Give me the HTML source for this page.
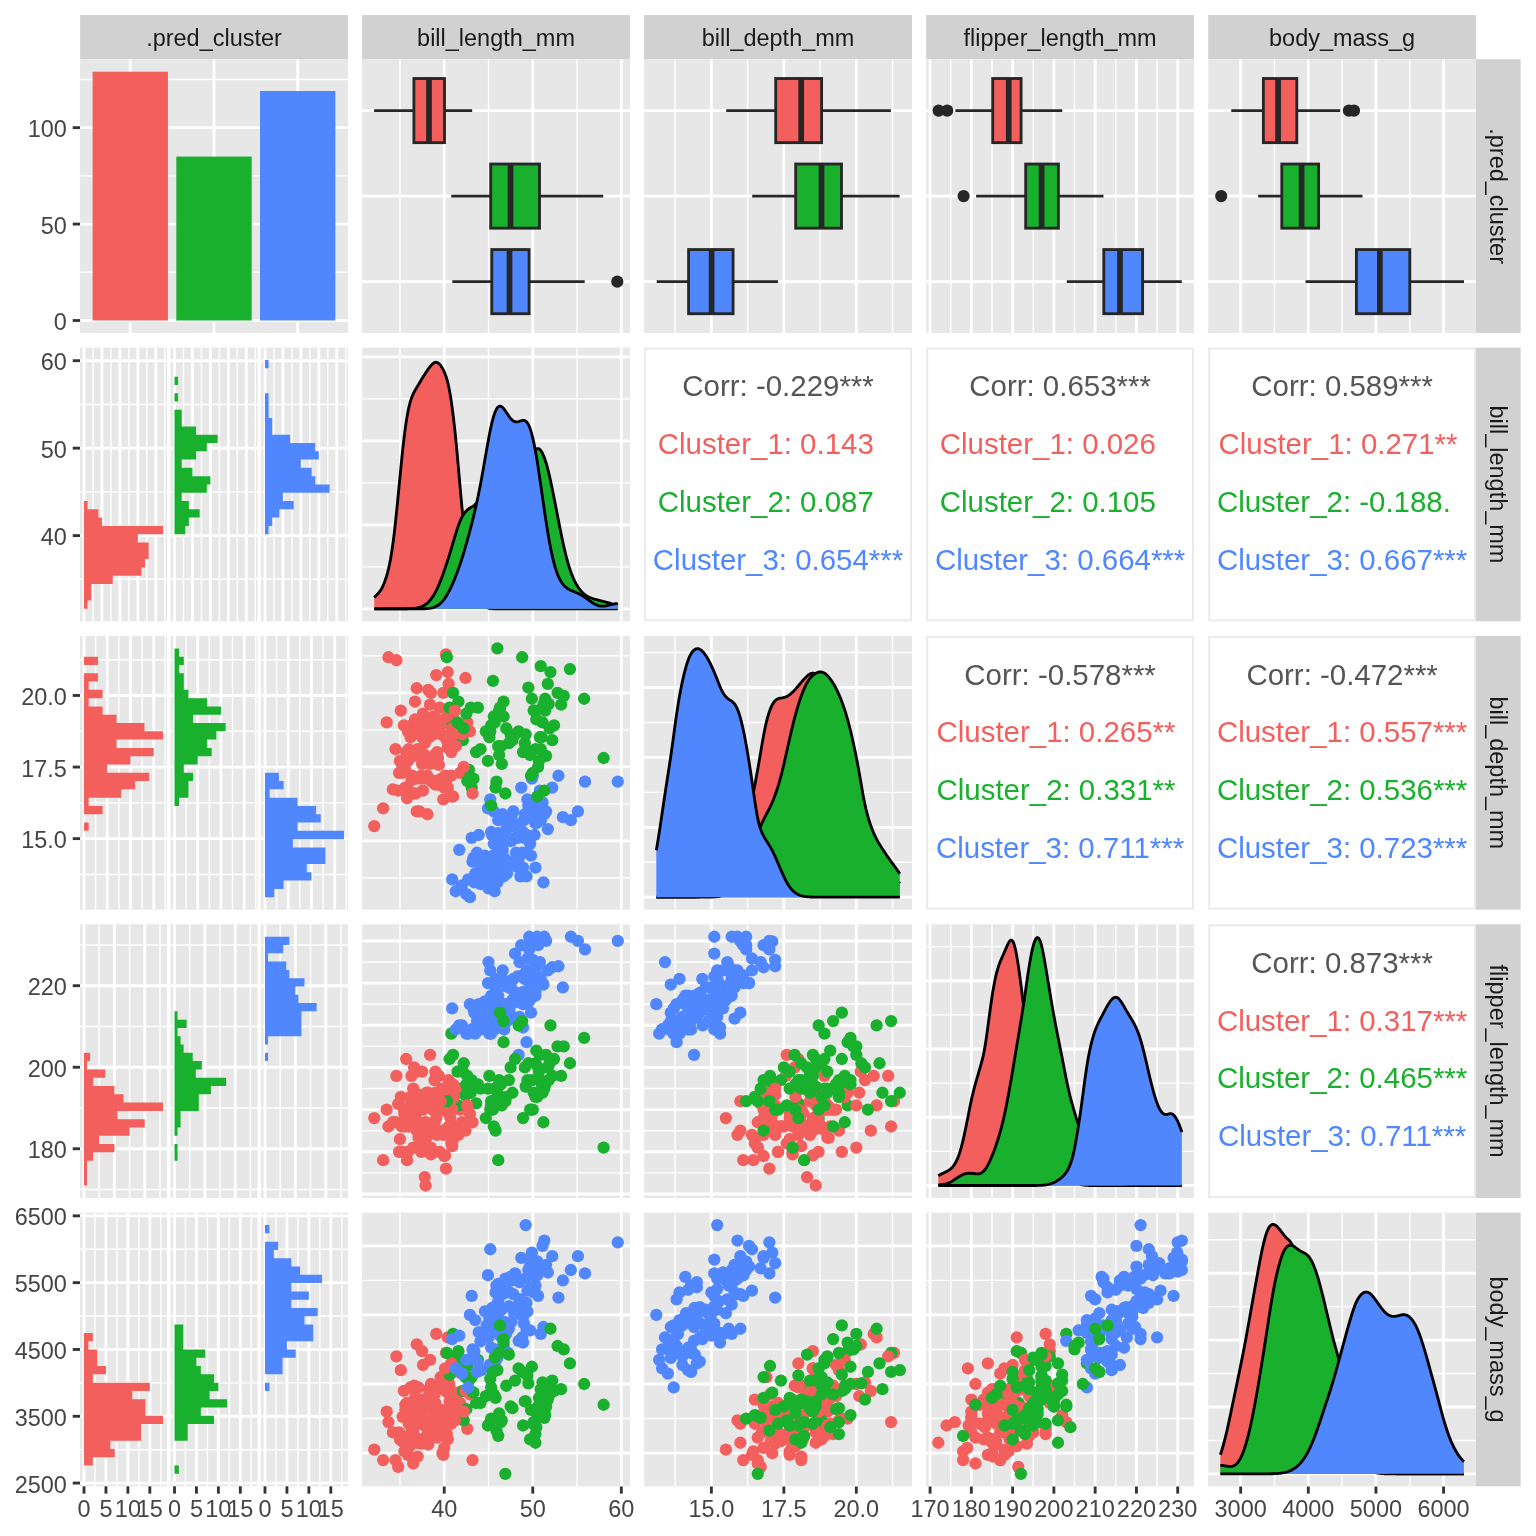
<!DOCTYPE html>
<html><head><meta charset="utf-8"><title>ggpairs clusters</title>
<style>html,body{margin:0;padding:0;background:#fff}svg{display:block;will-change:transform;font-family:"Liberation Sans",Arial,Helvetica,sans-serif}</style>
</head><body>
<svg width="1536" height="1536" viewBox="0 0 1536 1536">
<defs><clipPath id="c00"><rect x="80.07" y="59.27" width="267.85" height="273.67"/></clipPath><clipPath id="c01"><rect x="362.1" y="59.27" width="267.85" height="273.67"/></clipPath><clipPath id="c02"><rect x="644.13" y="59.27" width="267.85" height="273.67"/></clipPath><clipPath id="c03"><rect x="926.16" y="59.27" width="267.85" height="273.67"/></clipPath><clipPath id="c04"><rect x="1208.19" y="59.27" width="267.85" height="273.67"/></clipPath><clipPath id="c10"><rect x="80.07" y="347.61" width="267.85" height="273.67"/></clipPath><clipPath id="c11"><rect x="362.1" y="347.61" width="267.85" height="273.67"/></clipPath><clipPath id="c12"><rect x="644.13" y="347.61" width="267.85" height="273.67"/></clipPath><clipPath id="c13"><rect x="926.16" y="347.61" width="267.85" height="273.67"/></clipPath><clipPath id="c14"><rect x="1208.19" y="347.61" width="267.85" height="273.67"/></clipPath><clipPath id="c20"><rect x="80.07" y="635.95" width="267.85" height="273.67"/></clipPath><clipPath id="c21"><rect x="362.1" y="635.95" width="267.85" height="273.67"/></clipPath><clipPath id="c22"><rect x="644.13" y="635.95" width="267.85" height="273.67"/></clipPath><clipPath id="c23"><rect x="926.16" y="635.95" width="267.85" height="273.67"/></clipPath><clipPath id="c24"><rect x="1208.19" y="635.95" width="267.85" height="273.67"/></clipPath><clipPath id="c30"><rect x="80.07" y="924.29" width="267.85" height="273.67"/></clipPath><clipPath id="c31"><rect x="362.1" y="924.29" width="267.85" height="273.67"/></clipPath><clipPath id="c32"><rect x="644.13" y="924.29" width="267.85" height="273.67"/></clipPath><clipPath id="c33"><rect x="926.16" y="924.29" width="267.85" height="273.67"/></clipPath><clipPath id="c34"><rect x="1208.19" y="924.29" width="267.85" height="273.67"/></clipPath><clipPath id="c40"><rect x="80.07" y="1212.63" width="267.85" height="273.67"/></clipPath><clipPath id="c41"><rect x="362.1" y="1212.63" width="267.85" height="273.67"/></clipPath><clipPath id="c42"><rect x="644.13" y="1212.63" width="267.85" height="273.67"/></clipPath><clipPath id="c43"><rect x="926.16" y="1212.63" width="267.85" height="273.67"/></clipPath><clipPath id="c44"><rect x="1208.19" y="1212.63" width="267.85" height="273.67"/></clipPath></defs><rect x="0" y="0" width="1536" height="1536" fill="#FFFFFF"/>
<rect x="80.07" y="15.02" width="267.85" height="44.25" fill="#D1D1D1"/>
<text x="214" y="45.5" text-anchor="middle" font-size="23.47" fill="#1A1A1A">.pred_cluster</text>
<rect x="362.1" y="15.02" width="267.85" height="44.25" fill="#D1D1D1"/>
<text x="496.02" y="45.5" text-anchor="middle" font-size="23.47" fill="#1A1A1A">bill_length_mm</text>
<rect x="644.13" y="15.02" width="267.85" height="44.25" fill="#D1D1D1"/>
<text x="778.05" y="45.5" text-anchor="middle" font-size="23.47" fill="#1A1A1A">bill_depth_mm</text>
<rect x="926.16" y="15.02" width="267.85" height="44.25" fill="#D1D1D1"/>
<text x="1060.08" y="45.5" text-anchor="middle" font-size="23.47" fill="#1A1A1A">flipper_length_mm</text>
<rect x="1208.19" y="15.02" width="267.85" height="44.25" fill="#D1D1D1"/>
<text x="1342.11" y="45.5" text-anchor="middle" font-size="23.47" fill="#1A1A1A">body_mass_g</text>
<rect x="1476.04" y="59.27" width="44.6" height="273.67" fill="#D1D1D1"/>
<text transform="translate(1489.74,196.11) rotate(90)" text-anchor="middle" font-size="23.47" fill="#1A1A1A">.pred_cluster</text>
<rect x="1476.04" y="347.61" width="44.6" height="273.67" fill="#D1D1D1"/>
<text transform="translate(1489.74,484.45) rotate(90)" text-anchor="middle" font-size="23.47" fill="#1A1A1A">bill_length_mm</text>
<rect x="1476.04" y="635.95" width="44.6" height="273.67" fill="#D1D1D1"/>
<text transform="translate(1489.74,772.79) rotate(90)" text-anchor="middle" font-size="23.47" fill="#1A1A1A">bill_depth_mm</text>
<rect x="1476.04" y="924.29" width="44.6" height="273.67" fill="#D1D1D1"/>
<text transform="translate(1489.74,1061.12) rotate(90)" text-anchor="middle" font-size="23.47" fill="#1A1A1A">flipper_length_mm</text>
<rect x="1476.04" y="1212.63" width="44.6" height="273.67" fill="#D1D1D1"/>
<text transform="translate(1489.74,1349.47) rotate(90)" text-anchor="middle" font-size="23.47" fill="#1A1A1A">body_mass_g</text>
<rect x="80.07" y="59.27" width="267.85" height="273.67" fill="#E7E7E7"/>
<g clip-path="url(#c00)">
<line x1="80.07" y1="272.29" x2="347.92" y2="272.29" stroke="#FFFFFF" stroke-width="1.42"/>
<line x1="80.07" y1="175.85" x2="347.92" y2="175.85" stroke="#FFFFFF" stroke-width="1.42"/>
<line x1="80.07" y1="79.42" x2="347.92" y2="79.42" stroke="#FFFFFF" stroke-width="1.42"/>
<line x1="80.07" y1="320.5" x2="347.92" y2="320.5" stroke="#FFFFFF" stroke-width="2.85"/>
<line x1="80.07" y1="224.07" x2="347.92" y2="224.07" stroke="#FFFFFF" stroke-width="2.85"/>
<line x1="80.07" y1="127.64" x2="347.92" y2="127.64" stroke="#FFFFFF" stroke-width="2.85"/>
<line x1="130.29" y1="59.27" x2="130.29" y2="332.94" stroke="#FFFFFF" stroke-width="2.85"/>
<line x1="214" y1="59.27" x2="214" y2="332.94" stroke="#FFFFFF" stroke-width="2.85"/>
<line x1="297.7" y1="59.27" x2="297.7" y2="332.94" stroke="#FFFFFF" stroke-width="2.85"/>
<rect x="92.63" y="71.71" width="75.33" height="248.79" fill="#F25F5C"/>
<rect x="176.33" y="156.57" width="75.33" height="163.93" fill="#19B02D"/>
<rect x="260.03" y="91" width="75.33" height="229.5" fill="#5087FF"/>
</g>
<line x1="72.74" y1="320.5" x2="80.07" y2="320.5" stroke="#333333" stroke-width="2.85"/>
<text x="66.87" y="330.1" text-anchor="end" font-size="23.47" fill="#454545">0</text>
<line x1="72.74" y1="224.07" x2="80.07" y2="224.07" stroke="#333333" stroke-width="2.85"/>
<text x="66.87" y="233.67" text-anchor="end" font-size="23.47" fill="#454545">50</text>
<line x1="72.74" y1="127.64" x2="80.07" y2="127.64" stroke="#333333" stroke-width="2.85"/>
<text x="66.87" y="137.24" text-anchor="end" font-size="23.47" fill="#454545">100</text>
<rect x="362.1" y="59.27" width="267.85" height="273.67" fill="#E7E7E7"/>
<g clip-path="url(#c01)">
<line x1="399.95" y1="59.27" x2="399.95" y2="332.94" stroke="#FFFFFF" stroke-width="1.42"/>
<line x1="488.5" y1="59.27" x2="488.5" y2="332.94" stroke="#FFFFFF" stroke-width="1.42"/>
<line x1="577.04" y1="59.27" x2="577.04" y2="332.94" stroke="#FFFFFF" stroke-width="1.42"/>
<line x1="444.23" y1="59.27" x2="444.23" y2="332.94" stroke="#FFFFFF" stroke-width="2.85"/>
<line x1="532.77" y1="59.27" x2="532.77" y2="332.94" stroke="#FFFFFF" stroke-width="2.85"/>
<line x1="621.32" y1="59.27" x2="621.32" y2="332.94" stroke="#FFFFFF" stroke-width="2.85"/>
<line x1="362.1" y1="110.58" x2="629.95" y2="110.58" stroke="#FFFFFF" stroke-width="2.85"/>
<line x1="362.1" y1="196.11" x2="629.95" y2="196.11" stroke="#FFFFFF" stroke-width="2.85"/>
<line x1="362.1" y1="281.63" x2="629.95" y2="281.63" stroke="#FFFFFF" stroke-width="2.85"/>
<line x1="374.1" y1="110.58" x2="413.9" y2="110.58" stroke="#262626" stroke-width="2.85"/>
<line x1="444.5" y1="110.58" x2="472.2" y2="110.58" stroke="#262626" stroke-width="2.85"/>
<rect x="413.9" y="78.51" width="30.6" height="64.14" fill="#F25F5C" stroke="#262626" stroke-width="2.85"/>
<line x1="429" y1="78.51" x2="429" y2="142.65" stroke="#262626" stroke-width="5.7"/>
<line x1="451.3" y1="196.11" x2="490.7" y2="196.11" stroke="#262626" stroke-width="2.85"/>
<line x1="539.5" y1="196.11" x2="603.2" y2="196.11" stroke="#262626" stroke-width="2.85"/>
<rect x="490.7" y="164.03" width="48.8" height="64.14" fill="#19B02D" stroke="#262626" stroke-width="2.85"/>
<line x1="510.5" y1="164.03" x2="510.5" y2="228.18" stroke="#262626" stroke-width="5.7"/>
<circle cx="617.3" cy="281.63" r="6.1" fill="#262626"/>
<line x1="452.3" y1="281.63" x2="491.8" y2="281.63" stroke="#262626" stroke-width="2.85"/>
<line x1="529.1" y1="281.63" x2="584.7" y2="281.63" stroke="#262626" stroke-width="2.85"/>
<rect x="491.8" y="249.56" width="37.3" height="64.14" fill="#5087FF" stroke="#262626" stroke-width="2.85"/>
<line x1="509.5" y1="249.56" x2="509.5" y2="313.7" stroke="#262626" stroke-width="5.7"/>
</g>
<rect x="644.13" y="59.27" width="267.85" height="273.67" fill="#E7E7E7"/>
<g clip-path="url(#c02)">
<line x1="675.15" y1="59.27" x2="675.15" y2="332.94" stroke="#FFFFFF" stroke-width="1.42"/>
<line x1="747.62" y1="59.27" x2="747.62" y2="332.94" stroke="#FFFFFF" stroke-width="1.42"/>
<line x1="820.09" y1="59.27" x2="820.09" y2="332.94" stroke="#FFFFFF" stroke-width="1.42"/>
<line x1="892.56" y1="59.27" x2="892.56" y2="332.94" stroke="#FFFFFF" stroke-width="1.42"/>
<line x1="711.38" y1="59.27" x2="711.38" y2="332.94" stroke="#FFFFFF" stroke-width="2.85"/>
<line x1="783.85" y1="59.27" x2="783.85" y2="332.94" stroke="#FFFFFF" stroke-width="2.85"/>
<line x1="856.32" y1="59.27" x2="856.32" y2="332.94" stroke="#FFFFFF" stroke-width="2.85"/>
<line x1="644.13" y1="110.58" x2="911.98" y2="110.58" stroke="#FFFFFF" stroke-width="2.85"/>
<line x1="644.13" y1="196.11" x2="911.98" y2="196.11" stroke="#FFFFFF" stroke-width="2.85"/>
<line x1="644.13" y1="281.63" x2="911.98" y2="281.63" stroke="#FFFFFF" stroke-width="2.85"/>
<line x1="726.2" y1="110.58" x2="775.7" y2="110.58" stroke="#262626" stroke-width="2.85"/>
<line x1="821.6" y1="110.58" x2="890.9" y2="110.58" stroke="#262626" stroke-width="2.85"/>
<rect x="775.7" y="78.51" width="45.9" height="64.14" fill="#F25F5C" stroke="#262626" stroke-width="2.85"/>
<line x1="801.2" y1="78.51" x2="801.2" y2="142.65" stroke="#262626" stroke-width="5.7"/>
<line x1="752.2" y1="196.11" x2="795.7" y2="196.11" stroke="#262626" stroke-width="2.85"/>
<line x1="841.5" y1="196.11" x2="899.6" y2="196.11" stroke="#262626" stroke-width="2.85"/>
<rect x="795.7" y="164.03" width="45.8" height="64.14" fill="#19B02D" stroke="#262626" stroke-width="2.85"/>
<line x1="821.5" y1="164.03" x2="821.5" y2="228.18" stroke="#262626" stroke-width="5.7"/>
<line x1="656.7" y1="281.63" x2="688.6" y2="281.63" stroke="#262626" stroke-width="2.85"/>
<line x1="733.1" y1="281.63" x2="778" y2="281.63" stroke="#262626" stroke-width="2.85"/>
<rect x="688.6" y="249.56" width="44.5" height="64.14" fill="#5087FF" stroke="#262626" stroke-width="2.85"/>
<line x1="711.6" y1="249.56" x2="711.6" y2="313.7" stroke="#262626" stroke-width="5.7"/>
</g>
<rect x="926.16" y="59.27" width="267.85" height="273.67" fill="#E7E7E7"/>
<g clip-path="url(#c03)">
<line x1="950.72" y1="59.27" x2="950.72" y2="332.94" stroke="#FFFFFF" stroke-width="1.42"/>
<line x1="991.99" y1="59.27" x2="991.99" y2="332.94" stroke="#FFFFFF" stroke-width="1.42"/>
<line x1="1033.26" y1="59.27" x2="1033.26" y2="332.94" stroke="#FFFFFF" stroke-width="1.42"/>
<line x1="1074.53" y1="59.27" x2="1074.53" y2="332.94" stroke="#FFFFFF" stroke-width="1.42"/>
<line x1="1115.8" y1="59.27" x2="1115.8" y2="332.94" stroke="#FFFFFF" stroke-width="1.42"/>
<line x1="1157.07" y1="59.27" x2="1157.07" y2="332.94" stroke="#FFFFFF" stroke-width="1.42"/>
<line x1="930.08" y1="59.27" x2="930.08" y2="332.94" stroke="#FFFFFF" stroke-width="2.85"/>
<line x1="971.35" y1="59.27" x2="971.35" y2="332.94" stroke="#FFFFFF" stroke-width="2.85"/>
<line x1="1012.62" y1="59.27" x2="1012.62" y2="332.94" stroke="#FFFFFF" stroke-width="2.85"/>
<line x1="1053.89" y1="59.27" x2="1053.89" y2="332.94" stroke="#FFFFFF" stroke-width="2.85"/>
<line x1="1095.17" y1="59.27" x2="1095.17" y2="332.94" stroke="#FFFFFF" stroke-width="2.85"/>
<line x1="1136.44" y1="59.27" x2="1136.44" y2="332.94" stroke="#FFFFFF" stroke-width="2.85"/>
<line x1="1177.71" y1="59.27" x2="1177.71" y2="332.94" stroke="#FFFFFF" stroke-width="2.85"/>
<line x1="926.16" y1="110.58" x2="1194.01" y2="110.58" stroke="#FFFFFF" stroke-width="2.85"/>
<line x1="926.16" y1="196.11" x2="1194.01" y2="196.11" stroke="#FFFFFF" stroke-width="2.85"/>
<line x1="926.16" y1="281.63" x2="1194.01" y2="281.63" stroke="#FFFFFF" stroke-width="2.85"/>
<circle cx="938.6" cy="110.58" r="6.1" fill="#262626"/>
<circle cx="947.2" cy="110.58" r="6.1" fill="#262626"/>
<line x1="955.4" y1="110.58" x2="992.7" y2="110.58" stroke="#262626" stroke-width="2.85"/>
<line x1="1021.1" y1="110.58" x2="1062.3" y2="110.58" stroke="#262626" stroke-width="2.85"/>
<rect x="992.7" y="78.51" width="28.4" height="64.14" fill="#F25F5C" stroke="#262626" stroke-width="2.85"/>
<line x1="1008.75" y1="78.51" x2="1008.75" y2="142.65" stroke="#262626" stroke-width="5.7"/>
<circle cx="963.6" cy="196.11" r="6.1" fill="#262626"/>
<line x1="976.1" y1="196.11" x2="1025.7" y2="196.11" stroke="#262626" stroke-width="2.85"/>
<line x1="1058.4" y1="196.11" x2="1103.5" y2="196.11" stroke="#262626" stroke-width="2.85"/>
<rect x="1025.7" y="164.03" width="32.7" height="64.14" fill="#19B02D" stroke="#262626" stroke-width="2.85"/>
<line x1="1041.6" y1="164.03" x2="1041.6" y2="228.18" stroke="#262626" stroke-width="5.7"/>
<line x1="1066.8" y1="281.63" x2="1103.8" y2="281.63" stroke="#262626" stroke-width="2.85"/>
<line x1="1142.6" y1="281.63" x2="1181.8" y2="281.63" stroke="#262626" stroke-width="2.85"/>
<rect x="1103.8" y="249.56" width="38.8" height="64.14" fill="#5087FF" stroke="#262626" stroke-width="2.85"/>
<line x1="1120" y1="249.56" x2="1120" y2="313.7" stroke="#262626" stroke-width="5.7"/>
</g>
<rect x="1208.19" y="59.27" width="267.85" height="273.67" fill="#E7E7E7"/>
<g clip-path="url(#c04)">
<line x1="1274.48" y1="59.27" x2="1274.48" y2="332.94" stroke="#FFFFFF" stroke-width="1.42"/>
<line x1="1342.11" y1="59.27" x2="1342.11" y2="332.94" stroke="#FFFFFF" stroke-width="1.42"/>
<line x1="1409.75" y1="59.27" x2="1409.75" y2="332.94" stroke="#FFFFFF" stroke-width="1.42"/>
<line x1="1240.66" y1="59.27" x2="1240.66" y2="332.94" stroke="#FFFFFF" stroke-width="2.85"/>
<line x1="1308.3" y1="59.27" x2="1308.3" y2="332.94" stroke="#FFFFFF" stroke-width="2.85"/>
<line x1="1375.93" y1="59.27" x2="1375.93" y2="332.94" stroke="#FFFFFF" stroke-width="2.85"/>
<line x1="1443.57" y1="59.27" x2="1443.57" y2="332.94" stroke="#FFFFFF" stroke-width="2.85"/>
<line x1="1208.19" y1="110.58" x2="1476.04" y2="110.58" stroke="#FFFFFF" stroke-width="2.85"/>
<line x1="1208.19" y1="196.11" x2="1476.04" y2="196.11" stroke="#FFFFFF" stroke-width="2.85"/>
<line x1="1208.19" y1="281.63" x2="1476.04" y2="281.63" stroke="#FFFFFF" stroke-width="2.85"/>
<circle cx="1348.9" cy="110.58" r="6.1" fill="#262626"/>
<circle cx="1354" cy="110.58" r="6.1" fill="#262626"/>
<line x1="1231.25" y1="110.58" x2="1263.4" y2="110.58" stroke="#262626" stroke-width="2.85"/>
<line x1="1296.8" y1="110.58" x2="1340.2" y2="110.58" stroke="#262626" stroke-width="2.85"/>
<rect x="1263.4" y="78.51" width="33.4" height="64.14" fill="#F25F5C" stroke="#262626" stroke-width="2.85"/>
<line x1="1278.1" y1="78.51" x2="1278.1" y2="142.65" stroke="#262626" stroke-width="5.7"/>
<circle cx="1221.2" cy="196.11" r="6.1" fill="#262626"/>
<line x1="1258.2" y1="196.11" x2="1281.8" y2="196.11" stroke="#262626" stroke-width="2.85"/>
<line x1="1318.6" y1="196.11" x2="1362.5" y2="196.11" stroke="#262626" stroke-width="2.85"/>
<rect x="1281.8" y="164.03" width="36.8" height="64.14" fill="#19B02D" stroke="#262626" stroke-width="2.85"/>
<line x1="1301.6" y1="164.03" x2="1301.6" y2="228.18" stroke="#262626" stroke-width="5.7"/>
<line x1="1305.5" y1="281.63" x2="1356.4" y2="281.63" stroke="#262626" stroke-width="2.85"/>
<line x1="1409.8" y1="281.63" x2="1464" y2="281.63" stroke="#262626" stroke-width="2.85"/>
<rect x="1356.4" y="249.56" width="53.4" height="64.14" fill="#5087FF" stroke="#262626" stroke-width="2.85"/>
<line x1="1379.9" y1="249.56" x2="1379.9" y2="313.7" stroke="#262626" stroke-width="5.7"/>
</g>
<rect x="80.07" y="347.61" width="86.88" height="273.67" fill="#E7E7E7"/>
<line x1="80.07" y1="579.33" x2="166.95" y2="579.33" stroke="#FFFFFF" stroke-width="1.42"/>
<line x1="80.07" y1="491.88" x2="166.95" y2="491.88" stroke="#FFFFFF" stroke-width="1.42"/>
<line x1="80.07" y1="404.42" x2="166.95" y2="404.42" stroke="#FFFFFF" stroke-width="1.42"/>
<line x1="80.07" y1="535.61" x2="166.95" y2="535.61" stroke="#FFFFFF" stroke-width="2.85"/>
<line x1="80.07" y1="448.15" x2="166.95" y2="448.15" stroke="#FFFFFF" stroke-width="2.85"/>
<line x1="80.07" y1="360.7" x2="166.95" y2="360.7" stroke="#FFFFFF" stroke-width="2.85"/>
<line x1="92.99" y1="347.61" x2="92.99" y2="621.28" stroke="#FFFFFF" stroke-width="1.42"/>
<line x1="110.95" y1="347.61" x2="110.95" y2="621.28" stroke="#FFFFFF" stroke-width="1.42"/>
<line x1="128.9" y1="347.61" x2="128.9" y2="621.28" stroke="#FFFFFF" stroke-width="1.42"/>
<line x1="146.85" y1="347.61" x2="146.85" y2="621.28" stroke="#FFFFFF" stroke-width="1.42"/>
<line x1="164.8" y1="347.61" x2="164.8" y2="621.28" stroke="#FFFFFF" stroke-width="1.42"/>
<line x1="84.02" y1="347.61" x2="84.02" y2="621.28" stroke="#FFFFFF" stroke-width="2.85"/>
<line x1="101.97" y1="347.61" x2="101.97" y2="621.28" stroke="#FFFFFF" stroke-width="2.85"/>
<line x1="119.92" y1="347.61" x2="119.92" y2="621.28" stroke="#FFFFFF" stroke-width="2.85"/>
<line x1="137.87" y1="347.61" x2="137.87" y2="621.28" stroke="#FFFFFF" stroke-width="2.85"/>
<line x1="155.82" y1="347.61" x2="155.82" y2="621.28" stroke="#FFFFFF" stroke-width="2.85"/>
<path d="M84.02 600.55H87.61V608.84H84.02ZM84.02 592.25H91.2V600.55H84.02ZM84.02 583.96H91.2V592.25H84.02ZM84.02 575.67H112.74V583.96H84.02ZM84.02 567.38H141.46V575.67H84.02ZM84.02 559.08H145.05V567.38H84.02ZM84.02 550.79H148.64V559.08H84.02ZM84.02 542.5H148.64V550.79H84.02ZM84.02 534.2H137.87V542.5H84.02ZM84.02 525.91H163V534.2H84.02ZM84.02 517.62H101.97V525.91H84.02ZM84.02 509.32H98.38V517.62H84.02ZM84.02 501.03H87.61V509.32H84.02Z" fill="#F25F5C"/>
<rect x="170.55" y="347.61" width="86.88" height="273.67" fill="#E7E7E7"/>
<line x1="170.55" y1="579.33" x2="257.44" y2="579.33" stroke="#FFFFFF" stroke-width="1.42"/>
<line x1="170.55" y1="491.88" x2="257.44" y2="491.88" stroke="#FFFFFF" stroke-width="1.42"/>
<line x1="170.55" y1="404.42" x2="257.44" y2="404.42" stroke="#FFFFFF" stroke-width="1.42"/>
<line x1="170.55" y1="535.61" x2="257.44" y2="535.61" stroke="#FFFFFF" stroke-width="2.85"/>
<line x1="170.55" y1="448.15" x2="257.44" y2="448.15" stroke="#FFFFFF" stroke-width="2.85"/>
<line x1="170.55" y1="360.7" x2="257.44" y2="360.7" stroke="#FFFFFF" stroke-width="2.85"/>
<line x1="183.48" y1="347.61" x2="183.48" y2="621.28" stroke="#FFFFFF" stroke-width="1.42"/>
<line x1="201.43" y1="347.61" x2="201.43" y2="621.28" stroke="#FFFFFF" stroke-width="1.42"/>
<line x1="219.38" y1="347.61" x2="219.38" y2="621.28" stroke="#FFFFFF" stroke-width="1.42"/>
<line x1="237.33" y1="347.61" x2="237.33" y2="621.28" stroke="#FFFFFF" stroke-width="1.42"/>
<line x1="255.28" y1="347.61" x2="255.28" y2="621.28" stroke="#FFFFFF" stroke-width="1.42"/>
<line x1="174.5" y1="347.61" x2="174.5" y2="621.28" stroke="#FFFFFF" stroke-width="2.85"/>
<line x1="192.45" y1="347.61" x2="192.45" y2="621.28" stroke="#FFFFFF" stroke-width="2.85"/>
<line x1="210.4" y1="347.61" x2="210.4" y2="621.28" stroke="#FFFFFF" stroke-width="2.85"/>
<line x1="228.36" y1="347.61" x2="228.36" y2="621.28" stroke="#FFFFFF" stroke-width="2.85"/>
<line x1="246.31" y1="347.61" x2="246.31" y2="621.28" stroke="#FFFFFF" stroke-width="2.85"/>
<path d="M174.5 525.91H185.27V534.2H174.5ZM174.5 517.62H188.86V525.91H174.5ZM174.5 509.32H199.63V517.62H174.5ZM174.5 501.03H188.86V509.32H174.5ZM174.5 492.74H181.68V501.03H174.5ZM174.5 484.44H206.81V492.74H174.5ZM174.5 476.15H210.4V484.44H174.5ZM174.5 467.86H192.45V476.15H174.5ZM174.5 459.57H181.68V467.86H174.5ZM174.5 451.27H196.04V459.57H174.5ZM174.5 442.98H206.81V451.27H174.5ZM174.5 434.69H217.59V442.98H174.5ZM174.5 426.39H196.04V434.69H174.5ZM174.5 418.1H181.68V426.39H174.5ZM174.5 409.81H181.68V418.1H174.5ZM174.5 393.22H178.09V401.51H174.5ZM174.5 376.64H178.09V384.93H174.5Z" fill="#19B02D"/>
<rect x="261.04" y="347.61" width="86.88" height="273.67" fill="#E7E7E7"/>
<line x1="261.04" y1="579.33" x2="347.92" y2="579.33" stroke="#FFFFFF" stroke-width="1.42"/>
<line x1="261.04" y1="491.88" x2="347.92" y2="491.88" stroke="#FFFFFF" stroke-width="1.42"/>
<line x1="261.04" y1="404.42" x2="347.92" y2="404.42" stroke="#FFFFFF" stroke-width="1.42"/>
<line x1="261.04" y1="535.61" x2="347.92" y2="535.61" stroke="#FFFFFF" stroke-width="2.85"/>
<line x1="261.04" y1="448.15" x2="347.92" y2="448.15" stroke="#FFFFFF" stroke-width="2.85"/>
<line x1="261.04" y1="360.7" x2="347.92" y2="360.7" stroke="#FFFFFF" stroke-width="2.85"/>
<line x1="273.96" y1="347.61" x2="273.96" y2="621.28" stroke="#FFFFFF" stroke-width="1.42"/>
<line x1="291.91" y1="347.61" x2="291.91" y2="621.28" stroke="#FFFFFF" stroke-width="1.42"/>
<line x1="309.86" y1="347.61" x2="309.86" y2="621.28" stroke="#FFFFFF" stroke-width="1.42"/>
<line x1="327.81" y1="347.61" x2="327.81" y2="621.28" stroke="#FFFFFF" stroke-width="1.42"/>
<line x1="345.77" y1="347.61" x2="345.77" y2="621.28" stroke="#FFFFFF" stroke-width="1.42"/>
<line x1="264.99" y1="347.61" x2="264.99" y2="621.28" stroke="#FFFFFF" stroke-width="2.85"/>
<line x1="282.94" y1="347.61" x2="282.94" y2="621.28" stroke="#FFFFFF" stroke-width="2.85"/>
<line x1="300.89" y1="347.61" x2="300.89" y2="621.28" stroke="#FFFFFF" stroke-width="2.85"/>
<line x1="318.84" y1="347.61" x2="318.84" y2="621.28" stroke="#FFFFFF" stroke-width="2.85"/>
<line x1="336.79" y1="347.61" x2="336.79" y2="621.28" stroke="#FFFFFF" stroke-width="2.85"/>
<path d="M264.99 525.91H268.58V534.2H264.99ZM264.99 517.62H272.17V525.91H264.99ZM264.99 509.32H279.35V517.62H264.99ZM264.99 501.03H293.71V509.32H264.99ZM264.99 492.74H282.94V501.03H264.99ZM264.99 484.44H329.61V492.74H264.99ZM264.99 476.15H315.25V484.44H264.99ZM264.99 467.86H311.66V476.15H264.99ZM264.99 459.57H300.89V467.86H264.99ZM264.99 451.27H318.84V459.57H264.99ZM264.99 442.98H315.25V451.27H264.99ZM264.99 434.69H290.12V442.98H264.99ZM264.99 426.39H272.17V434.69H264.99ZM264.99 418.1H272.17V426.39H264.99ZM264.99 409.81H268.58V418.1H264.99ZM264.99 401.51H268.58V409.81H264.99ZM264.99 393.22H268.58V401.51H264.99ZM264.99 360.05H268.58V368.34H264.99Z" fill="#5087FF"/>
<line x1="72.74" y1="535.61" x2="80.07" y2="535.61" stroke="#333333" stroke-width="2.85"/>
<text x="66.87" y="545.21" text-anchor="end" font-size="23.47" fill="#454545">40</text>
<line x1="72.74" y1="448.15" x2="80.07" y2="448.15" stroke="#333333" stroke-width="2.85"/>
<text x="66.87" y="457.75" text-anchor="end" font-size="23.47" fill="#454545">50</text>
<line x1="72.74" y1="360.7" x2="80.07" y2="360.7" stroke="#333333" stroke-width="2.85"/>
<text x="66.87" y="370.3" text-anchor="end" font-size="23.47" fill="#454545">60</text>
<rect x="80.07" y="635.95" width="86.88" height="273.67" fill="#E7E7E7"/>
<line x1="80.07" y1="874.42" x2="166.95" y2="874.42" stroke="#FFFFFF" stroke-width="1.42"/>
<line x1="80.07" y1="802.85" x2="166.95" y2="802.85" stroke="#FFFFFF" stroke-width="1.42"/>
<line x1="80.07" y1="731.27" x2="166.95" y2="731.27" stroke="#FFFFFF" stroke-width="1.42"/>
<line x1="80.07" y1="659.69" x2="166.95" y2="659.69" stroke="#FFFFFF" stroke-width="1.42"/>
<line x1="80.07" y1="838.64" x2="166.95" y2="838.64" stroke="#FFFFFF" stroke-width="2.85"/>
<line x1="80.07" y1="767.06" x2="166.95" y2="767.06" stroke="#FFFFFF" stroke-width="2.85"/>
<line x1="80.07" y1="695.48" x2="166.95" y2="695.48" stroke="#FFFFFF" stroke-width="2.85"/>
<line x1="95.63" y1="635.95" x2="95.63" y2="909.62" stroke="#FFFFFF" stroke-width="1.42"/>
<line x1="118.87" y1="635.95" x2="118.87" y2="909.62" stroke="#FFFFFF" stroke-width="1.42"/>
<line x1="142.1" y1="635.95" x2="142.1" y2="909.62" stroke="#FFFFFF" stroke-width="1.42"/>
<line x1="165.33" y1="635.95" x2="165.33" y2="909.62" stroke="#FFFFFF" stroke-width="1.42"/>
<line x1="84.02" y1="635.95" x2="84.02" y2="909.62" stroke="#FFFFFF" stroke-width="2.85"/>
<line x1="107.25" y1="635.95" x2="107.25" y2="909.62" stroke="#FFFFFF" stroke-width="2.85"/>
<line x1="130.48" y1="635.95" x2="130.48" y2="909.62" stroke="#FFFFFF" stroke-width="2.85"/>
<line x1="153.71" y1="635.95" x2="153.71" y2="909.62" stroke="#FFFFFF" stroke-width="2.85"/>
<path d="M84.02 822.54H88.67V830.84H84.02ZM84.02 805.96H102.6V814.25H84.02ZM84.02 797.66H88.67V805.96H84.02ZM84.02 789.37H121.19V797.66H84.02ZM84.02 781.08H135.13V789.37H84.02ZM84.02 772.79H149.07V781.08H84.02ZM84.02 764.49H107.25V772.79H84.02ZM84.02 756.2H130.48V764.49H84.02ZM84.02 747.91H153.71V756.2H84.02ZM84.02 739.61H116.54V747.91H84.02ZM84.02 731.32H163V739.61H84.02ZM84.02 723.03H144.42V731.32H84.02ZM84.02 714.73H116.54V723.03H84.02ZM84.02 706.44H102.6V714.73H84.02ZM84.02 698.15H88.67V706.44H84.02ZM84.02 689.85H102.6V698.15H84.02ZM84.02 681.56H88.67V689.85H84.02ZM84.02 673.27H97.96V681.56H84.02ZM84.02 656.68H97.96V664.98H84.02Z" fill="#F25F5C"/>
<rect x="170.55" y="635.95" width="86.88" height="273.67" fill="#E7E7E7"/>
<line x1="170.55" y1="874.42" x2="257.44" y2="874.42" stroke="#FFFFFF" stroke-width="1.42"/>
<line x1="170.55" y1="802.85" x2="257.44" y2="802.85" stroke="#FFFFFF" stroke-width="1.42"/>
<line x1="170.55" y1="731.27" x2="257.44" y2="731.27" stroke="#FFFFFF" stroke-width="1.42"/>
<line x1="170.55" y1="659.69" x2="257.44" y2="659.69" stroke="#FFFFFF" stroke-width="1.42"/>
<line x1="170.55" y1="838.64" x2="257.44" y2="838.64" stroke="#FFFFFF" stroke-width="2.85"/>
<line x1="170.55" y1="767.06" x2="257.44" y2="767.06" stroke="#FFFFFF" stroke-width="2.85"/>
<line x1="170.55" y1="695.48" x2="257.44" y2="695.48" stroke="#FFFFFF" stroke-width="2.85"/>
<line x1="186.12" y1="635.95" x2="186.12" y2="909.62" stroke="#FFFFFF" stroke-width="1.42"/>
<line x1="209.35" y1="635.95" x2="209.35" y2="909.62" stroke="#FFFFFF" stroke-width="1.42"/>
<line x1="232.58" y1="635.95" x2="232.58" y2="909.62" stroke="#FFFFFF" stroke-width="1.42"/>
<line x1="255.81" y1="635.95" x2="255.81" y2="909.62" stroke="#FFFFFF" stroke-width="1.42"/>
<line x1="174.5" y1="635.95" x2="174.5" y2="909.62" stroke="#FFFFFF" stroke-width="2.85"/>
<line x1="197.73" y1="635.95" x2="197.73" y2="909.62" stroke="#FFFFFF" stroke-width="2.85"/>
<line x1="220.96" y1="635.95" x2="220.96" y2="909.62" stroke="#FFFFFF" stroke-width="2.85"/>
<line x1="244.2" y1="635.95" x2="244.2" y2="909.62" stroke="#FFFFFF" stroke-width="2.85"/>
<path d="M174.5 797.66H179.15V805.96H174.5ZM174.5 789.37H188.44V797.66H174.5ZM174.5 781.08H188.44V789.37H174.5ZM174.5 772.79H193.09V781.08H174.5ZM174.5 764.49H183.79V772.79H174.5ZM174.5 756.2H197.73V764.49H174.5ZM174.5 747.91H211.67V756.2H174.5ZM174.5 739.61H207.03V747.91H174.5ZM174.5 731.32H216.32V739.61H174.5ZM174.5 723.03H225.61V731.32H174.5ZM174.5 714.73H193.09V723.03H174.5ZM174.5 706.44H220.96V714.73H174.5ZM174.5 698.15H207.03V706.44H174.5ZM174.5 689.85H188.44V698.15H174.5ZM174.5 681.56H183.79V689.85H174.5ZM174.5 673.27H183.79V681.56H174.5ZM174.5 664.98H179.15V673.27H174.5ZM174.5 656.68H183.79V664.98H174.5ZM174.5 648.39H179.15V656.68H174.5Z" fill="#19B02D"/>
<rect x="261.04" y="635.95" width="86.88" height="273.67" fill="#E7E7E7"/>
<line x1="261.04" y1="874.42" x2="347.92" y2="874.42" stroke="#FFFFFF" stroke-width="1.42"/>
<line x1="261.04" y1="802.85" x2="347.92" y2="802.85" stroke="#FFFFFF" stroke-width="1.42"/>
<line x1="261.04" y1="731.27" x2="347.92" y2="731.27" stroke="#FFFFFF" stroke-width="1.42"/>
<line x1="261.04" y1="659.69" x2="347.92" y2="659.69" stroke="#FFFFFF" stroke-width="1.42"/>
<line x1="261.04" y1="838.64" x2="347.92" y2="838.64" stroke="#FFFFFF" stroke-width="2.85"/>
<line x1="261.04" y1="767.06" x2="347.92" y2="767.06" stroke="#FFFFFF" stroke-width="2.85"/>
<line x1="261.04" y1="695.48" x2="347.92" y2="695.48" stroke="#FFFFFF" stroke-width="2.85"/>
<line x1="276.6" y1="635.95" x2="276.6" y2="909.62" stroke="#FFFFFF" stroke-width="1.42"/>
<line x1="299.83" y1="635.95" x2="299.83" y2="909.62" stroke="#FFFFFF" stroke-width="1.42"/>
<line x1="323.06" y1="635.95" x2="323.06" y2="909.62" stroke="#FFFFFF" stroke-width="1.42"/>
<line x1="346.29" y1="635.95" x2="346.29" y2="909.62" stroke="#FFFFFF" stroke-width="1.42"/>
<line x1="264.99" y1="635.95" x2="264.99" y2="909.62" stroke="#FFFFFF" stroke-width="2.85"/>
<line x1="288.22" y1="635.95" x2="288.22" y2="909.62" stroke="#FFFFFF" stroke-width="2.85"/>
<line x1="311.45" y1="635.95" x2="311.45" y2="909.62" stroke="#FFFFFF" stroke-width="2.85"/>
<line x1="334.68" y1="635.95" x2="334.68" y2="909.62" stroke="#FFFFFF" stroke-width="2.85"/>
<path d="M264.99 888.89H274.28V897.18H264.99ZM264.99 880.59H283.57V888.89H264.99ZM264.99 872.3H311.45V880.59H264.99ZM264.99 864.01H306.8V872.3H264.99ZM264.99 855.72H325.39V864.01H264.99ZM264.99 847.42H325.39V855.72H264.99ZM264.99 839.13H292.86V847.42H264.99ZM264.99 830.84H343.97V839.13H264.99ZM264.99 822.54H297.51V830.84H264.99ZM264.99 814.25H320.74V822.54H264.99ZM264.99 805.96H316.09V814.25H264.99ZM264.99 797.66H297.51V805.96H264.99ZM264.99 789.37H269.63V797.66H264.99ZM264.99 781.08H283.57V789.37H264.99ZM264.99 772.79H278.92V781.08H264.99Z" fill="#5087FF"/>
<line x1="72.74" y1="838.64" x2="80.07" y2="838.64" stroke="#333333" stroke-width="2.85"/>
<text x="66.87" y="848.24" text-anchor="end" font-size="23.47" fill="#454545">15.0</text>
<line x1="72.74" y1="767.06" x2="80.07" y2="767.06" stroke="#333333" stroke-width="2.85"/>
<text x="66.87" y="776.66" text-anchor="end" font-size="23.47" fill="#454545">17.5</text>
<line x1="72.74" y1="695.48" x2="80.07" y2="695.48" stroke="#333333" stroke-width="2.85"/>
<text x="66.87" y="705.08" text-anchor="end" font-size="23.47" fill="#454545">20.0</text>
<rect x="80.07" y="924.29" width="86.88" height="273.67" fill="#E7E7E7"/>
<line x1="80.07" y1="1189.53" x2="166.95" y2="1189.53" stroke="#FFFFFF" stroke-width="1.42"/>
<line x1="80.07" y1="1108" x2="166.95" y2="1108" stroke="#FFFFFF" stroke-width="1.42"/>
<line x1="80.07" y1="1026.48" x2="166.95" y2="1026.48" stroke="#FFFFFF" stroke-width="1.42"/>
<line x1="80.07" y1="944.95" x2="166.95" y2="944.95" stroke="#FFFFFF" stroke-width="1.42"/>
<line x1="80.07" y1="1148.76" x2="166.95" y2="1148.76" stroke="#FFFFFF" stroke-width="2.85"/>
<line x1="80.07" y1="1067.24" x2="166.95" y2="1067.24" stroke="#FFFFFF" stroke-width="2.85"/>
<line x1="80.07" y1="985.71" x2="166.95" y2="985.71" stroke="#FFFFFF" stroke-width="2.85"/>
<line x1="99.21" y1="924.29" x2="99.21" y2="1197.96" stroke="#FFFFFF" stroke-width="1.42"/>
<line x1="129.59" y1="924.29" x2="129.59" y2="1197.96" stroke="#FFFFFF" stroke-width="1.42"/>
<line x1="159.97" y1="924.29" x2="159.97" y2="1197.96" stroke="#FFFFFF" stroke-width="1.42"/>
<line x1="84.02" y1="924.29" x2="84.02" y2="1197.96" stroke="#FFFFFF" stroke-width="2.85"/>
<line x1="114.4" y1="924.29" x2="114.4" y2="1197.96" stroke="#FFFFFF" stroke-width="2.85"/>
<line x1="144.78" y1="924.29" x2="144.78" y2="1197.96" stroke="#FFFFFF" stroke-width="2.85"/>
<path d="M84.02 1177.23H87.06V1185.52H84.02ZM84.02 1168.93H87.06V1177.23H84.02ZM84.02 1160.64H87.06V1168.93H84.02ZM84.02 1152.35H93.13V1160.64H84.02ZM84.02 1144.06H114.4V1152.35H84.02ZM84.02 1135.76H99.21V1144.06H84.02ZM84.02 1127.47H129.59V1135.76H84.02ZM84.02 1119.18H144.78V1127.47H84.02ZM84.02 1110.88H117.44V1119.18H84.02ZM84.02 1102.59H163V1110.88H84.02ZM84.02 1094.3H123.51V1102.59H84.02ZM84.02 1086H114.4V1094.3H84.02ZM84.02 1077.71H93.13V1086H84.02ZM84.02 1069.42H105.28V1077.71H84.02ZM84.02 1061.12H87.06V1069.42H84.02ZM84.02 1052.83H90.09V1061.12H84.02Z" fill="#F25F5C"/>
<rect x="170.55" y="924.29" width="86.88" height="273.67" fill="#E7E7E7"/>
<line x1="170.55" y1="1189.53" x2="257.44" y2="1189.53" stroke="#FFFFFF" stroke-width="1.42"/>
<line x1="170.55" y1="1108" x2="257.44" y2="1108" stroke="#FFFFFF" stroke-width="1.42"/>
<line x1="170.55" y1="1026.48" x2="257.44" y2="1026.48" stroke="#FFFFFF" stroke-width="1.42"/>
<line x1="170.55" y1="944.95" x2="257.44" y2="944.95" stroke="#FFFFFF" stroke-width="1.42"/>
<line x1="170.55" y1="1148.76" x2="257.44" y2="1148.76" stroke="#FFFFFF" stroke-width="2.85"/>
<line x1="170.55" y1="1067.24" x2="257.44" y2="1067.24" stroke="#FFFFFF" stroke-width="2.85"/>
<line x1="170.55" y1="985.71" x2="257.44" y2="985.71" stroke="#FFFFFF" stroke-width="2.85"/>
<line x1="189.69" y1="924.29" x2="189.69" y2="1197.96" stroke="#FFFFFF" stroke-width="1.42"/>
<line x1="220.07" y1="924.29" x2="220.07" y2="1197.96" stroke="#FFFFFF" stroke-width="1.42"/>
<line x1="250.45" y1="924.29" x2="250.45" y2="1197.96" stroke="#FFFFFF" stroke-width="1.42"/>
<line x1="174.5" y1="924.29" x2="174.5" y2="1197.96" stroke="#FFFFFF" stroke-width="2.85"/>
<line x1="204.88" y1="924.29" x2="204.88" y2="1197.96" stroke="#FFFFFF" stroke-width="2.85"/>
<line x1="235.26" y1="924.29" x2="235.26" y2="1197.96" stroke="#FFFFFF" stroke-width="2.85"/>
<path d="M174.5 1152.35H177.54V1160.64H174.5ZM174.5 1144.06H177.54V1152.35H174.5ZM174.5 1127.47H177.54V1135.76H174.5ZM174.5 1119.18H180.58V1127.47H174.5ZM174.5 1110.88H180.58V1119.18H174.5ZM174.5 1102.59H198.81V1110.88H174.5ZM174.5 1094.3H198.81V1102.59H174.5ZM174.5 1086H210.96V1094.3H174.5ZM174.5 1077.71H226.15V1086H174.5ZM174.5 1069.42H195.77V1077.71H174.5ZM174.5 1061.12H201.84V1069.42H174.5ZM174.5 1052.83H192.73V1061.12H174.5ZM174.5 1044.54H183.62V1052.83H174.5ZM174.5 1036.25H180.58V1044.54H174.5ZM174.5 1027.95H177.54V1036.25H174.5ZM174.5 1019.66H186.65V1027.95H174.5ZM174.5 1011.37H177.54V1019.66H174.5Z" fill="#19B02D"/>
<rect x="261.04" y="924.29" width="86.88" height="273.67" fill="#E7E7E7"/>
<line x1="261.04" y1="1189.53" x2="347.92" y2="1189.53" stroke="#FFFFFF" stroke-width="1.42"/>
<line x1="261.04" y1="1108" x2="347.92" y2="1108" stroke="#FFFFFF" stroke-width="1.42"/>
<line x1="261.04" y1="1026.48" x2="347.92" y2="1026.48" stroke="#FFFFFF" stroke-width="1.42"/>
<line x1="261.04" y1="944.95" x2="347.92" y2="944.95" stroke="#FFFFFF" stroke-width="1.42"/>
<line x1="261.04" y1="1148.76" x2="347.92" y2="1148.76" stroke="#FFFFFF" stroke-width="2.85"/>
<line x1="261.04" y1="1067.24" x2="347.92" y2="1067.24" stroke="#FFFFFF" stroke-width="2.85"/>
<line x1="261.04" y1="985.71" x2="347.92" y2="985.71" stroke="#FFFFFF" stroke-width="2.85"/>
<line x1="280.18" y1="924.29" x2="280.18" y2="1197.96" stroke="#FFFFFF" stroke-width="1.42"/>
<line x1="310.55" y1="924.29" x2="310.55" y2="1197.96" stroke="#FFFFFF" stroke-width="1.42"/>
<line x1="340.93" y1="924.29" x2="340.93" y2="1197.96" stroke="#FFFFFF" stroke-width="1.42"/>
<line x1="264.99" y1="924.29" x2="264.99" y2="1197.96" stroke="#FFFFFF" stroke-width="2.85"/>
<line x1="295.36" y1="924.29" x2="295.36" y2="1197.96" stroke="#FFFFFF" stroke-width="2.85"/>
<line x1="325.74" y1="924.29" x2="325.74" y2="1197.96" stroke="#FFFFFF" stroke-width="2.85"/>
<path d="M264.99 1052.83H268.02V1061.12H264.99ZM264.99 1036.25H268.02V1044.54H264.99ZM264.99 1027.95H301.44V1036.25H264.99ZM264.99 1019.66H301.44V1027.95H264.99ZM264.99 1011.37H301.44V1019.66H264.99ZM264.99 1003.07H316.63V1011.37H264.99ZM264.99 994.78H298.4V1003.07H264.99ZM264.99 986.49H295.36V994.78H264.99ZM264.99 978.19H304.48V986.49H264.99ZM264.99 969.9H289.29V978.19H264.99ZM264.99 961.61H286.25V969.9H264.99ZM264.99 953.32H268.02V961.61H264.99ZM264.99 945.02H283.21V953.32H264.99ZM264.99 936.73H289.29V945.02H264.99Z" fill="#5087FF"/>
<line x1="72.74" y1="1148.76" x2="80.07" y2="1148.76" stroke="#333333" stroke-width="2.85"/>
<text x="66.87" y="1158.36" text-anchor="end" font-size="23.47" fill="#454545">180</text>
<line x1="72.74" y1="1067.24" x2="80.07" y2="1067.24" stroke="#333333" stroke-width="2.85"/>
<text x="66.87" y="1076.84" text-anchor="end" font-size="23.47" fill="#454545">200</text>
<line x1="72.74" y1="985.71" x2="80.07" y2="985.71" stroke="#333333" stroke-width="2.85"/>
<text x="66.87" y="995.31" text-anchor="end" font-size="23.47" fill="#454545">220</text>
<rect x="80.07" y="1212.63" width="86.88" height="273.67" fill="#E7E7E7"/>
<line x1="80.07" y1="1449.67" x2="166.95" y2="1449.67" stroke="#FFFFFF" stroke-width="1.42"/>
<line x1="80.07" y1="1382.87" x2="166.95" y2="1382.87" stroke="#FFFFFF" stroke-width="1.42"/>
<line x1="80.07" y1="1316.06" x2="166.95" y2="1316.06" stroke="#FFFFFF" stroke-width="1.42"/>
<line x1="80.07" y1="1249.26" x2="166.95" y2="1249.26" stroke="#FFFFFF" stroke-width="1.42"/>
<line x1="80.07" y1="1483.07" x2="166.95" y2="1483.07" stroke="#FFFFFF" stroke-width="2.85"/>
<line x1="80.07" y1="1416.27" x2="166.95" y2="1416.27" stroke="#FFFFFF" stroke-width="2.85"/>
<line x1="80.07" y1="1349.47" x2="166.95" y2="1349.47" stroke="#FFFFFF" stroke-width="2.85"/>
<line x1="80.07" y1="1282.66" x2="166.95" y2="1282.66" stroke="#FFFFFF" stroke-width="2.85"/>
<line x1="80.07" y1="1215.86" x2="166.95" y2="1215.86" stroke="#FFFFFF" stroke-width="2.85"/>
<line x1="94.99" y1="1212.63" x2="94.99" y2="1486.3" stroke="#FFFFFF" stroke-width="1.42"/>
<line x1="116.93" y1="1212.63" x2="116.93" y2="1486.3" stroke="#FFFFFF" stroke-width="1.42"/>
<line x1="138.87" y1="1212.63" x2="138.87" y2="1486.3" stroke="#FFFFFF" stroke-width="1.42"/>
<line x1="160.81" y1="1212.63" x2="160.81" y2="1486.3" stroke="#FFFFFF" stroke-width="1.42"/>
<line x1="84.02" y1="1212.63" x2="84.02" y2="1486.3" stroke="#FFFFFF" stroke-width="2.85"/>
<line x1="105.96" y1="1212.63" x2="105.96" y2="1486.3" stroke="#FFFFFF" stroke-width="2.85"/>
<line x1="127.9" y1="1212.63" x2="127.9" y2="1486.3" stroke="#FFFFFF" stroke-width="2.85"/>
<line x1="149.84" y1="1212.63" x2="149.84" y2="1486.3" stroke="#FFFFFF" stroke-width="2.85"/>
<path d="M84.02 1457.27H92.8V1465.57H84.02ZM84.02 1448.98H114.74V1457.27H84.02ZM84.02 1440.69H110.35V1448.98H84.02ZM84.02 1432.4H141.06V1440.69H84.02ZM84.02 1424.1H141.06V1432.4H84.02ZM84.02 1415.81H163V1424.1H84.02ZM84.02 1407.52H145.45V1415.81H84.02ZM84.02 1399.22H145.45V1407.52H84.02ZM84.02 1390.93H132.29V1399.22H84.02ZM84.02 1382.64H149.84V1390.93H84.02ZM84.02 1374.34H92.8V1382.64H84.02ZM84.02 1366.05H105.96V1374.34H84.02ZM84.02 1357.76H97.18V1366.05H84.02ZM84.02 1349.47H97.18V1357.76H84.02ZM84.02 1341.17H88.41V1349.47H84.02ZM84.02 1332.88H92.8V1341.17H84.02Z" fill="#F25F5C"/>
<line x1="84.02" y1="1486.3" x2="84.02" y2="1493.63" stroke="#333333" stroke-width="2.85"/>
<text x="84.02" y="1516.6" text-anchor="middle" font-size="23.47" fill="#454545">0</text>
<line x1="105.96" y1="1486.3" x2="105.96" y2="1493.63" stroke="#333333" stroke-width="2.85"/>
<text x="105.96" y="1516.6" text-anchor="middle" font-size="23.47" fill="#454545">5</text>
<line x1="127.9" y1="1486.3" x2="127.9" y2="1493.63" stroke="#333333" stroke-width="2.85"/>
<text x="127.9" y="1516.6" text-anchor="middle" font-size="23.47" fill="#454545">10</text>
<line x1="149.84" y1="1486.3" x2="149.84" y2="1493.63" stroke="#333333" stroke-width="2.85"/>
<text x="149.84" y="1516.6" text-anchor="middle" font-size="23.47" fill="#454545">15</text>
<rect x="170.55" y="1212.63" width="86.88" height="273.67" fill="#E7E7E7"/>
<line x1="170.55" y1="1449.67" x2="257.44" y2="1449.67" stroke="#FFFFFF" stroke-width="1.42"/>
<line x1="170.55" y1="1382.87" x2="257.44" y2="1382.87" stroke="#FFFFFF" stroke-width="1.42"/>
<line x1="170.55" y1="1316.06" x2="257.44" y2="1316.06" stroke="#FFFFFF" stroke-width="1.42"/>
<line x1="170.55" y1="1249.26" x2="257.44" y2="1249.26" stroke="#FFFFFF" stroke-width="1.42"/>
<line x1="170.55" y1="1483.07" x2="257.44" y2="1483.07" stroke="#FFFFFF" stroke-width="2.85"/>
<line x1="170.55" y1="1416.27" x2="257.44" y2="1416.27" stroke="#FFFFFF" stroke-width="2.85"/>
<line x1="170.55" y1="1349.47" x2="257.44" y2="1349.47" stroke="#FFFFFF" stroke-width="2.85"/>
<line x1="170.55" y1="1282.66" x2="257.44" y2="1282.66" stroke="#FFFFFF" stroke-width="2.85"/>
<line x1="170.55" y1="1215.86" x2="257.44" y2="1215.86" stroke="#FFFFFF" stroke-width="2.85"/>
<line x1="185.47" y1="1212.63" x2="185.47" y2="1486.3" stroke="#FFFFFF" stroke-width="1.42"/>
<line x1="207.41" y1="1212.63" x2="207.41" y2="1486.3" stroke="#FFFFFF" stroke-width="1.42"/>
<line x1="229.35" y1="1212.63" x2="229.35" y2="1486.3" stroke="#FFFFFF" stroke-width="1.42"/>
<line x1="251.29" y1="1212.63" x2="251.29" y2="1486.3" stroke="#FFFFFF" stroke-width="1.42"/>
<line x1="174.5" y1="1212.63" x2="174.5" y2="1486.3" stroke="#FFFFFF" stroke-width="2.85"/>
<line x1="196.44" y1="1212.63" x2="196.44" y2="1486.3" stroke="#FFFFFF" stroke-width="2.85"/>
<line x1="218.38" y1="1212.63" x2="218.38" y2="1486.3" stroke="#FFFFFF" stroke-width="2.85"/>
<line x1="240.32" y1="1212.63" x2="240.32" y2="1486.3" stroke="#FFFFFF" stroke-width="2.85"/>
<path d="M174.5 1465.57H178.89V1473.86H174.5ZM174.5 1432.4H187.67V1440.69H174.5ZM174.5 1424.1H187.67V1432.4H174.5ZM174.5 1415.81H214V1424.1H174.5ZM174.5 1407.52H200.83V1415.81H174.5ZM174.5 1399.22H227.16V1407.52H174.5ZM174.5 1390.93H209.61V1399.22H174.5ZM174.5 1382.64H218.38V1390.93H174.5ZM174.5 1374.34H214V1382.64H174.5ZM174.5 1366.05H200.83V1374.34H174.5ZM174.5 1357.76H196.44V1366.05H174.5ZM174.5 1349.47H205.22V1357.76H174.5ZM174.5 1341.17H183.28V1349.47H174.5ZM174.5 1332.88H183.28V1341.17H174.5ZM174.5 1324.59H183.28V1332.88H174.5Z" fill="#19B02D"/>
<line x1="174.5" y1="1486.3" x2="174.5" y2="1493.63" stroke="#333333" stroke-width="2.85"/>
<text x="174.5" y="1516.6" text-anchor="middle" font-size="23.47" fill="#454545">0</text>
<line x1="196.44" y1="1486.3" x2="196.44" y2="1493.63" stroke="#333333" stroke-width="2.85"/>
<text x="196.44" y="1516.6" text-anchor="middle" font-size="23.47" fill="#454545">5</text>
<line x1="218.38" y1="1486.3" x2="218.38" y2="1493.63" stroke="#333333" stroke-width="2.85"/>
<text x="218.38" y="1516.6" text-anchor="middle" font-size="23.47" fill="#454545">10</text>
<line x1="240.32" y1="1486.3" x2="240.32" y2="1493.63" stroke="#333333" stroke-width="2.85"/>
<text x="240.32" y="1516.6" text-anchor="middle" font-size="23.47" fill="#454545">15</text>
<rect x="261.04" y="1212.63" width="86.88" height="273.67" fill="#E7E7E7"/>
<line x1="261.04" y1="1449.67" x2="347.92" y2="1449.67" stroke="#FFFFFF" stroke-width="1.42"/>
<line x1="261.04" y1="1382.87" x2="347.92" y2="1382.87" stroke="#FFFFFF" stroke-width="1.42"/>
<line x1="261.04" y1="1316.06" x2="347.92" y2="1316.06" stroke="#FFFFFF" stroke-width="1.42"/>
<line x1="261.04" y1="1249.26" x2="347.92" y2="1249.26" stroke="#FFFFFF" stroke-width="1.42"/>
<line x1="261.04" y1="1483.07" x2="347.92" y2="1483.07" stroke="#FFFFFF" stroke-width="2.85"/>
<line x1="261.04" y1="1416.27" x2="347.92" y2="1416.27" stroke="#FFFFFF" stroke-width="2.85"/>
<line x1="261.04" y1="1349.47" x2="347.92" y2="1349.47" stroke="#FFFFFF" stroke-width="2.85"/>
<line x1="261.04" y1="1282.66" x2="347.92" y2="1282.66" stroke="#FFFFFF" stroke-width="2.85"/>
<line x1="261.04" y1="1215.86" x2="347.92" y2="1215.86" stroke="#FFFFFF" stroke-width="2.85"/>
<line x1="275.96" y1="1212.63" x2="275.96" y2="1486.3" stroke="#FFFFFF" stroke-width="1.42"/>
<line x1="297.9" y1="1212.63" x2="297.9" y2="1486.3" stroke="#FFFFFF" stroke-width="1.42"/>
<line x1="319.84" y1="1212.63" x2="319.84" y2="1486.3" stroke="#FFFFFF" stroke-width="1.42"/>
<line x1="341.78" y1="1212.63" x2="341.78" y2="1486.3" stroke="#FFFFFF" stroke-width="1.42"/>
<line x1="264.99" y1="1212.63" x2="264.99" y2="1486.3" stroke="#FFFFFF" stroke-width="2.85"/>
<line x1="286.93" y1="1212.63" x2="286.93" y2="1486.3" stroke="#FFFFFF" stroke-width="2.85"/>
<line x1="308.87" y1="1212.63" x2="308.87" y2="1486.3" stroke="#FFFFFF" stroke-width="2.85"/>
<line x1="330.81" y1="1212.63" x2="330.81" y2="1486.3" stroke="#FFFFFF" stroke-width="2.85"/>
<path d="M264.99 1382.64H269.37V1390.93H264.99ZM264.99 1366.05H282.54V1374.34H264.99ZM264.99 1357.76H282.54V1366.05H264.99ZM264.99 1349.47H295.7V1357.76H264.99ZM264.99 1341.17H286.93V1349.47H264.99ZM264.99 1332.88H313.25V1341.17H264.99ZM264.99 1324.59H313.25V1332.88H264.99ZM264.99 1316.29H304.48V1324.59H264.99ZM264.99 1308H317.64V1316.29H264.99ZM264.99 1299.71H291.31V1308H264.99ZM264.99 1291.41H308.87V1299.71H264.99ZM264.99 1283.12H291.31V1291.41H264.99ZM264.99 1274.83H322.03V1283.12H264.99ZM264.99 1266.53H300.09V1274.83H264.99ZM264.99 1258.24H291.31V1266.53H264.99ZM264.99 1249.95H273.76V1258.24H264.99ZM264.99 1241.66H278.15V1249.95H264.99ZM264.99 1225.07H269.37V1233.36H264.99Z" fill="#5087FF"/>
<line x1="264.99" y1="1486.3" x2="264.99" y2="1493.63" stroke="#333333" stroke-width="2.85"/>
<text x="264.99" y="1516.6" text-anchor="middle" font-size="23.47" fill="#454545">0</text>
<line x1="286.93" y1="1486.3" x2="286.93" y2="1493.63" stroke="#333333" stroke-width="2.85"/>
<text x="286.93" y="1516.6" text-anchor="middle" font-size="23.47" fill="#454545">5</text>
<line x1="308.87" y1="1486.3" x2="308.87" y2="1493.63" stroke="#333333" stroke-width="2.85"/>
<text x="308.87" y="1516.6" text-anchor="middle" font-size="23.47" fill="#454545">10</text>
<line x1="330.81" y1="1486.3" x2="330.81" y2="1493.63" stroke="#333333" stroke-width="2.85"/>
<text x="330.81" y="1516.6" text-anchor="middle" font-size="23.47" fill="#454545">15</text>
<line x1="72.74" y1="1483.07" x2="80.07" y2="1483.07" stroke="#333333" stroke-width="2.85"/>
<text x="66.87" y="1492.67" text-anchor="end" font-size="23.47" fill="#454545">2500</text>
<line x1="72.74" y1="1416.27" x2="80.07" y2="1416.27" stroke="#333333" stroke-width="2.85"/>
<text x="66.87" y="1425.87" text-anchor="end" font-size="23.47" fill="#454545">3500</text>
<line x1="72.74" y1="1349.47" x2="80.07" y2="1349.47" stroke="#333333" stroke-width="2.85"/>
<text x="66.87" y="1359.07" text-anchor="end" font-size="23.47" fill="#454545">4500</text>
<line x1="72.74" y1="1282.66" x2="80.07" y2="1282.66" stroke="#333333" stroke-width="2.85"/>
<text x="66.87" y="1292.26" text-anchor="end" font-size="23.47" fill="#454545">5500</text>
<line x1="72.74" y1="1215.86" x2="80.07" y2="1215.86" stroke="#333333" stroke-width="2.85"/>
<text x="66.87" y="1225.46" text-anchor="end" font-size="23.47" fill="#454545">6500</text>
<line x1="444.23" y1="1486.3" x2="444.23" y2="1493.63" stroke="#333333" stroke-width="2.85"/>
<text x="444.23" y="1516.6" text-anchor="middle" font-size="23.47" fill="#454545">40</text>
<line x1="532.77" y1="1486.3" x2="532.77" y2="1493.63" stroke="#333333" stroke-width="2.85"/>
<text x="532.77" y="1516.6" text-anchor="middle" font-size="23.47" fill="#454545">50</text>
<line x1="621.32" y1="1486.3" x2="621.32" y2="1493.63" stroke="#333333" stroke-width="2.85"/>
<text x="621.32" y="1516.6" text-anchor="middle" font-size="23.47" fill="#454545">60</text>
<line x1="711.38" y1="1486.3" x2="711.38" y2="1493.63" stroke="#333333" stroke-width="2.85"/>
<text x="711.38" y="1516.6" text-anchor="middle" font-size="23.47" fill="#454545">15.0</text>
<line x1="783.85" y1="1486.3" x2="783.85" y2="1493.63" stroke="#333333" stroke-width="2.85"/>
<text x="783.85" y="1516.6" text-anchor="middle" font-size="23.47" fill="#454545">17.5</text>
<line x1="856.32" y1="1486.3" x2="856.32" y2="1493.63" stroke="#333333" stroke-width="2.85"/>
<text x="856.32" y="1516.6" text-anchor="middle" font-size="23.47" fill="#454545">20.0</text>
<line x1="930.08" y1="1486.3" x2="930.08" y2="1493.63" stroke="#333333" stroke-width="2.85"/>
<text x="930.08" y="1516.6" text-anchor="middle" font-size="23.47" fill="#454545">170</text>
<line x1="971.35" y1="1486.3" x2="971.35" y2="1493.63" stroke="#333333" stroke-width="2.85"/>
<text x="971.35" y="1516.6" text-anchor="middle" font-size="23.47" fill="#454545">180</text>
<line x1="1012.62" y1="1486.3" x2="1012.62" y2="1493.63" stroke="#333333" stroke-width="2.85"/>
<text x="1012.62" y="1516.6" text-anchor="middle" font-size="23.47" fill="#454545">190</text>
<line x1="1053.89" y1="1486.3" x2="1053.89" y2="1493.63" stroke="#333333" stroke-width="2.85"/>
<text x="1053.89" y="1516.6" text-anchor="middle" font-size="23.47" fill="#454545">200</text>
<line x1="1095.17" y1="1486.3" x2="1095.17" y2="1493.63" stroke="#333333" stroke-width="2.85"/>
<text x="1095.17" y="1516.6" text-anchor="middle" font-size="23.47" fill="#454545">210</text>
<line x1="1136.44" y1="1486.3" x2="1136.44" y2="1493.63" stroke="#333333" stroke-width="2.85"/>
<text x="1136.44" y="1516.6" text-anchor="middle" font-size="23.47" fill="#454545">220</text>
<line x1="1177.71" y1="1486.3" x2="1177.71" y2="1493.63" stroke="#333333" stroke-width="2.85"/>
<text x="1177.71" y="1516.6" text-anchor="middle" font-size="23.47" fill="#454545">230</text>
<line x1="1240.66" y1="1486.3" x2="1240.66" y2="1493.63" stroke="#333333" stroke-width="2.85"/>
<text x="1240.66" y="1516.6" text-anchor="middle" font-size="23.47" fill="#454545">3000</text>
<line x1="1308.3" y1="1486.3" x2="1308.3" y2="1493.63" stroke="#333333" stroke-width="2.85"/>
<text x="1308.3" y="1516.6" text-anchor="middle" font-size="23.47" fill="#454545">4000</text>
<line x1="1375.93" y1="1486.3" x2="1375.93" y2="1493.63" stroke="#333333" stroke-width="2.85"/>
<text x="1375.93" y="1516.6" text-anchor="middle" font-size="23.47" fill="#454545">5000</text>
<line x1="1443.57" y1="1486.3" x2="1443.57" y2="1493.63" stroke="#333333" stroke-width="2.85"/>
<text x="1443.57" y="1516.6" text-anchor="middle" font-size="23.47" fill="#454545">6000</text>
<rect x="362.1" y="347.61" width="267.85" height="273.67" fill="#E7E7E7"/>
<g clip-path="url(#c11)">
<line x1="362.1" y1="608.84" x2="629.95" y2="608.84" stroke="#FFFFFF" stroke-width="2.85"/>
<line x1="362.1" y1="566.84" x2="629.95" y2="566.84" stroke="#FFFFFF" stroke-width="1.42"/>
<line x1="362.1" y1="524.85" x2="629.95" y2="524.85" stroke="#FFFFFF" stroke-width="2.85"/>
<line x1="362.1" y1="482.85" x2="629.95" y2="482.85" stroke="#FFFFFF" stroke-width="1.42"/>
<line x1="362.1" y1="440.85" x2="629.95" y2="440.85" stroke="#FFFFFF" stroke-width="2.85"/>
<line x1="362.1" y1="398.85" x2="629.95" y2="398.85" stroke="#FFFFFF" stroke-width="1.42"/>
<line x1="362.1" y1="356.86" x2="629.95" y2="356.86" stroke="#FFFFFF" stroke-width="2.85"/>
<line x1="399.95" y1="347.61" x2="399.95" y2="621.28" stroke="#FFFFFF" stroke-width="1.42"/>
<line x1="488.5" y1="347.61" x2="488.5" y2="621.28" stroke="#FFFFFF" stroke-width="1.42"/>
<line x1="577.04" y1="347.61" x2="577.04" y2="621.28" stroke="#FFFFFF" stroke-width="1.42"/>
<line x1="444.23" y1="347.61" x2="444.23" y2="621.28" stroke="#FFFFFF" stroke-width="2.85"/>
<line x1="532.77" y1="347.61" x2="532.77" y2="621.28" stroke="#FFFFFF" stroke-width="2.85"/>
<line x1="621.32" y1="347.61" x2="621.32" y2="621.28" stroke="#FFFFFF" stroke-width="2.85"/>
<polygon points="374.27,597.6 375.23,596.57 376.18,595.55 377.13,594.54 378.09,593.51 379.04,592.4 379.99,591.16 380.95,589.74 381.9,588.09 382.85,586.18 383.81,584.01 384.76,581.55 385.71,578.81 386.66,575.76 387.62,572.36 388.57,568.55 389.52,564.24 390.48,559.36 391.43,553.8 392.38,547.53 393.34,540.53 394.29,532.81 395.24,524.44 396.19,515.52 397.15,506.13 398.1,496.43 399.05,486.55 400.01,476.64 400.96,466.86 401.91,457.4 402.87,448.38 403.82,439.95 404.77,432.19 405.73,425.16 406.68,418.9 407.63,413.39 408.58,408.63 409.54,404.55 410.49,401.09 411.44,398.16 412.4,395.68 413.35,393.56 414.3,391.7 415.26,390.01 416.21,388.42 417.16,386.86 418.11,385.28 419.07,383.68 420.02,382.06 420.97,380.44 421.93,378.84 422.88,377.26 423.83,375.71 424.79,374.18 425.74,372.68 426.69,371.23 427.64,369.84 428.6,368.52 429.55,367.28 430.5,366.12 431.46,365.06 432.41,364.1 433.36,363.3 434.32,362.69 435.27,362.34 436.22,362.27 437.18,362.51 438.13,363.01 439.08,363.75 440.03,364.73 440.99,365.95 441.94,367.41 442.89,369.09 443.85,370.99 444.8,373.17 445.75,375.69 446.71,378.64 447.66,382.13 448.61,386.23 449.56,391 450.52,396.49 451.47,402.7 452.42,409.59 453.38,417.15 454.33,425.35 455.28,434.22 456.24,443.79 457.19,454 458.14,464.7 459.09,475.64 460.05,486.51 461,497.08 461.95,507.15 462.91,516.63 463.86,525.46 464.81,533.61 465.77,541.11 466.72,547.96 467.67,554.2 468.63,559.84 469.58,564.95 470.53,569.58 471.48,573.8 472.44,577.7 473.39,581.34 474.34,584.74 475.3,587.93 476.25,590.89 477.2,593.62 478.16,596.09 479.11,598.31 480.06,600.26 481.01,601.95 481.97,603.39 482.92,604.59 483.87,605.58 484.83,606.38 485.78,607.01 486.73,607.5 487.69,607.88 488.64,608.16 489.59,608.37 490.55,608.52 491.5,608.62 492.45,608.7 493.4,608.75 494.36,608.78 495.31,608.8 496.26,608.82 497.22,608.83 498.17,608.83 499.12,608.84 500.08,608.84 501.03,608.84 501.98,608.84 502.93,608.84 503.89,608.84 504.84,608.84 505.79,608.84 506.75,608.84 507.7,608.84 508.65,608.84 509.61,608.84 510.56,608.84 511.51,608.84 512.46,608.84 513.42,608.84 514.37,608.84 515.32,608.84 516.28,608.84 517.23,608.84 518.18,608.84 519.14,608.84 520.09,608.84 521.04,608.84 522,608.84 522.95,608.84 523.9,608.84 524.85,608.84 525.81,608.84 526.76,608.84 527.71,608.84 528.67,608.84 529.62,608.84 530.57,608.84 531.53,608.84 532.48,608.84 533.43,608.84 534.38,608.84 535.34,608.84 536.29,608.84 537.24,608.84 538.2,608.84 539.15,608.84 540.1,608.84 541.06,608.84 542.01,608.84 542.96,608.84 543.91,608.84 544.87,608.84 545.82,608.84 546.77,608.84 547.73,608.84 548.68,608.84 549.63,608.84 550.59,608.84 551.54,608.84 552.49,608.84 553.45,608.84 554.4,608.84 555.35,608.84 556.3,608.84 557.26,608.84 558.21,608.84 559.16,608.84 560.12,608.84 561.07,608.84 562.02,608.84 562.98,608.84 563.93,608.84 564.88,608.84 565.83,608.84 566.79,608.84 567.74,608.84 568.69,608.84 569.65,608.84 570.6,608.84 571.55,608.84 572.51,608.84 573.46,608.84 574.41,608.84 575.37,608.84 576.32,608.84 577.27,608.84 578.22,608.84 579.18,608.84 580.13,608.84 581.08,608.84 582.04,608.84 582.99,608.84 583.94,608.84 584.9,608.84 585.85,608.84 586.8,608.84 587.75,608.84 588.71,608.84 589.66,608.84 590.61,608.84 591.57,608.84 592.52,608.84 593.47,608.84 594.43,608.84 595.38,608.84 596.33,608.84 597.28,608.84 598.24,608.84 599.19,608.84 600.14,608.84 601.1,608.84 602.05,608.84 603,608.84 603.96,608.84 604.91,608.84 605.86,608.84 606.82,608.84 607.77,608.84 608.72,608.84 609.67,608.84 610.63,608.84 611.58,608.84 612.53,608.84 613.49,608.84 614.44,608.84 615.39,608.84 616.35,608.84 617.3,608.84 617.77,608.84 617.77,608.84 374.27,608.84" fill="#F25F5C"/>
<polyline points="374.27,597.6 375.23,596.57 376.18,595.55 377.13,594.54 378.09,593.51 379.04,592.4 379.99,591.16 380.95,589.74 381.9,588.09 382.85,586.18 383.81,584.01 384.76,581.55 385.71,578.81 386.66,575.76 387.62,572.36 388.57,568.55 389.52,564.24 390.48,559.36 391.43,553.8 392.38,547.53 393.34,540.53 394.29,532.81 395.24,524.44 396.19,515.52 397.15,506.13 398.1,496.43 399.05,486.55 400.01,476.64 400.96,466.86 401.91,457.4 402.87,448.38 403.82,439.95 404.77,432.19 405.73,425.16 406.68,418.9 407.63,413.39 408.58,408.63 409.54,404.55 410.49,401.09 411.44,398.16 412.4,395.68 413.35,393.56 414.3,391.7 415.26,390.01 416.21,388.42 417.16,386.86 418.11,385.28 419.07,383.68 420.02,382.06 420.97,380.44 421.93,378.84 422.88,377.26 423.83,375.71 424.79,374.18 425.74,372.68 426.69,371.23 427.64,369.84 428.6,368.52 429.55,367.28 430.5,366.12 431.46,365.06 432.41,364.1 433.36,363.3 434.32,362.69 435.27,362.34 436.22,362.27 437.18,362.51 438.13,363.01 439.08,363.75 440.03,364.73 440.99,365.95 441.94,367.41 442.89,369.09 443.85,370.99 444.8,373.17 445.75,375.69 446.71,378.64 447.66,382.13 448.61,386.23 449.56,391 450.52,396.49 451.47,402.7 452.42,409.59 453.38,417.15 454.33,425.35 455.28,434.22 456.24,443.79 457.19,454 458.14,464.7 459.09,475.64 460.05,486.51 461,497.08 461.95,507.15 462.91,516.63 463.86,525.46 464.81,533.61 465.77,541.11 466.72,547.96 467.67,554.2 468.63,559.84 469.58,564.95 470.53,569.58 471.48,573.8 472.44,577.7 473.39,581.34 474.34,584.74 475.3,587.93 476.25,590.89 477.2,593.62 478.16,596.09 479.11,598.31 480.06,600.26 481.01,601.95 481.97,603.39 482.92,604.59 483.87,605.58 484.83,606.38 485.78,607.01 486.73,607.5 487.69,607.88 488.64,608.16 489.59,608.37 490.55,608.52 491.5,608.62 492.45,608.7 493.4,608.75 494.36,608.78 495.31,608.8 496.26,608.82 497.22,608.83 498.17,608.83 499.12,608.84 500.08,608.84 501.03,608.84 501.98,608.84 502.93,608.84 503.89,608.84 504.84,608.84 505.79,608.84 506.75,608.84 507.7,608.84 508.65,608.84 509.61,608.84 510.56,608.84 511.51,608.84 512.46,608.84 513.42,608.84 514.37,608.84 515.32,608.84 516.28,608.84 517.23,608.84 518.18,608.84 519.14,608.84 520.09,608.84 521.04,608.84 522,608.84 522.95,608.84 523.9,608.84 524.85,608.84 525.81,608.84 526.76,608.84 527.71,608.84 528.67,608.84 529.62,608.84 530.57,608.84 531.53,608.84 532.48,608.84 533.43,608.84 534.38,608.84 535.34,608.84 536.29,608.84 537.24,608.84 538.2,608.84 539.15,608.84 540.1,608.84 541.06,608.84 542.01,608.84 542.96,608.84 543.91,608.84 544.87,608.84 545.82,608.84 546.77,608.84 547.73,608.84 548.68,608.84 549.63,608.84 550.59,608.84 551.54,608.84 552.49,608.84 553.45,608.84 554.4,608.84 555.35,608.84 556.3,608.84 557.26,608.84 558.21,608.84 559.16,608.84 560.12,608.84 561.07,608.84 562.02,608.84 562.98,608.84 563.93,608.84 564.88,608.84 565.83,608.84 566.79,608.84 567.74,608.84 568.69,608.84 569.65,608.84 570.6,608.84 571.55,608.84 572.51,608.84 573.46,608.84 574.41,608.84 575.37,608.84 576.32,608.84 577.27,608.84 578.22,608.84 579.18,608.84 580.13,608.84 581.08,608.84 582.04,608.84 582.99,608.84 583.94,608.84 584.9,608.84 585.85,608.84 586.8,608.84 587.75,608.84 588.71,608.84 589.66,608.84 590.61,608.84 591.57,608.84 592.52,608.84 593.47,608.84 594.43,608.84 595.38,608.84 596.33,608.84 597.28,608.84 598.24,608.84 599.19,608.84 600.14,608.84 601.1,608.84 602.05,608.84 603,608.84 603.96,608.84 604.91,608.84 605.86,608.84 606.82,608.84 607.77,608.84 608.72,608.84 609.67,608.84 610.63,608.84 611.58,608.84 612.53,608.84 613.49,608.84 614.44,608.84 615.39,608.84 616.35,608.84 617.3,608.84 617.77,608.84" fill="none" stroke="#000" stroke-width="2.85" stroke-linejoin="round" stroke-linecap="butt"/>
<polygon points="374.27,608.84 375.23,608.84 376.18,608.84 377.13,608.84 378.09,608.84 379.04,608.84 379.99,608.84 380.95,608.84 381.9,608.84 382.85,608.84 383.81,608.84 384.76,608.84 385.71,608.84 386.66,608.84 387.62,608.84 388.57,608.84 389.52,608.84 390.48,608.84 391.43,608.84 392.38,608.84 393.34,608.84 394.29,608.84 395.24,608.84 396.19,608.84 397.15,608.84 398.1,608.83 399.05,608.83 400.01,608.83 400.96,608.82 401.91,608.82 402.87,608.81 403.82,608.8 404.77,608.79 405.73,608.78 406.68,608.76 407.63,608.73 408.58,608.7 409.54,608.67 410.49,608.62 411.44,608.57 412.4,608.5 413.35,608.41 414.3,608.31 415.26,608.19 416.21,608.05 417.16,607.88 418.11,607.67 419.07,607.44 420.02,607.16 420.97,606.83 421.93,606.45 422.88,606.02 423.83,605.52 424.79,604.95 425.74,604.3 426.69,603.58 427.64,602.76 428.6,601.85 429.55,600.84 430.5,599.72 431.46,598.49 432.41,597.14 433.36,595.68 434.32,594.09 435.27,592.39 436.22,590.56 437.18,588.6 438.13,586.53 439.08,584.34 440.03,582.04 440.99,579.64 441.94,577.13 442.89,574.54 443.85,571.86 444.8,569.11 445.75,566.3 446.71,563.43 447.66,560.5 448.61,557.51 449.56,554.45 450.52,551.32 451.47,548.13 452.42,544.89 453.38,541.64 454.33,538.41 455.28,535.23 456.24,532.14 457.19,529.17 458.14,526.35 459.09,523.71 460.05,521.29 461,519.1 461.95,517.14 462.91,515.43 463.86,513.93 464.81,512.63 465.77,511.49 466.72,510.5 467.67,509.63 468.63,508.87 469.58,508.22 470.53,507.66 471.48,507.14 472.44,506.61 473.39,506.01 474.34,505.27 475.3,504.36 476.25,503.29 477.2,502.08 478.16,500.74 479.11,499.28 480.06,497.72 481.01,496.05 481.97,494.3 482.92,492.47 483.87,490.57 484.83,488.63 485.78,486.65 486.73,484.68 487.69,482.73 488.64,480.82 489.59,479 490.55,477.28 491.5,475.69 492.45,474.26 493.4,473 494.36,471.95 495.31,471.11 496.26,470.49 497.22,470.11 498.17,469.96 499.12,470.04 500.08,470.34 501.03,470.86 501.98,471.56 502.93,472.42 503.89,473.43 504.84,474.54 505.79,475.72 506.75,476.95 507.7,478.18 508.65,479.37 509.61,480.5 510.56,481.52 511.51,482.4 512.46,483.12 513.42,483.64 514.37,483.94 515.32,484.01 516.28,483.82 517.23,483.38 518.18,482.68 519.14,481.73 520.09,480.52 521.04,479.08 522,477.43 522.95,475.57 523.9,473.56 524.85,471.41 525.81,469.15 526.76,466.84 527.71,464.5 528.67,462.18 529.62,459.92 530.57,457.76 531.53,455.74 532.48,453.9 533.43,452.28 534.38,450.91 535.34,449.83 536.29,449.07 537.24,448.66 538.2,448.62 539.15,448.96 540.1,449.71 541.06,450.85 542.01,452.38 542.96,454.27 543.91,456.52 544.87,459.1 545.82,462.01 546.77,465.23 547.73,468.76 548.68,472.57 549.63,476.65 550.59,480.95 551.54,485.44 552.49,490.06 553.45,494.8 554.4,499.61 555.35,504.48 556.3,509.38 557.26,514.29 558.21,519.19 559.16,524.06 560.12,528.87 561.07,533.6 562.02,538.2 562.98,542.67 563.93,546.97 564.88,551.09 565.83,555 566.79,558.7 567.74,562.18 568.69,565.43 569.65,568.45 570.6,571.26 571.55,573.86 572.51,576.27 573.46,578.51 574.41,580.57 575.37,582.47 576.32,584.23 577.27,585.84 578.22,587.32 579.18,588.67 580.13,589.9 581.08,591.02 582.04,592.04 582.99,592.97 583.94,593.81 584.9,594.56 585.85,595.25 586.8,595.86 587.75,596.42 588.71,596.92 589.66,597.38 590.61,597.79 591.57,598.16 592.52,598.5 593.47,598.81 594.43,599.1 595.38,599.36 596.33,599.62 597.28,599.86 598.24,600.1 599.19,600.33 600.14,600.56 601.1,600.79 602.05,601.02 603,601.26 603.96,601.51 604.91,601.76 605.86,602.03 606.82,602.3 607.77,602.58 608.72,602.87 609.67,603.16 610.63,603.46 611.58,603.76 612.53,604.07 613.49,604.38 614.44,604.68 615.39,604.98 616.35,605.28 617.3,605.57 617.77,605.71 617.77,608.84 374.27,608.84" fill="#19B02D"/>
<polyline points="374.27,608.84 375.23,608.84 376.18,608.84 377.13,608.84 378.09,608.84 379.04,608.84 379.99,608.84 380.95,608.84 381.9,608.84 382.85,608.84 383.81,608.84 384.76,608.84 385.71,608.84 386.66,608.84 387.62,608.84 388.57,608.84 389.52,608.84 390.48,608.84 391.43,608.84 392.38,608.84 393.34,608.84 394.29,608.84 395.24,608.84 396.19,608.84 397.15,608.84 398.1,608.83 399.05,608.83 400.01,608.83 400.96,608.82 401.91,608.82 402.87,608.81 403.82,608.8 404.77,608.79 405.73,608.78 406.68,608.76 407.63,608.73 408.58,608.7 409.54,608.67 410.49,608.62 411.44,608.57 412.4,608.5 413.35,608.41 414.3,608.31 415.26,608.19 416.21,608.05 417.16,607.88 418.11,607.67 419.07,607.44 420.02,607.16 420.97,606.83 421.93,606.45 422.88,606.02 423.83,605.52 424.79,604.95 425.74,604.3 426.69,603.58 427.64,602.76 428.6,601.85 429.55,600.84 430.5,599.72 431.46,598.49 432.41,597.14 433.36,595.68 434.32,594.09 435.27,592.39 436.22,590.56 437.18,588.6 438.13,586.53 439.08,584.34 440.03,582.04 440.99,579.64 441.94,577.13 442.89,574.54 443.85,571.86 444.8,569.11 445.75,566.3 446.71,563.43 447.66,560.5 448.61,557.51 449.56,554.45 450.52,551.32 451.47,548.13 452.42,544.89 453.38,541.64 454.33,538.41 455.28,535.23 456.24,532.14 457.19,529.17 458.14,526.35 459.09,523.71 460.05,521.29 461,519.1 461.95,517.14 462.91,515.43 463.86,513.93 464.81,512.63 465.77,511.49 466.72,510.5 467.67,509.63 468.63,508.87 469.58,508.22 470.53,507.66 471.48,507.14 472.44,506.61 473.39,506.01 474.34,505.27 475.3,504.36 476.25,503.29 477.2,502.08 478.16,500.74 479.11,499.28 480.06,497.72 481.01,496.05 481.97,494.3 482.92,492.47 483.87,490.57 484.83,488.63 485.78,486.65 486.73,484.68 487.69,482.73 488.64,480.82 489.59,479 490.55,477.28 491.5,475.69 492.45,474.26 493.4,473 494.36,471.95 495.31,471.11 496.26,470.49 497.22,470.11 498.17,469.96 499.12,470.04 500.08,470.34 501.03,470.86 501.98,471.56 502.93,472.42 503.89,473.43 504.84,474.54 505.79,475.72 506.75,476.95 507.7,478.18 508.65,479.37 509.61,480.5 510.56,481.52 511.51,482.4 512.46,483.12 513.42,483.64 514.37,483.94 515.32,484.01 516.28,483.82 517.23,483.38 518.18,482.68 519.14,481.73 520.09,480.52 521.04,479.08 522,477.43 522.95,475.57 523.9,473.56 524.85,471.41 525.81,469.15 526.76,466.84 527.71,464.5 528.67,462.18 529.62,459.92 530.57,457.76 531.53,455.74 532.48,453.9 533.43,452.28 534.38,450.91 535.34,449.83 536.29,449.07 537.24,448.66 538.2,448.62 539.15,448.96 540.1,449.71 541.06,450.85 542.01,452.38 542.96,454.27 543.91,456.52 544.87,459.1 545.82,462.01 546.77,465.23 547.73,468.76 548.68,472.57 549.63,476.65 550.59,480.95 551.54,485.44 552.49,490.06 553.45,494.8 554.4,499.61 555.35,504.48 556.3,509.38 557.26,514.29 558.21,519.19 559.16,524.06 560.12,528.87 561.07,533.6 562.02,538.2 562.98,542.67 563.93,546.97 564.88,551.09 565.83,555 566.79,558.7 567.74,562.18 568.69,565.43 569.65,568.45 570.6,571.26 571.55,573.86 572.51,576.27 573.46,578.51 574.41,580.57 575.37,582.47 576.32,584.23 577.27,585.84 578.22,587.32 579.18,588.67 580.13,589.9 581.08,591.02 582.04,592.04 582.99,592.97 583.94,593.81 584.9,594.56 585.85,595.25 586.8,595.86 587.75,596.42 588.71,596.92 589.66,597.38 590.61,597.79 591.57,598.16 592.52,598.5 593.47,598.81 594.43,599.1 595.38,599.36 596.33,599.62 597.28,599.86 598.24,600.1 599.19,600.33 600.14,600.56 601.1,600.79 602.05,601.02 603,601.26 603.96,601.51 604.91,601.76 605.86,602.03 606.82,602.3 607.77,602.58 608.72,602.87 609.67,603.16 610.63,603.46 611.58,603.76 612.53,604.07 613.49,604.38 614.44,604.68 615.39,604.98 616.35,605.28 617.3,605.57 617.77,605.71" fill="none" stroke="#000" stroke-width="2.85" stroke-linejoin="round" stroke-linecap="butt"/>
<polygon points="374.27,608.84 375.23,608.84 376.18,608.84 377.13,608.84 378.09,608.84 379.04,608.84 379.99,608.84 380.95,608.84 381.9,608.84 382.85,608.84 383.81,608.84 384.76,608.84 385.71,608.84 386.66,608.84 387.62,608.84 388.57,608.84 389.52,608.84 390.48,608.84 391.43,608.84 392.38,608.84 393.34,608.84 394.29,608.84 395.24,608.84 396.19,608.84 397.15,608.84 398.1,608.84 399.05,608.84 400.01,608.84 400.96,608.84 401.91,608.84 402.87,608.84 403.82,608.84 404.77,608.84 405.73,608.84 406.68,608.84 407.63,608.84 408.58,608.84 409.54,608.84 410.49,608.84 411.44,608.84 412.4,608.84 413.35,608.84 414.3,608.84 415.26,608.84 416.21,608.83 417.16,608.83 418.11,608.83 419.07,608.82 420.02,608.82 420.97,608.8 421.93,608.79 422.88,608.77 423.83,608.75 424.79,608.71 425.74,608.67 426.69,608.61 427.64,608.54 428.6,608.45 429.55,608.33 430.5,608.18 431.46,608 432.41,607.78 433.36,607.52 434.32,607.2 435.27,606.81 436.22,606.37 437.18,605.85 438.13,605.24 439.08,604.55 440.03,603.77 440.99,602.88 441.94,601.9 442.89,600.81 443.85,599.62 444.8,598.31 445.75,596.9 446.71,595.39 447.66,593.77 448.61,592.05 449.56,590.24 450.52,588.32 451.47,586.32 452.42,584.23 453.38,582.05 454.33,579.78 455.28,577.43 456.24,574.99 457.19,572.46 458.14,569.85 459.09,567.15 460.05,564.35 461,561.48 461.95,558.51 462.91,555.46 463.86,552.33 464.81,549.12 465.77,545.84 466.72,542.5 467.67,539.08 468.63,535.6 469.58,532.06 470.53,528.45 471.48,524.77 472.44,521 473.39,517.15 474.34,513.18 475.3,509.1 476.25,504.88 477.2,500.52 478.16,495.99 479.11,491.29 480.06,486.42 481.01,481.39 481.97,476.2 482.92,470.89 483.87,465.47 484.83,460 485.78,454.51 486.73,449.06 487.69,443.71 488.64,438.53 489.59,433.57 490.55,428.89 491.5,424.56 492.45,420.63 493.4,417.12 494.36,414.09 495.31,411.55 496.26,409.5 497.22,407.95 498.17,406.89 499.12,406.29 500.08,406.13 501.03,406.35 501.98,406.91 502.93,407.76 503.89,408.85 504.84,410.11 505.79,411.49 506.75,412.94 507.7,414.4 508.65,415.82 509.61,417.15 510.56,418.36 511.51,419.42 512.46,420.3 513.42,420.99 514.37,421.48 515.32,421.78 516.28,421.89 517.23,421.85 518.18,421.67 519.14,421.4 520.09,421.08 521.04,420.77 522,420.51 522.95,420.36 523.9,420.4 524.85,420.66 525.81,421.21 526.76,422.11 527.71,423.39 528.67,425.1 529.62,427.27 530.57,429.92 531.53,433.06 532.48,436.69 533.43,440.81 534.38,445.39 535.34,450.4 536.29,455.81 537.24,461.58 538.2,467.64 539.15,473.95 540.1,480.45 541.06,487.07 542.01,493.75 542.96,500.43 543.91,507.06 544.87,513.57 545.82,519.93 546.77,526.07 547.73,531.98 548.68,537.6 549.63,542.92 550.59,547.92 551.54,552.58 552.49,556.9 553.45,560.88 554.4,564.51 555.35,567.81 556.3,570.8 557.26,573.48 558.21,575.87 559.16,578 560.12,579.89 561.07,581.55 562.02,583.01 562.98,584.29 563.93,585.41 564.88,586.38 565.83,587.24 566.79,587.98 567.74,588.64 568.69,589.22 569.65,589.74 570.6,590.21 571.55,590.64 572.51,591.05 573.46,591.44 574.41,591.82 575.37,592.21 576.32,592.6 577.27,593.01 578.22,593.45 579.18,593.91 580.13,594.4 581.08,594.92 582.04,595.48 582.99,596.07 583.94,596.7 584.9,597.34 585.85,598.01 586.8,598.7 587.75,599.4 588.71,600.1 589.66,600.79 590.61,601.47 591.57,602.13 592.52,602.76 593.47,603.35 594.43,603.89 595.38,604.39 596.33,604.83 597.28,605.21 598.24,605.53 599.19,605.79 600.14,605.98 601.1,606.1 602.05,606.16 603,606.17 603.96,606.11 604.91,606.01 605.86,605.87 606.82,605.68 607.77,605.47 608.72,605.23 609.67,604.99 610.63,604.74 611.58,604.5 612.53,604.27 613.49,604.07 614.44,603.9 615.39,603.76 616.35,603.67 617.3,603.63 617.77,603.62 617.77,608.84 374.27,608.84" fill="#5087FF"/>
<polyline points="374.27,608.84 375.23,608.84 376.18,608.84 377.13,608.84 378.09,608.84 379.04,608.84 379.99,608.84 380.95,608.84 381.9,608.84 382.85,608.84 383.81,608.84 384.76,608.84 385.71,608.84 386.66,608.84 387.62,608.84 388.57,608.84 389.52,608.84 390.48,608.84 391.43,608.84 392.38,608.84 393.34,608.84 394.29,608.84 395.24,608.84 396.19,608.84 397.15,608.84 398.1,608.84 399.05,608.84 400.01,608.84 400.96,608.84 401.91,608.84 402.87,608.84 403.82,608.84 404.77,608.84 405.73,608.84 406.68,608.84 407.63,608.84 408.58,608.84 409.54,608.84 410.49,608.84 411.44,608.84 412.4,608.84 413.35,608.84 414.3,608.84 415.26,608.84 416.21,608.83 417.16,608.83 418.11,608.83 419.07,608.82 420.02,608.82 420.97,608.8 421.93,608.79 422.88,608.77 423.83,608.75 424.79,608.71 425.74,608.67 426.69,608.61 427.64,608.54 428.6,608.45 429.55,608.33 430.5,608.18 431.46,608 432.41,607.78 433.36,607.52 434.32,607.2 435.27,606.81 436.22,606.37 437.18,605.85 438.13,605.24 439.08,604.55 440.03,603.77 440.99,602.88 441.94,601.9 442.89,600.81 443.85,599.62 444.8,598.31 445.75,596.9 446.71,595.39 447.66,593.77 448.61,592.05 449.56,590.24 450.52,588.32 451.47,586.32 452.42,584.23 453.38,582.05 454.33,579.78 455.28,577.43 456.24,574.99 457.19,572.46 458.14,569.85 459.09,567.15 460.05,564.35 461,561.48 461.95,558.51 462.91,555.46 463.86,552.33 464.81,549.12 465.77,545.84 466.72,542.5 467.67,539.08 468.63,535.6 469.58,532.06 470.53,528.45 471.48,524.77 472.44,521 473.39,517.15 474.34,513.18 475.3,509.1 476.25,504.88 477.2,500.52 478.16,495.99 479.11,491.29 480.06,486.42 481.01,481.39 481.97,476.2 482.92,470.89 483.87,465.47 484.83,460 485.78,454.51 486.73,449.06 487.69,443.71 488.64,438.53 489.59,433.57 490.55,428.89 491.5,424.56 492.45,420.63 493.4,417.12 494.36,414.09 495.31,411.55 496.26,409.5 497.22,407.95 498.17,406.89 499.12,406.29 500.08,406.13 501.03,406.35 501.98,406.91 502.93,407.76 503.89,408.85 504.84,410.11 505.79,411.49 506.75,412.94 507.7,414.4 508.65,415.82 509.61,417.15 510.56,418.36 511.51,419.42 512.46,420.3 513.42,420.99 514.37,421.48 515.32,421.78 516.28,421.89 517.23,421.85 518.18,421.67 519.14,421.4 520.09,421.08 521.04,420.77 522,420.51 522.95,420.36 523.9,420.4 524.85,420.66 525.81,421.21 526.76,422.11 527.71,423.39 528.67,425.1 529.62,427.27 530.57,429.92 531.53,433.06 532.48,436.69 533.43,440.81 534.38,445.39 535.34,450.4 536.29,455.81 537.24,461.58 538.2,467.64 539.15,473.95 540.1,480.45 541.06,487.07 542.01,493.75 542.96,500.43 543.91,507.06 544.87,513.57 545.82,519.93 546.77,526.07 547.73,531.98 548.68,537.6 549.63,542.92 550.59,547.92 551.54,552.58 552.49,556.9 553.45,560.88 554.4,564.51 555.35,567.81 556.3,570.8 557.26,573.48 558.21,575.87 559.16,578 560.12,579.89 561.07,581.55 562.02,583.01 562.98,584.29 563.93,585.41 564.88,586.38 565.83,587.24 566.79,587.98 567.74,588.64 568.69,589.22 569.65,589.74 570.6,590.21 571.55,590.64 572.51,591.05 573.46,591.44 574.41,591.82 575.37,592.21 576.32,592.6 577.27,593.01 578.22,593.45 579.18,593.91 580.13,594.4 581.08,594.92 582.04,595.48 582.99,596.07 583.94,596.7 584.9,597.34 585.85,598.01 586.8,598.7 587.75,599.4 588.71,600.1 589.66,600.79 590.61,601.47 591.57,602.13 592.52,602.76 593.47,603.35 594.43,603.89 595.38,604.39 596.33,604.83 597.28,605.21 598.24,605.53 599.19,605.79 600.14,605.98 601.1,606.1 602.05,606.16 603,606.17 603.96,606.11 604.91,606.01 605.86,605.87 606.82,605.68 607.77,605.47 608.72,605.23 609.67,604.99 610.63,604.74 611.58,604.5 612.53,604.27 613.49,604.07 614.44,603.9 615.39,603.76 616.35,603.67 617.3,603.63 617.77,603.62" fill="none" stroke="#000" stroke-width="2.85" stroke-linejoin="round" stroke-linecap="butt"/>
</g>
<rect x="644.13" y="635.95" width="267.85" height="273.67" fill="#E7E7E7"/>
<g clip-path="url(#c22)">
<line x1="644.13" y1="897.18" x2="911.98" y2="897.18" stroke="#FFFFFF" stroke-width="2.85"/>
<line x1="644.13" y1="862.24" x2="911.98" y2="862.24" stroke="#FFFFFF" stroke-width="1.42"/>
<line x1="644.13" y1="827.3" x2="911.98" y2="827.3" stroke="#FFFFFF" stroke-width="2.85"/>
<line x1="644.13" y1="792.35" x2="911.98" y2="792.35" stroke="#FFFFFF" stroke-width="1.42"/>
<line x1="644.13" y1="757.41" x2="911.98" y2="757.41" stroke="#FFFFFF" stroke-width="2.85"/>
<line x1="644.13" y1="722.47" x2="911.98" y2="722.47" stroke="#FFFFFF" stroke-width="1.42"/>
<line x1="644.13" y1="687.53" x2="911.98" y2="687.53" stroke="#FFFFFF" stroke-width="2.85"/>
<line x1="644.13" y1="652.58" x2="911.98" y2="652.58" stroke="#FFFFFF" stroke-width="1.42"/>
<line x1="675.15" y1="635.95" x2="675.15" y2="909.62" stroke="#FFFFFF" stroke-width="1.42"/>
<line x1="747.62" y1="635.95" x2="747.62" y2="909.62" stroke="#FFFFFF" stroke-width="1.42"/>
<line x1="820.09" y1="635.95" x2="820.09" y2="909.62" stroke="#FFFFFF" stroke-width="1.42"/>
<line x1="892.56" y1="635.95" x2="892.56" y2="909.62" stroke="#FFFFFF" stroke-width="1.42"/>
<line x1="711.38" y1="635.95" x2="711.38" y2="909.62" stroke="#FFFFFF" stroke-width="2.85"/>
<line x1="783.85" y1="635.95" x2="783.85" y2="909.62" stroke="#FFFFFF" stroke-width="2.85"/>
<line x1="856.32" y1="635.95" x2="856.32" y2="909.62" stroke="#FFFFFF" stroke-width="2.85"/>
<polygon points="656.3,897.18 657.26,897.18 658.21,897.18 659.16,897.18 660.12,897.18 661.07,897.18 662.02,897.18 662.98,897.18 663.93,897.18 664.88,897.18 665.84,897.18 666.79,897.18 667.74,897.18 668.69,897.18 669.65,897.18 670.6,897.18 671.55,897.18 672.51,897.18 673.46,897.18 674.41,897.18 675.37,897.18 676.32,897.18 677.27,897.18 678.22,897.18 679.18,897.18 680.13,897.18 681.08,897.18 682.04,897.18 682.99,897.17 683.94,897.17 684.9,897.17 685.85,897.17 686.8,897.16 687.76,897.15 688.71,897.15 689.66,897.14 690.61,897.12 691.57,897.11 692.52,897.09 693.47,897.06 694.43,897.03 695.38,896.99 696.33,896.94 697.29,896.89 698.24,896.82 699.19,896.74 700.14,896.65 701.1,896.53 702.05,896.4 703,896.25 703.96,896.08 704.91,895.87 705.86,895.64 706.82,895.38 707.77,895.09 708.72,894.75 709.67,894.38 710.63,893.97 711.58,893.51 712.53,893 713.49,892.45 714.44,891.84 715.39,891.18 716.35,890.46 717.3,889.68 718.25,888.85 719.21,887.95 720.16,886.99 721.11,885.96 722.06,884.87 723.02,883.71 723.97,882.48 724.92,881.18 725.88,879.8 726.83,878.35 727.78,876.83 728.74,875.22 729.69,873.54 730.64,871.76 731.59,869.9 732.55,867.94 733.5,865.87 734.45,863.7 735.41,861.41 736.36,859 737.31,856.46 738.27,853.77 739.22,850.93 740.17,847.93 741.12,844.77 742.08,841.44 743.03,837.95 743.98,834.31 744.94,830.54 745.89,826.66 746.84,822.69 747.8,818.61 748.75,814.44 749.7,810.17 750.66,805.77 751.61,801.26 752.56,796.63 753.51,791.87 754.47,786.98 755.42,781.97 756.37,776.82 757.33,771.54 758.28,766.13 759.23,760.6 760.19,754.99 761.14,749.37 762.09,743.83 763.04,738.47 764,733.35 764.95,728.56 765.9,724.16 766.86,720.16 767.81,716.59 768.76,713.42 769.72,710.61 770.67,708.15 771.62,706.01 772.58,704.18 773.53,702.64 774.48,701.39 775.43,700.4 776.39,699.64 777.34,699.09 778.29,698.69 779.25,698.41 780.2,698.2 781.15,698.04 782.11,697.89 783.06,697.72 784.01,697.5 784.96,697.22 785.92,696.86 786.87,696.41 787.82,695.87 788.78,695.26 789.73,694.58 790.68,693.82 791.64,693 792.59,692.12 793.54,691.19 794.49,690.21 795.45,689.18 796.4,688.12 797.35,687.02 798.31,685.89 799.26,684.75 800.21,683.6 801.17,682.45 802.12,681.32 803.07,680.22 804.03,679.15 804.98,678.13 805.93,677.17 806.88,676.28 807.84,675.47 808.79,674.74 809.74,674.13 810.7,673.64 811.65,673.3 812.6,673.16 813.56,673.25 814.51,673.61 815.46,674.27 816.41,675.26 817.37,676.6 818.32,678.31 819.27,680.42 820.23,682.93 821.18,685.84 822.13,689.16 823.09,692.88 824.04,696.98 824.99,701.45 825.94,706.27 826.9,711.39 827.85,716.8 828.8,722.46 829.76,728.32 830.71,734.34 831.66,740.48 832.62,746.69 833.57,752.93 834.52,759.17 835.48,765.35 836.43,771.43 837.38,777.39 838.33,783.18 839.29,788.79 840.24,794.17 841.19,799.32 842.15,804.21 843.1,808.83 844.05,813.17 845.01,817.23 845.96,821 846.91,824.48 847.86,827.69 848.82,830.63 849.77,833.3 850.72,835.73 851.68,837.94 852.63,839.93 853.58,841.72 854.54,843.34 855.49,844.8 856.44,846.13 857.4,847.34 858.35,848.45 859.3,849.47 860.25,850.43 861.21,851.34 862.16,852.21 863.11,853.05 864.07,853.87 865.02,854.67 865.97,855.47 866.93,856.27 867.88,857.07 868.83,857.86 869.78,858.66 870.74,859.46 871.69,860.25 872.64,861.04 873.6,861.83 874.55,862.6 875.5,863.37 876.46,864.12 877.41,864.86 878.36,865.58 879.31,866.29 880.27,866.99 881.22,867.67 882.17,868.35 883.13,869.03 884.08,869.7 885.03,870.38 885.99,871.06 886.94,871.76 887.89,872.48 888.85,873.21 889.8,873.98 890.75,874.77 891.7,875.59 892.66,876.44 893.61,877.32 894.56,878.23 895.52,879.16 896.47,880.12 897.42,881.09 898.38,882.07 899.33,883.06 899.8,883.55 899.8,897.18 656.3,897.18" fill="#F25F5C"/>
<polyline points="656.3,897.18 657.26,897.18 658.21,897.18 659.16,897.18 660.12,897.18 661.07,897.18 662.02,897.18 662.98,897.18 663.93,897.18 664.88,897.18 665.84,897.18 666.79,897.18 667.74,897.18 668.69,897.18 669.65,897.18 670.6,897.18 671.55,897.18 672.51,897.18 673.46,897.18 674.41,897.18 675.37,897.18 676.32,897.18 677.27,897.18 678.22,897.18 679.18,897.18 680.13,897.18 681.08,897.18 682.04,897.18 682.99,897.17 683.94,897.17 684.9,897.17 685.85,897.17 686.8,897.16 687.76,897.15 688.71,897.15 689.66,897.14 690.61,897.12 691.57,897.11 692.52,897.09 693.47,897.06 694.43,897.03 695.38,896.99 696.33,896.94 697.29,896.89 698.24,896.82 699.19,896.74 700.14,896.65 701.1,896.53 702.05,896.4 703,896.25 703.96,896.08 704.91,895.87 705.86,895.64 706.82,895.38 707.77,895.09 708.72,894.75 709.67,894.38 710.63,893.97 711.58,893.51 712.53,893 713.49,892.45 714.44,891.84 715.39,891.18 716.35,890.46 717.3,889.68 718.25,888.85 719.21,887.95 720.16,886.99 721.11,885.96 722.06,884.87 723.02,883.71 723.97,882.48 724.92,881.18 725.88,879.8 726.83,878.35 727.78,876.83 728.74,875.22 729.69,873.54 730.64,871.76 731.59,869.9 732.55,867.94 733.5,865.87 734.45,863.7 735.41,861.41 736.36,859 737.31,856.46 738.27,853.77 739.22,850.93 740.17,847.93 741.12,844.77 742.08,841.44 743.03,837.95 743.98,834.31 744.94,830.54 745.89,826.66 746.84,822.69 747.8,818.61 748.75,814.44 749.7,810.17 750.66,805.77 751.61,801.26 752.56,796.63 753.51,791.87 754.47,786.98 755.42,781.97 756.37,776.82 757.33,771.54 758.28,766.13 759.23,760.6 760.19,754.99 761.14,749.37 762.09,743.83 763.04,738.47 764,733.35 764.95,728.56 765.9,724.16 766.86,720.16 767.81,716.59 768.76,713.42 769.72,710.61 770.67,708.15 771.62,706.01 772.58,704.18 773.53,702.64 774.48,701.39 775.43,700.4 776.39,699.64 777.34,699.09 778.29,698.69 779.25,698.41 780.2,698.2 781.15,698.04 782.11,697.89 783.06,697.72 784.01,697.5 784.96,697.22 785.92,696.86 786.87,696.41 787.82,695.87 788.78,695.26 789.73,694.58 790.68,693.82 791.64,693 792.59,692.12 793.54,691.19 794.49,690.21 795.45,689.18 796.4,688.12 797.35,687.02 798.31,685.89 799.26,684.75 800.21,683.6 801.17,682.45 802.12,681.32 803.07,680.22 804.03,679.15 804.98,678.13 805.93,677.17 806.88,676.28 807.84,675.47 808.79,674.74 809.74,674.13 810.7,673.64 811.65,673.3 812.6,673.16 813.56,673.25 814.51,673.61 815.46,674.27 816.41,675.26 817.37,676.6 818.32,678.31 819.27,680.42 820.23,682.93 821.18,685.84 822.13,689.16 823.09,692.88 824.04,696.98 824.99,701.45 825.94,706.27 826.9,711.39 827.85,716.8 828.8,722.46 829.76,728.32 830.71,734.34 831.66,740.48 832.62,746.69 833.57,752.93 834.52,759.17 835.48,765.35 836.43,771.43 837.38,777.39 838.33,783.18 839.29,788.79 840.24,794.17 841.19,799.32 842.15,804.21 843.1,808.83 844.05,813.17 845.01,817.23 845.96,821 846.91,824.48 847.86,827.69 848.82,830.63 849.77,833.3 850.72,835.73 851.68,837.94 852.63,839.93 853.58,841.72 854.54,843.34 855.49,844.8 856.44,846.13 857.4,847.34 858.35,848.45 859.3,849.47 860.25,850.43 861.21,851.34 862.16,852.21 863.11,853.05 864.07,853.87 865.02,854.67 865.97,855.47 866.93,856.27 867.88,857.07 868.83,857.86 869.78,858.66 870.74,859.46 871.69,860.25 872.64,861.04 873.6,861.83 874.55,862.6 875.5,863.37 876.46,864.12 877.41,864.86 878.36,865.58 879.31,866.29 880.27,866.99 881.22,867.67 882.17,868.35 883.13,869.03 884.08,869.7 885.03,870.38 885.99,871.06 886.94,871.76 887.89,872.48 888.85,873.21 889.8,873.98 890.75,874.77 891.7,875.59 892.66,876.44 893.61,877.32 894.56,878.23 895.52,879.16 896.47,880.12 897.42,881.09 898.38,882.07 899.33,883.06 899.8,883.55" fill="none" stroke="#000" stroke-width="2.85" stroke-linejoin="round" stroke-linecap="butt"/>
<polygon points="656.3,897.18 657.26,897.18 658.21,897.18 659.16,897.18 660.12,897.18 661.07,897.18 662.02,897.18 662.98,897.18 663.93,897.18 664.88,897.18 665.84,897.18 666.79,897.18 667.74,897.18 668.69,897.18 669.65,897.18 670.6,897.18 671.55,897.18 672.51,897.18 673.46,897.18 674.41,897.18 675.37,897.18 676.32,897.18 677.27,897.18 678.22,897.18 679.18,897.18 680.13,897.18 681.08,897.18 682.04,897.18 682.99,897.18 683.94,897.18 684.9,897.18 685.85,897.18 686.8,897.18 687.76,897.18 688.71,897.18 689.66,897.18 690.61,897.18 691.57,897.18 692.52,897.18 693.47,897.18 694.43,897.18 695.38,897.18 696.33,897.18 697.29,897.18 698.24,897.18 699.19,897.18 700.14,897.17 701.1,897.17 702.05,897.17 703,897.17 703.96,897.16 704.91,897.16 705.86,897.15 706.82,897.14 707.77,897.13 708.72,897.11 709.67,897.09 710.63,897.07 711.58,897.03 712.53,897 713.49,896.95 714.44,896.89 715.39,896.82 716.35,896.73 717.3,896.63 718.25,896.51 719.21,896.36 720.16,896.19 721.11,895.98 722.06,895.74 723.02,895.47 723.97,895.15 724.92,894.78 725.88,894.35 726.83,893.87 727.78,893.33 728.74,892.72 729.69,892.03 730.64,891.26 731.59,890.41 732.55,889.47 733.5,888.43 734.45,887.3 735.41,886.07 736.36,884.73 737.31,883.29 738.27,881.73 739.22,880.07 740.17,878.3 741.12,876.43 742.08,874.44 743.03,872.36 743.98,870.18 744.94,867.91 745.89,865.56 746.84,863.13 747.8,860.63 748.75,858.07 749.7,855.47 750.66,852.84 751.61,850.18 752.56,847.52 753.51,844.86 754.47,842.21 755.42,839.59 756.37,837.02 757.33,834.49 758.28,832.03 759.23,829.63 760.19,827.31 761.14,825.07 762.09,822.92 763.04,820.85 764,818.86 764.95,816.94 765.9,815.09 766.86,813.27 767.81,811.47 768.76,809.65 769.72,807.78 770.67,805.83 771.62,803.77 772.58,801.59 773.53,799.29 774.48,796.84 775.43,794.25 776.39,791.5 777.34,788.61 778.29,785.55 779.25,782.34 780.2,778.95 781.15,775.39 782.11,771.65 783.06,767.74 784.01,763.67 784.96,759.5 785.92,755.25 786.87,750.97 787.82,746.7 788.78,742.44 789.73,738.22 790.68,734.06 791.64,729.99 792.59,726.02 793.54,722.17 794.49,718.44 795.45,714.84 796.4,711.37 797.35,708.06 798.31,704.89 799.26,701.87 800.21,699 801.17,696.26 802.12,693.67 803.07,691.24 804.03,688.96 804.98,686.84 805.93,684.88 806.88,683.08 807.84,681.46 808.79,679.99 809.74,678.68 810.7,677.51 811.65,676.48 812.6,675.57 813.56,674.78 814.51,674.08 815.46,673.47 816.41,672.96 817.37,672.53 818.32,672.22 819.27,672.03 820.23,671.97 821.18,672.03 822.13,672.21 823.09,672.52 824.04,672.95 824.99,673.51 825.94,674.22 826.9,675.05 827.85,676.02 828.8,677.1 829.76,678.28 830.71,679.56 831.66,680.94 832.62,682.39 833.57,683.93 834.52,685.56 835.48,687.28 836.43,689.1 837.38,691.03 838.33,693.08 839.29,695.24 840.24,697.53 841.19,699.93 842.15,702.46 843.1,705.11 844.05,707.9 845.01,710.81 845.96,713.87 846.91,717.08 847.86,720.46 848.82,724.01 849.77,727.73 850.72,731.6 851.68,735.62 852.63,739.78 853.58,744.08 854.54,748.53 855.49,753.14 856.44,757.92 857.4,762.88 858.35,768.02 859.3,773.34 860.25,778.82 861.21,784.35 862.16,789.84 863.11,795.15 864.07,800.17 865.02,804.82 865.97,809.07 866.93,812.94 867.88,816.46 868.83,819.68 869.78,822.65 870.74,825.41 871.69,827.99 872.64,830.43 873.6,832.72 874.55,834.89 875.5,836.93 876.46,838.84 877.41,840.65 878.36,842.35 879.31,843.97 880.27,845.53 881.22,847.03 882.17,848.5 883.13,849.96 884.08,851.4 885.03,852.84 885.99,854.27 886.94,855.69 887.89,857.07 888.85,858.42 889.8,859.74 890.75,861.04 891.7,862.33 892.66,863.62 893.61,864.93 894.56,866.25 895.52,867.57 896.47,868.91 897.42,870.25 898.38,871.61 899.33,873 899.8,873.71 899.8,897.18 656.3,897.18" fill="#19B02D"/>
<polyline points="656.3,897.18 657.26,897.18 658.21,897.18 659.16,897.18 660.12,897.18 661.07,897.18 662.02,897.18 662.98,897.18 663.93,897.18 664.88,897.18 665.84,897.18 666.79,897.18 667.74,897.18 668.69,897.18 669.65,897.18 670.6,897.18 671.55,897.18 672.51,897.18 673.46,897.18 674.41,897.18 675.37,897.18 676.32,897.18 677.27,897.18 678.22,897.18 679.18,897.18 680.13,897.18 681.08,897.18 682.04,897.18 682.99,897.18 683.94,897.18 684.9,897.18 685.85,897.18 686.8,897.18 687.76,897.18 688.71,897.18 689.66,897.18 690.61,897.18 691.57,897.18 692.52,897.18 693.47,897.18 694.43,897.18 695.38,897.18 696.33,897.18 697.29,897.18 698.24,897.18 699.19,897.18 700.14,897.17 701.1,897.17 702.05,897.17 703,897.17 703.96,897.16 704.91,897.16 705.86,897.15 706.82,897.14 707.77,897.13 708.72,897.11 709.67,897.09 710.63,897.07 711.58,897.03 712.53,897 713.49,896.95 714.44,896.89 715.39,896.82 716.35,896.73 717.3,896.63 718.25,896.51 719.21,896.36 720.16,896.19 721.11,895.98 722.06,895.74 723.02,895.47 723.97,895.15 724.92,894.78 725.88,894.35 726.83,893.87 727.78,893.33 728.74,892.72 729.69,892.03 730.64,891.26 731.59,890.41 732.55,889.47 733.5,888.43 734.45,887.3 735.41,886.07 736.36,884.73 737.31,883.29 738.27,881.73 739.22,880.07 740.17,878.3 741.12,876.43 742.08,874.44 743.03,872.36 743.98,870.18 744.94,867.91 745.89,865.56 746.84,863.13 747.8,860.63 748.75,858.07 749.7,855.47 750.66,852.84 751.61,850.18 752.56,847.52 753.51,844.86 754.47,842.21 755.42,839.59 756.37,837.02 757.33,834.49 758.28,832.03 759.23,829.63 760.19,827.31 761.14,825.07 762.09,822.92 763.04,820.85 764,818.86 764.95,816.94 765.9,815.09 766.86,813.27 767.81,811.47 768.76,809.65 769.72,807.78 770.67,805.83 771.62,803.77 772.58,801.59 773.53,799.29 774.48,796.84 775.43,794.25 776.39,791.5 777.34,788.61 778.29,785.55 779.25,782.34 780.2,778.95 781.15,775.39 782.11,771.65 783.06,767.74 784.01,763.67 784.96,759.5 785.92,755.25 786.87,750.97 787.82,746.7 788.78,742.44 789.73,738.22 790.68,734.06 791.64,729.99 792.59,726.02 793.54,722.17 794.49,718.44 795.45,714.84 796.4,711.37 797.35,708.06 798.31,704.89 799.26,701.87 800.21,699 801.17,696.26 802.12,693.67 803.07,691.24 804.03,688.96 804.98,686.84 805.93,684.88 806.88,683.08 807.84,681.46 808.79,679.99 809.74,678.68 810.7,677.51 811.65,676.48 812.6,675.57 813.56,674.78 814.51,674.08 815.46,673.47 816.41,672.96 817.37,672.53 818.32,672.22 819.27,672.03 820.23,671.97 821.18,672.03 822.13,672.21 823.09,672.52 824.04,672.95 824.99,673.51 825.94,674.22 826.9,675.05 827.85,676.02 828.8,677.1 829.76,678.28 830.71,679.56 831.66,680.94 832.62,682.39 833.57,683.93 834.52,685.56 835.48,687.28 836.43,689.1 837.38,691.03 838.33,693.08 839.29,695.24 840.24,697.53 841.19,699.93 842.15,702.46 843.1,705.11 844.05,707.9 845.01,710.81 845.96,713.87 846.91,717.08 847.86,720.46 848.82,724.01 849.77,727.73 850.72,731.6 851.68,735.62 852.63,739.78 853.58,744.08 854.54,748.53 855.49,753.14 856.44,757.92 857.4,762.88 858.35,768.02 859.3,773.34 860.25,778.82 861.21,784.35 862.16,789.84 863.11,795.15 864.07,800.17 865.02,804.82 865.97,809.07 866.93,812.94 867.88,816.46 868.83,819.68 869.78,822.65 870.74,825.41 871.69,827.99 872.64,830.43 873.6,832.72 874.55,834.89 875.5,836.93 876.46,838.84 877.41,840.65 878.36,842.35 879.31,843.97 880.27,845.53 881.22,847.03 882.17,848.5 883.13,849.96 884.08,851.4 885.03,852.84 885.99,854.27 886.94,855.69 887.89,857.07 888.85,858.42 889.8,859.74 890.75,861.04 891.7,862.33 892.66,863.62 893.61,864.93 894.56,866.25 895.52,867.57 896.47,868.91 897.42,870.25 898.38,871.61 899.33,873 899.8,873.71" fill="none" stroke="#000" stroke-width="2.85" stroke-linejoin="round" stroke-linecap="butt"/>
<polygon points="656.3,850.14 657.26,844.72 658.21,838.96 659.16,832.93 660.12,826.7 661.07,820.35 662.02,813.93 662.98,807.5 663.93,801.08 664.88,794.71 665.84,788.4 666.79,782.18 667.74,776.05 668.69,769.95 669.65,763.79 670.6,757.46 671.55,750.87 672.51,744 673.46,736.95 674.41,729.86 675.37,722.88 676.32,716.14 677.27,709.73 678.22,703.67 679.18,697.98 680.13,692.66 681.08,687.68 682.04,683.03 682.99,678.68 683.94,674.6 684.9,670.8 685.85,667.28 686.8,664.07 687.76,661.18 688.71,658.63 689.66,656.42 690.61,654.53 691.57,652.94 692.52,651.63 693.47,650.58 694.43,649.76 695.38,649.17 696.33,648.8 697.29,648.65 698.24,648.72 699.19,648.98 700.14,649.44 701.1,650.09 702.05,650.91 703,651.9 703.96,653.04 704.91,654.31 705.86,655.7 706.82,657.19 707.77,658.78 708.72,660.47 709.67,662.26 710.63,664.16 711.58,666.16 712.53,668.25 713.49,670.43 714.44,672.69 715.39,675.01 716.35,677.4 717.3,679.82 718.25,682.24 719.21,684.61 720.16,686.89 721.11,689.03 722.06,690.98 723.02,692.73 723.97,694.27 724.92,695.59 725.88,696.72 726.83,697.69 727.78,698.52 728.74,699.24 729.69,699.89 730.64,700.5 731.59,701.14 732.55,701.86 733.5,702.74 734.45,703.83 735.41,705.19 736.36,706.88 737.31,708.91 738.27,711.31 739.22,714.08 740.17,717.21 741.12,720.7 742.08,724.54 743.03,728.72 743.98,733.22 744.94,738.04 745.89,743.14 746.84,748.52 747.8,754.14 748.75,759.99 749.7,766.06 750.66,772.33 751.61,778.78 752.56,785.37 753.51,792.04 754.47,798.67 755.42,805.08 756.37,811.04 757.33,816.36 758.28,820.93 759.23,824.75 760.19,827.93 761.14,830.59 762.09,832.87 763.04,834.88 764,836.69 764.95,838.35 765.9,839.92 766.86,841.44 767.81,842.93 768.76,844.44 769.72,846 770.67,847.62 771.62,849.34 772.58,851.15 773.53,853.07 774.48,855.09 775.43,857.19 776.39,859.36 777.34,861.58 778.29,863.81 779.25,866.04 780.2,868.27 781.15,870.46 782.11,872.63 783.06,874.76 784.01,876.82 784.96,878.81 785.92,880.71 786.87,882.48 787.82,884.13 788.78,885.64 789.73,887.01 790.68,888.26 791.64,889.39 792.59,890.41 793.54,891.32 794.49,892.14 795.45,892.87 796.4,893.52 797.35,894.09 798.31,894.58 799.26,895.01 800.21,895.36 801.17,895.66 802.12,895.91 803.07,896.12 804.03,896.29 804.98,896.44 805.93,896.57 806.88,896.68 807.84,896.78 808.79,896.87 809.74,896.94 810.7,897 811.65,897.06 812.6,897.1 813.56,897.13 814.51,897.15 815.46,897.16 816.41,897.17 817.37,897.18 818.32,897.18 819.27,897.18 820.23,897.18 821.18,897.18 822.13,897.18 823.09,897.18 824.04,897.18 824.99,897.18 825.94,897.18 826.9,897.18 827.85,897.18 828.8,897.18 829.76,897.18 830.71,897.18 831.66,897.18 832.62,897.18 833.57,897.18 834.52,897.18 835.48,897.18 836.43,897.18 837.38,897.18 838.33,897.18 839.29,897.18 840.24,897.18 841.19,897.18 842.15,897.18 843.1,897.18 844.05,897.18 845.01,897.18 845.96,897.18 846.91,897.18 847.86,897.18 848.82,897.18 849.77,897.18 850.72,897.18 851.68,897.18 852.63,897.18 853.58,897.18 854.54,897.18 855.49,897.18 856.44,897.18 857.4,897.18 858.35,897.18 859.3,897.18 860.25,897.18 861.21,897.18 862.16,897.18 863.11,897.18 864.07,897.18 865.02,897.18 865.97,897.18 866.93,897.18 867.88,897.18 868.83,897.18 869.78,897.18 870.74,897.18 871.69,897.18 872.64,897.18 873.6,897.18 874.55,897.18 875.5,897.18 876.46,897.18 877.41,897.18 878.36,897.18 879.31,897.18 880.27,897.18 881.22,897.18 882.17,897.18 883.13,897.18 884.08,897.18 885.03,897.18 885.99,897.18 886.94,897.18 887.89,897.18 888.85,897.18 889.8,897.18 890.75,897.18 891.7,897.18 892.66,897.18 893.61,897.18 894.56,897.18 895.52,897.18 896.47,897.18 897.42,897.18 898.38,897.18 899.33,897.18 899.8,897.18 899.8,897.18 656.3,897.18" fill="#5087FF"/>
<polyline points="656.3,850.14 657.26,844.72 658.21,838.96 659.16,832.93 660.12,826.7 661.07,820.35 662.02,813.93 662.98,807.5 663.93,801.08 664.88,794.71 665.84,788.4 666.79,782.18 667.74,776.05 668.69,769.95 669.65,763.79 670.6,757.46 671.55,750.87 672.51,744 673.46,736.95 674.41,729.86 675.37,722.88 676.32,716.14 677.27,709.73 678.22,703.67 679.18,697.98 680.13,692.66 681.08,687.68 682.04,683.03 682.99,678.68 683.94,674.6 684.9,670.8 685.85,667.28 686.8,664.07 687.76,661.18 688.71,658.63 689.66,656.42 690.61,654.53 691.57,652.94 692.52,651.63 693.47,650.58 694.43,649.76 695.38,649.17 696.33,648.8 697.29,648.65 698.24,648.72 699.19,648.98 700.14,649.44 701.1,650.09 702.05,650.91 703,651.9 703.96,653.04 704.91,654.31 705.86,655.7 706.82,657.19 707.77,658.78 708.72,660.47 709.67,662.26 710.63,664.16 711.58,666.16 712.53,668.25 713.49,670.43 714.44,672.69 715.39,675.01 716.35,677.4 717.3,679.82 718.25,682.24 719.21,684.61 720.16,686.89 721.11,689.03 722.06,690.98 723.02,692.73 723.97,694.27 724.92,695.59 725.88,696.72 726.83,697.69 727.78,698.52 728.74,699.24 729.69,699.89 730.64,700.5 731.59,701.14 732.55,701.86 733.5,702.74 734.45,703.83 735.41,705.19 736.36,706.88 737.31,708.91 738.27,711.31 739.22,714.08 740.17,717.21 741.12,720.7 742.08,724.54 743.03,728.72 743.98,733.22 744.94,738.04 745.89,743.14 746.84,748.52 747.8,754.14 748.75,759.99 749.7,766.06 750.66,772.33 751.61,778.78 752.56,785.37 753.51,792.04 754.47,798.67 755.42,805.08 756.37,811.04 757.33,816.36 758.28,820.93 759.23,824.75 760.19,827.93 761.14,830.59 762.09,832.87 763.04,834.88 764,836.69 764.95,838.35 765.9,839.92 766.86,841.44 767.81,842.93 768.76,844.44 769.72,846 770.67,847.62 771.62,849.34 772.58,851.15 773.53,853.07 774.48,855.09 775.43,857.19 776.39,859.36 777.34,861.58 778.29,863.81 779.25,866.04 780.2,868.27 781.15,870.46 782.11,872.63 783.06,874.76 784.01,876.82 784.96,878.81 785.92,880.71 786.87,882.48 787.82,884.13 788.78,885.64 789.73,887.01 790.68,888.26 791.64,889.39 792.59,890.41 793.54,891.32 794.49,892.14 795.45,892.87 796.4,893.52 797.35,894.09 798.31,894.58 799.26,895.01 800.21,895.36 801.17,895.66 802.12,895.91 803.07,896.12 804.03,896.29 804.98,896.44 805.93,896.57 806.88,896.68 807.84,896.78 808.79,896.87 809.74,896.94 810.7,897 811.65,897.06 812.6,897.1 813.56,897.13 814.51,897.15 815.46,897.16 816.41,897.17 817.37,897.18 818.32,897.18 819.27,897.18 820.23,897.18 821.18,897.18 822.13,897.18 823.09,897.18 824.04,897.18 824.99,897.18 825.94,897.18 826.9,897.18 827.85,897.18 828.8,897.18 829.76,897.18 830.71,897.18 831.66,897.18 832.62,897.18 833.57,897.18 834.52,897.18 835.48,897.18 836.43,897.18 837.38,897.18 838.33,897.18 839.29,897.18 840.24,897.18 841.19,897.18 842.15,897.18 843.1,897.18 844.05,897.18 845.01,897.18 845.96,897.18 846.91,897.18 847.86,897.18 848.82,897.18 849.77,897.18 850.72,897.18 851.68,897.18 852.63,897.18 853.58,897.18 854.54,897.18 855.49,897.18 856.44,897.18 857.4,897.18 858.35,897.18 859.3,897.18 860.25,897.18 861.21,897.18 862.16,897.18 863.11,897.18 864.07,897.18 865.02,897.18 865.97,897.18 866.93,897.18 867.88,897.18 868.83,897.18 869.78,897.18 870.74,897.18 871.69,897.18 872.64,897.18 873.6,897.18 874.55,897.18 875.5,897.18 876.46,897.18 877.41,897.18 878.36,897.18 879.31,897.18 880.27,897.18 881.22,897.18 882.17,897.18 883.13,897.18 884.08,897.18 885.03,897.18 885.99,897.18 886.94,897.18 887.89,897.18 888.85,897.18 889.8,897.18 890.75,897.18 891.7,897.18 892.66,897.18 893.61,897.18 894.56,897.18 895.52,897.18 896.47,897.18 897.42,897.18 898.38,897.18 899.33,897.18 899.8,897.18" fill="none" stroke="#000" stroke-width="2.85" stroke-linejoin="round" stroke-linecap="butt"/>
</g>
<rect x="926.16" y="924.29" width="267.85" height="273.67" fill="#E7E7E7"/>
<g clip-path="url(#c33)">
<line x1="926.16" y1="1185.52" x2="1194.01" y2="1185.52" stroke="#FFFFFF" stroke-width="2.85"/>
<line x1="926.16" y1="1151.39" x2="1194.01" y2="1151.39" stroke="#FFFFFF" stroke-width="1.42"/>
<line x1="926.16" y1="1117.27" x2="1194.01" y2="1117.27" stroke="#FFFFFF" stroke-width="2.85"/>
<line x1="926.16" y1="1083.14" x2="1194.01" y2="1083.14" stroke="#FFFFFF" stroke-width="1.42"/>
<line x1="926.16" y1="1049.01" x2="1194.01" y2="1049.01" stroke="#FFFFFF" stroke-width="2.85"/>
<line x1="926.16" y1="1014.88" x2="1194.01" y2="1014.88" stroke="#FFFFFF" stroke-width="1.42"/>
<line x1="926.16" y1="980.75" x2="1194.01" y2="980.75" stroke="#FFFFFF" stroke-width="2.85"/>
<line x1="926.16" y1="946.63" x2="1194.01" y2="946.63" stroke="#FFFFFF" stroke-width="1.42"/>
<line x1="950.72" y1="924.29" x2="950.72" y2="1197.96" stroke="#FFFFFF" stroke-width="1.42"/>
<line x1="991.99" y1="924.29" x2="991.99" y2="1197.96" stroke="#FFFFFF" stroke-width="1.42"/>
<line x1="1033.26" y1="924.29" x2="1033.26" y2="1197.96" stroke="#FFFFFF" stroke-width="1.42"/>
<line x1="1074.53" y1="924.29" x2="1074.53" y2="1197.96" stroke="#FFFFFF" stroke-width="1.42"/>
<line x1="1115.8" y1="924.29" x2="1115.8" y2="1197.96" stroke="#FFFFFF" stroke-width="1.42"/>
<line x1="1157.07" y1="924.29" x2="1157.07" y2="1197.96" stroke="#FFFFFF" stroke-width="1.42"/>
<line x1="930.08" y1="924.29" x2="930.08" y2="1197.96" stroke="#FFFFFF" stroke-width="2.85"/>
<line x1="971.35" y1="924.29" x2="971.35" y2="1197.96" stroke="#FFFFFF" stroke-width="2.85"/>
<line x1="1012.62" y1="924.29" x2="1012.62" y2="1197.96" stroke="#FFFFFF" stroke-width="2.85"/>
<line x1="1053.89" y1="924.29" x2="1053.89" y2="1197.96" stroke="#FFFFFF" stroke-width="2.85"/>
<line x1="1095.17" y1="924.29" x2="1095.17" y2="1197.96" stroke="#FFFFFF" stroke-width="2.85"/>
<line x1="1136.44" y1="924.29" x2="1136.44" y2="1197.96" stroke="#FFFFFF" stroke-width="2.85"/>
<line x1="1177.71" y1="924.29" x2="1177.71" y2="1197.96" stroke="#FFFFFF" stroke-width="2.85"/>
<polygon points="938.33,1175.77 939.29,1175.17 940.24,1174.62 941.19,1174.11 942.15,1173.64 943.1,1173.19 944.05,1172.76 945.01,1172.32 945.96,1171.86 946.91,1171.37 947.87,1170.82 948.82,1170.22 949.77,1169.55 950.72,1168.79 951.68,1167.92 952.63,1166.91 953.58,1165.74 954.54,1164.38 955.49,1162.81 956.44,1160.99 957.4,1158.91 958.35,1156.55 959.3,1153.89 960.25,1150.91 961.21,1147.6 962.16,1143.98 963.11,1140.05 964.07,1135.85 965.02,1131.42 965.97,1126.82 966.93,1122.07 967.88,1117.25 968.83,1112.41 969.79,1107.63 970.74,1103.02 971.69,1098.62 972.64,1094.48 973.6,1090.59 974.55,1086.92 975.5,1083.44 976.46,1080.08 977.41,1076.79 978.36,1073.53 979.32,1070.26 980.27,1066.97 981.22,1063.61 982.17,1060.04 983.13,1056.09 984.08,1051.54 985.03,1046.25 985.99,1040.23 986.94,1033.6 987.89,1026.59 988.85,1019.44 989.8,1012.35 990.75,1005.49 991.7,998.95 992.66,992.83 993.61,987.18 994.56,982.05 995.52,977.46 996.47,973.41 997.42,969.88 998.38,966.8 999.33,964.08 1000.28,961.63 1001.24,959.36 1002.19,957.19 1003.14,955.03 1004.09,952.85 1005.05,950.63 1006,948.38 1006.95,946.17 1007.91,944.11 1008.86,942.31 1009.81,940.94 1010.77,940.17 1011.72,940.17 1012.67,941.08 1013.62,942.99 1014.58,945.91 1015.53,949.8 1016.48,954.55 1017.44,960.05 1018.39,966.15 1019.34,972.74 1020.3,979.75 1021.25,987.1 1022.2,994.76 1023.15,1002.64 1024.11,1010.68 1025.06,1018.8 1026.01,1026.91 1026.97,1034.92 1027.92,1042.76 1028.87,1050.38 1029.83,1057.73 1030.78,1064.76 1031.73,1071.43 1032.69,1077.7 1033.64,1083.54 1034.59,1088.92 1035.54,1093.81 1036.5,1098.17 1037.45,1102.02 1038.4,1105.36 1039.36,1108.22 1040.31,1110.66 1041.26,1112.74 1042.22,1114.57 1043.17,1116.23 1044.12,1117.84 1045.07,1119.47 1046.03,1121.22 1046.98,1123.15 1047.93,1125.3 1048.89,1127.69 1049.84,1130.32 1050.79,1133.17 1051.75,1136.18 1052.7,1139.3 1053.65,1142.47 1054.61,1145.62 1055.56,1148.69 1056.51,1151.62 1057.46,1154.38 1058.42,1156.93 1059.37,1159.27 1060.32,1161.39 1061.28,1163.31 1062.23,1165.06 1063.18,1166.66 1064.14,1168.14 1065.09,1169.53 1066.04,1170.85 1066.99,1172.13 1067.95,1173.36 1068.9,1174.57 1069.85,1175.74 1070.81,1176.87 1071.76,1177.96 1072.71,1178.99 1073.67,1179.95 1074.62,1180.83 1075.57,1181.63 1076.52,1182.33 1077.48,1182.95 1078.43,1183.47 1079.38,1183.92 1080.34,1184.28 1081.29,1184.58 1082.24,1184.82 1083.2,1185 1084.15,1185.15 1085.1,1185.25 1086.06,1185.33 1087.01,1185.39 1087.96,1185.43 1088.91,1185.46 1089.87,1185.48 1090.82,1185.5 1091.77,1185.5 1092.73,1185.51 1093.68,1185.51 1094.63,1185.52 1095.59,1185.52 1096.54,1185.52 1097.49,1185.52 1098.44,1185.52 1099.4,1185.52 1100.35,1185.52 1101.3,1185.52 1102.26,1185.52 1103.21,1185.52 1104.16,1185.52 1105.12,1185.52 1106.07,1185.52 1107.02,1185.52 1107.97,1185.52 1108.93,1185.52 1109.88,1185.52 1110.83,1185.52 1111.79,1185.52 1112.74,1185.52 1113.69,1185.52 1114.65,1185.52 1115.6,1185.52 1116.55,1185.52 1117.51,1185.52 1118.46,1185.52 1119.41,1185.52 1120.36,1185.52 1121.32,1185.52 1122.27,1185.52 1123.22,1185.52 1124.18,1185.52 1125.13,1185.52 1126.08,1185.52 1127.04,1185.52 1127.99,1185.52 1128.94,1185.52 1129.89,1185.52 1130.85,1185.52 1131.8,1185.52 1132.75,1185.52 1133.71,1185.52 1134.66,1185.52 1135.61,1185.52 1136.57,1185.52 1137.52,1185.52 1138.47,1185.52 1139.43,1185.52 1140.38,1185.52 1141.33,1185.52 1142.28,1185.52 1143.24,1185.52 1144.19,1185.52 1145.14,1185.52 1146.1,1185.52 1147.05,1185.52 1148,1185.52 1148.96,1185.52 1149.91,1185.52 1150.86,1185.52 1151.81,1185.52 1152.77,1185.52 1153.72,1185.52 1154.67,1185.52 1155.63,1185.52 1156.58,1185.52 1157.53,1185.52 1158.49,1185.52 1159.44,1185.52 1160.39,1185.52 1161.34,1185.52 1162.3,1185.52 1163.25,1185.52 1164.2,1185.52 1165.16,1185.52 1166.11,1185.52 1167.06,1185.52 1168.02,1185.52 1168.97,1185.52 1169.92,1185.52 1170.88,1185.52 1171.83,1185.52 1172.78,1185.52 1173.73,1185.52 1174.69,1185.52 1175.64,1185.52 1176.59,1185.52 1177.55,1185.52 1178.5,1185.52 1179.45,1185.52 1180.41,1185.52 1181.36,1185.52 1181.84,1185.52 1181.84,1185.52 938.33,1185.52" fill="#F25F5C"/>
<polyline points="938.33,1175.77 939.29,1175.17 940.24,1174.62 941.19,1174.11 942.15,1173.64 943.1,1173.19 944.05,1172.76 945.01,1172.32 945.96,1171.86 946.91,1171.37 947.87,1170.82 948.82,1170.22 949.77,1169.55 950.72,1168.79 951.68,1167.92 952.63,1166.91 953.58,1165.74 954.54,1164.38 955.49,1162.81 956.44,1160.99 957.4,1158.91 958.35,1156.55 959.3,1153.89 960.25,1150.91 961.21,1147.6 962.16,1143.98 963.11,1140.05 964.07,1135.85 965.02,1131.42 965.97,1126.82 966.93,1122.07 967.88,1117.25 968.83,1112.41 969.79,1107.63 970.74,1103.02 971.69,1098.62 972.64,1094.48 973.6,1090.59 974.55,1086.92 975.5,1083.44 976.46,1080.08 977.41,1076.79 978.36,1073.53 979.32,1070.26 980.27,1066.97 981.22,1063.61 982.17,1060.04 983.13,1056.09 984.08,1051.54 985.03,1046.25 985.99,1040.23 986.94,1033.6 987.89,1026.59 988.85,1019.44 989.8,1012.35 990.75,1005.49 991.7,998.95 992.66,992.83 993.61,987.18 994.56,982.05 995.52,977.46 996.47,973.41 997.42,969.88 998.38,966.8 999.33,964.08 1000.28,961.63 1001.24,959.36 1002.19,957.19 1003.14,955.03 1004.09,952.85 1005.05,950.63 1006,948.38 1006.95,946.17 1007.91,944.11 1008.86,942.31 1009.81,940.94 1010.77,940.17 1011.72,940.17 1012.67,941.08 1013.62,942.99 1014.58,945.91 1015.53,949.8 1016.48,954.55 1017.44,960.05 1018.39,966.15 1019.34,972.74 1020.3,979.75 1021.25,987.1 1022.2,994.76 1023.15,1002.64 1024.11,1010.68 1025.06,1018.8 1026.01,1026.91 1026.97,1034.92 1027.92,1042.76 1028.87,1050.38 1029.83,1057.73 1030.78,1064.76 1031.73,1071.43 1032.69,1077.7 1033.64,1083.54 1034.59,1088.92 1035.54,1093.81 1036.5,1098.17 1037.45,1102.02 1038.4,1105.36 1039.36,1108.22 1040.31,1110.66 1041.26,1112.74 1042.22,1114.57 1043.17,1116.23 1044.12,1117.84 1045.07,1119.47 1046.03,1121.22 1046.98,1123.15 1047.93,1125.3 1048.89,1127.69 1049.84,1130.32 1050.79,1133.17 1051.75,1136.18 1052.7,1139.3 1053.65,1142.47 1054.61,1145.62 1055.56,1148.69 1056.51,1151.62 1057.46,1154.38 1058.42,1156.93 1059.37,1159.27 1060.32,1161.39 1061.28,1163.31 1062.23,1165.06 1063.18,1166.66 1064.14,1168.14 1065.09,1169.53 1066.04,1170.85 1066.99,1172.13 1067.95,1173.36 1068.9,1174.57 1069.85,1175.74 1070.81,1176.87 1071.76,1177.96 1072.71,1178.99 1073.67,1179.95 1074.62,1180.83 1075.57,1181.63 1076.52,1182.33 1077.48,1182.95 1078.43,1183.47 1079.38,1183.92 1080.34,1184.28 1081.29,1184.58 1082.24,1184.82 1083.2,1185 1084.15,1185.15 1085.1,1185.25 1086.06,1185.33 1087.01,1185.39 1087.96,1185.43 1088.91,1185.46 1089.87,1185.48 1090.82,1185.5 1091.77,1185.5 1092.73,1185.51 1093.68,1185.51 1094.63,1185.52 1095.59,1185.52 1096.54,1185.52 1097.49,1185.52 1098.44,1185.52 1099.4,1185.52 1100.35,1185.52 1101.3,1185.52 1102.26,1185.52 1103.21,1185.52 1104.16,1185.52 1105.12,1185.52 1106.07,1185.52 1107.02,1185.52 1107.97,1185.52 1108.93,1185.52 1109.88,1185.52 1110.83,1185.52 1111.79,1185.52 1112.74,1185.52 1113.69,1185.52 1114.65,1185.52 1115.6,1185.52 1116.55,1185.52 1117.51,1185.52 1118.46,1185.52 1119.41,1185.52 1120.36,1185.52 1121.32,1185.52 1122.27,1185.52 1123.22,1185.52 1124.18,1185.52 1125.13,1185.52 1126.08,1185.52 1127.04,1185.52 1127.99,1185.52 1128.94,1185.52 1129.89,1185.52 1130.85,1185.52 1131.8,1185.52 1132.75,1185.52 1133.71,1185.52 1134.66,1185.52 1135.61,1185.52 1136.57,1185.52 1137.52,1185.52 1138.47,1185.52 1139.43,1185.52 1140.38,1185.52 1141.33,1185.52 1142.28,1185.52 1143.24,1185.52 1144.19,1185.52 1145.14,1185.52 1146.1,1185.52 1147.05,1185.52 1148,1185.52 1148.96,1185.52 1149.91,1185.52 1150.86,1185.52 1151.81,1185.52 1152.77,1185.52 1153.72,1185.52 1154.67,1185.52 1155.63,1185.52 1156.58,1185.52 1157.53,1185.52 1158.49,1185.52 1159.44,1185.52 1160.39,1185.52 1161.34,1185.52 1162.3,1185.52 1163.25,1185.52 1164.2,1185.52 1165.16,1185.52 1166.11,1185.52 1167.06,1185.52 1168.02,1185.52 1168.97,1185.52 1169.92,1185.52 1170.88,1185.52 1171.83,1185.52 1172.78,1185.52 1173.73,1185.52 1174.69,1185.52 1175.64,1185.52 1176.59,1185.52 1177.55,1185.52 1178.5,1185.52 1179.45,1185.52 1180.41,1185.52 1181.36,1185.52 1181.84,1185.52" fill="none" stroke="#000" stroke-width="2.85" stroke-linejoin="round" stroke-linecap="butt"/>
<polygon points="938.33,1184.89 939.29,1184.83 940.24,1184.76 941.19,1184.66 942.15,1184.55 943.1,1184.4 944.05,1184.23 945.01,1184.03 945.96,1183.79 946.91,1183.51 947.87,1183.18 948.82,1182.81 949.77,1182.39 950.72,1181.92 951.68,1181.41 952.63,1180.86 953.58,1180.27 954.54,1179.65 955.49,1179.01 956.44,1178.37 957.4,1177.73 958.35,1177.1 959.3,1176.5 960.25,1175.93 961.21,1175.4 962.16,1174.92 963.11,1174.49 964.07,1174.12 965.02,1173.82 965.97,1173.58 966.93,1173.41 967.88,1173.3 968.83,1173.25 969.79,1173.24 970.74,1173.27 971.69,1173.34 972.64,1173.43 973.6,1173.54 974.55,1173.66 975.5,1173.77 976.46,1173.85 977.41,1173.87 978.36,1173.81 979.32,1173.65 980.27,1173.37 981.22,1172.94 982.17,1172.35 983.13,1171.59 984.08,1170.64 985.03,1169.49 985.99,1168.16 986.94,1166.64 987.89,1164.96 988.85,1163.11 989.8,1161.13 990.75,1159.01 991.7,1156.78 992.66,1154.44 993.61,1151.98 994.56,1149.42 995.52,1146.75 996.47,1143.96 997.42,1141.07 998.38,1138.05 999.33,1134.9 1000.28,1131.61 1001.24,1128.14 1002.19,1124.47 1003.14,1120.58 1004.09,1116.44 1005.05,1112.06 1006,1107.46 1006.95,1102.63 1007.91,1097.62 1008.86,1092.44 1009.81,1087.12 1010.77,1081.68 1011.72,1076.14 1012.67,1070.52 1013.62,1064.84 1014.58,1059.11 1015.53,1053.38 1016.48,1047.64 1017.44,1041.92 1018.39,1036.21 1019.34,1030.51 1020.3,1024.8 1021.25,1019.03 1022.2,1013.14 1023.15,1007.05 1024.11,1000.73 1025.06,994.17 1026.01,987.47 1026.97,980.79 1027.92,974.29 1028.87,968.1 1029.83,962.31 1030.78,956.98 1031.73,952.16 1032.69,947.91 1033.64,944.3 1034.59,941.4 1035.54,939.27 1036.5,937.95 1037.45,937.5 1038.4,937.93 1039.36,939.27 1040.31,941.5 1041.26,944.59 1042.22,948.46 1043.17,952.99 1044.12,958.04 1045.07,963.47 1046.03,969.14 1046.98,974.93 1047.93,980.76 1048.89,986.58 1049.84,992.35 1050.79,998.03 1051.75,1003.61 1052.7,1009.07 1053.65,1014.41 1054.61,1019.62 1055.56,1024.72 1056.51,1029.7 1057.46,1034.58 1058.42,1039.38 1059.37,1044.1 1060.32,1048.8 1061.28,1053.52 1062.23,1058.32 1063.18,1063.21 1064.14,1068.17 1065.09,1073.11 1066.04,1077.95 1066.99,1082.62 1067.95,1087.07 1068.9,1091.3 1069.85,1095.29 1070.81,1099.05 1071.76,1102.6 1072.71,1105.99 1073.67,1109.29 1074.62,1112.52 1075.57,1115.7 1076.52,1118.81 1077.48,1121.82 1078.43,1124.69 1079.38,1127.39 1080.34,1129.88 1081.29,1132.17 1082.24,1134.23 1083.2,1136.05 1084.15,1137.64 1085.1,1138.99 1086.06,1140.1 1087.01,1141 1087.96,1141.7 1088.91,1142.23 1089.87,1142.63 1090.82,1142.95 1091.77,1143.23 1092.73,1143.51 1093.68,1143.82 1094.63,1144.21 1095.59,1144.68 1096.54,1145.28 1097.49,1146.02 1098.44,1146.9 1099.4,1147.94 1100.35,1149.15 1101.3,1150.5 1102.26,1152 1103.21,1153.63 1104.16,1155.37 1105.12,1157.19 1106.07,1159.07 1107.02,1161 1107.97,1162.93 1108.93,1164.86 1109.88,1166.75 1110.83,1168.59 1111.79,1170.35 1112.74,1172.03 1113.69,1173.61 1114.65,1175.08 1115.6,1176.44 1116.55,1177.68 1117.51,1178.8 1118.46,1179.81 1119.41,1180.7 1120.36,1181.49 1121.32,1182.17 1122.27,1182.77 1123.22,1183.27 1124.18,1183.7 1125.13,1184.06 1126.08,1184.36 1127.04,1184.61 1127.99,1184.81 1128.94,1184.97 1129.89,1185.1 1130.85,1185.2 1131.8,1185.28 1132.75,1185.34 1133.71,1185.39 1134.66,1185.42 1135.61,1185.45 1136.57,1185.47 1137.52,1185.49 1138.47,1185.5 1139.43,1185.5 1140.38,1185.51 1141.33,1185.51 1142.28,1185.52 1143.24,1185.52 1144.19,1185.52 1145.14,1185.52 1146.1,1185.52 1147.05,1185.52 1148,1185.52 1148.96,1185.52 1149.91,1185.52 1150.86,1185.52 1151.81,1185.52 1152.77,1185.52 1153.72,1185.52 1154.67,1185.52 1155.63,1185.52 1156.58,1185.52 1157.53,1185.52 1158.49,1185.52 1159.44,1185.52 1160.39,1185.52 1161.34,1185.52 1162.3,1185.52 1163.25,1185.52 1164.2,1185.52 1165.16,1185.52 1166.11,1185.52 1167.06,1185.52 1168.02,1185.52 1168.97,1185.52 1169.92,1185.52 1170.88,1185.52 1171.83,1185.52 1172.78,1185.52 1173.73,1185.52 1174.69,1185.52 1175.64,1185.52 1176.59,1185.52 1177.55,1185.52 1178.5,1185.52 1179.45,1185.52 1180.41,1185.52 1181.36,1185.52 1181.84,1185.52 1181.84,1185.52 938.33,1185.52" fill="#19B02D"/>
<polyline points="938.33,1184.89 939.29,1184.83 940.24,1184.76 941.19,1184.66 942.15,1184.55 943.1,1184.4 944.05,1184.23 945.01,1184.03 945.96,1183.79 946.91,1183.51 947.87,1183.18 948.82,1182.81 949.77,1182.39 950.72,1181.92 951.68,1181.41 952.63,1180.86 953.58,1180.27 954.54,1179.65 955.49,1179.01 956.44,1178.37 957.4,1177.73 958.35,1177.1 959.3,1176.5 960.25,1175.93 961.21,1175.4 962.16,1174.92 963.11,1174.49 964.07,1174.12 965.02,1173.82 965.97,1173.58 966.93,1173.41 967.88,1173.3 968.83,1173.25 969.79,1173.24 970.74,1173.27 971.69,1173.34 972.64,1173.43 973.6,1173.54 974.55,1173.66 975.5,1173.77 976.46,1173.85 977.41,1173.87 978.36,1173.81 979.32,1173.65 980.27,1173.37 981.22,1172.94 982.17,1172.35 983.13,1171.59 984.08,1170.64 985.03,1169.49 985.99,1168.16 986.94,1166.64 987.89,1164.96 988.85,1163.11 989.8,1161.13 990.75,1159.01 991.7,1156.78 992.66,1154.44 993.61,1151.98 994.56,1149.42 995.52,1146.75 996.47,1143.96 997.42,1141.07 998.38,1138.05 999.33,1134.9 1000.28,1131.61 1001.24,1128.14 1002.19,1124.47 1003.14,1120.58 1004.09,1116.44 1005.05,1112.06 1006,1107.46 1006.95,1102.63 1007.91,1097.62 1008.86,1092.44 1009.81,1087.12 1010.77,1081.68 1011.72,1076.14 1012.67,1070.52 1013.62,1064.84 1014.58,1059.11 1015.53,1053.38 1016.48,1047.64 1017.44,1041.92 1018.39,1036.21 1019.34,1030.51 1020.3,1024.8 1021.25,1019.03 1022.2,1013.14 1023.15,1007.05 1024.11,1000.73 1025.06,994.17 1026.01,987.47 1026.97,980.79 1027.92,974.29 1028.87,968.1 1029.83,962.31 1030.78,956.98 1031.73,952.16 1032.69,947.91 1033.64,944.3 1034.59,941.4 1035.54,939.27 1036.5,937.95 1037.45,937.5 1038.4,937.93 1039.36,939.27 1040.31,941.5 1041.26,944.59 1042.22,948.46 1043.17,952.99 1044.12,958.04 1045.07,963.47 1046.03,969.14 1046.98,974.93 1047.93,980.76 1048.89,986.58 1049.84,992.35 1050.79,998.03 1051.75,1003.61 1052.7,1009.07 1053.65,1014.41 1054.61,1019.62 1055.56,1024.72 1056.51,1029.7 1057.46,1034.58 1058.42,1039.38 1059.37,1044.1 1060.32,1048.8 1061.28,1053.52 1062.23,1058.32 1063.18,1063.21 1064.14,1068.17 1065.09,1073.11 1066.04,1077.95 1066.99,1082.62 1067.95,1087.07 1068.9,1091.3 1069.85,1095.29 1070.81,1099.05 1071.76,1102.6 1072.71,1105.99 1073.67,1109.29 1074.62,1112.52 1075.57,1115.7 1076.52,1118.81 1077.48,1121.82 1078.43,1124.69 1079.38,1127.39 1080.34,1129.88 1081.29,1132.17 1082.24,1134.23 1083.2,1136.05 1084.15,1137.64 1085.1,1138.99 1086.06,1140.1 1087.01,1141 1087.96,1141.7 1088.91,1142.23 1089.87,1142.63 1090.82,1142.95 1091.77,1143.23 1092.73,1143.51 1093.68,1143.82 1094.63,1144.21 1095.59,1144.68 1096.54,1145.28 1097.49,1146.02 1098.44,1146.9 1099.4,1147.94 1100.35,1149.15 1101.3,1150.5 1102.26,1152 1103.21,1153.63 1104.16,1155.37 1105.12,1157.19 1106.07,1159.07 1107.02,1161 1107.97,1162.93 1108.93,1164.86 1109.88,1166.75 1110.83,1168.59 1111.79,1170.35 1112.74,1172.03 1113.69,1173.61 1114.65,1175.08 1115.6,1176.44 1116.55,1177.68 1117.51,1178.8 1118.46,1179.81 1119.41,1180.7 1120.36,1181.49 1121.32,1182.17 1122.27,1182.77 1123.22,1183.27 1124.18,1183.7 1125.13,1184.06 1126.08,1184.36 1127.04,1184.61 1127.99,1184.81 1128.94,1184.97 1129.89,1185.1 1130.85,1185.2 1131.8,1185.28 1132.75,1185.34 1133.71,1185.39 1134.66,1185.42 1135.61,1185.45 1136.57,1185.47 1137.52,1185.49 1138.47,1185.5 1139.43,1185.5 1140.38,1185.51 1141.33,1185.51 1142.28,1185.52 1143.24,1185.52 1144.19,1185.52 1145.14,1185.52 1146.1,1185.52 1147.05,1185.52 1148,1185.52 1148.96,1185.52 1149.91,1185.52 1150.86,1185.52 1151.81,1185.52 1152.77,1185.52 1153.72,1185.52 1154.67,1185.52 1155.63,1185.52 1156.58,1185.52 1157.53,1185.52 1158.49,1185.52 1159.44,1185.52 1160.39,1185.52 1161.34,1185.52 1162.3,1185.52 1163.25,1185.52 1164.2,1185.52 1165.16,1185.52 1166.11,1185.52 1167.06,1185.52 1168.02,1185.52 1168.97,1185.52 1169.92,1185.52 1170.88,1185.52 1171.83,1185.52 1172.78,1185.52 1173.73,1185.52 1174.69,1185.52 1175.64,1185.52 1176.59,1185.52 1177.55,1185.52 1178.5,1185.52 1179.45,1185.52 1180.41,1185.52 1181.36,1185.52 1181.84,1185.52" fill="none" stroke="#000" stroke-width="2.85" stroke-linejoin="round" stroke-linecap="butt"/>
<polygon points="938.33,1185.52 939.29,1185.52 940.24,1185.52 941.19,1185.52 942.15,1185.52 943.1,1185.52 944.05,1185.52 945.01,1185.52 945.96,1185.52 946.91,1185.52 947.87,1185.52 948.82,1185.52 949.77,1185.52 950.72,1185.52 951.68,1185.52 952.63,1185.52 953.58,1185.52 954.54,1185.52 955.49,1185.52 956.44,1185.52 957.4,1185.52 958.35,1185.52 959.3,1185.52 960.25,1185.52 961.21,1185.52 962.16,1185.52 963.11,1185.52 964.07,1185.52 965.02,1185.52 965.97,1185.52 966.93,1185.52 967.88,1185.52 968.83,1185.52 969.79,1185.52 970.74,1185.52 971.69,1185.52 972.64,1185.52 973.6,1185.52 974.55,1185.52 975.5,1185.52 976.46,1185.52 977.41,1185.52 978.36,1185.52 979.32,1185.52 980.27,1185.52 981.22,1185.52 982.17,1185.52 983.13,1185.52 984.08,1185.52 985.03,1185.52 985.99,1185.52 986.94,1185.52 987.89,1185.52 988.85,1185.52 989.8,1185.52 990.75,1185.52 991.7,1185.52 992.66,1185.52 993.61,1185.52 994.56,1185.52 995.52,1185.52 996.47,1185.52 997.42,1185.52 998.38,1185.52 999.33,1185.52 1000.28,1185.52 1001.24,1185.52 1002.19,1185.52 1003.14,1185.52 1004.09,1185.52 1005.05,1185.52 1006,1185.52 1006.95,1185.52 1007.91,1185.52 1008.86,1185.52 1009.81,1185.52 1010.77,1185.52 1011.72,1185.52 1012.67,1185.52 1013.62,1185.52 1014.58,1185.52 1015.53,1185.52 1016.48,1185.52 1017.44,1185.52 1018.39,1185.52 1019.34,1185.52 1020.3,1185.52 1021.25,1185.52 1022.2,1185.52 1023.15,1185.52 1024.11,1185.52 1025.06,1185.52 1026.01,1185.52 1026.97,1185.52 1027.92,1185.52 1028.87,1185.52 1029.83,1185.52 1030.78,1185.51 1031.73,1185.51 1032.69,1185.5 1033.64,1185.5 1034.59,1185.49 1035.54,1185.48 1036.5,1185.46 1037.45,1185.44 1038.4,1185.42 1039.36,1185.39 1040.31,1185.36 1041.26,1185.31 1042.22,1185.25 1043.17,1185.18 1044.12,1185.08 1045.07,1184.97 1046.03,1184.83 1046.98,1184.67 1047.93,1184.48 1048.89,1184.26 1049.84,1184 1050.79,1183.72 1051.75,1183.4 1052.7,1183.03 1053.65,1182.63 1054.61,1182.18 1055.56,1181.69 1056.51,1181.15 1057.46,1180.58 1058.42,1179.95 1059.37,1179.28 1060.32,1178.56 1061.28,1177.78 1062.23,1176.94 1063.18,1176.02 1064.14,1175 1065.09,1173.87 1066.04,1172.61 1066.99,1171.17 1067.95,1169.53 1068.9,1167.63 1069.85,1165.42 1070.81,1162.85 1071.76,1159.86 1072.71,1156.4 1073.67,1152.43 1074.62,1147.95 1075.57,1142.99 1076.52,1137.61 1077.48,1131.9 1078.43,1125.93 1079.38,1119.71 1080.34,1113.24 1081.29,1106.47 1082.24,1099.43 1083.2,1092.22 1084.15,1085.02 1085.1,1078.02 1086.06,1071.4 1087.01,1065.24 1087.96,1059.57 1088.91,1054.41 1089.87,1049.71 1090.82,1045.45 1091.77,1041.57 1092.73,1038.05 1093.68,1034.86 1094.63,1031.97 1095.59,1029.35 1096.54,1026.97 1097.49,1024.78 1098.44,1022.74 1099.4,1020.8 1100.35,1018.93 1101.3,1017.1 1102.26,1015.3 1103.21,1013.5 1104.16,1011.71 1105.12,1009.93 1106.07,1008.15 1107.02,1006.42 1107.97,1004.75 1108.93,1003.19 1109.88,1001.76 1110.83,1000.5 1111.79,999.42 1112.74,998.54 1113.69,997.88 1114.65,997.46 1115.6,997.29 1116.55,997.39 1117.51,997.78 1118.46,998.45 1119.41,999.39 1120.36,1000.59 1121.32,1001.98 1122.27,1003.52 1123.22,1005.14 1124.18,1006.81 1125.13,1008.48 1126.08,1010.14 1127.04,1011.76 1127.99,1013.36 1128.94,1014.93 1129.89,1016.5 1130.85,1018.08 1131.8,1019.67 1132.75,1021.31 1133.71,1023 1134.66,1024.79 1135.61,1026.7 1136.57,1028.77 1137.52,1031.04 1138.47,1033.52 1139.43,1036.24 1140.38,1039.19 1141.33,1042.38 1142.28,1045.8 1143.24,1049.43 1144.19,1053.24 1145.14,1057.21 1146.1,1061.28 1147.05,1065.41 1148,1069.55 1148.96,1073.67 1149.91,1077.71 1150.86,1081.66 1151.81,1085.48 1152.77,1089.13 1153.72,1092.61 1154.67,1095.88 1155.63,1098.94 1156.58,1101.76 1157.53,1104.33 1158.49,1106.63 1159.44,1108.63 1160.39,1110.34 1161.34,1111.74 1162.3,1112.84 1163.25,1113.64 1164.2,1114.16 1165.16,1114.42 1166.11,1114.46 1167.06,1114.34 1168.02,1114.12 1168.97,1113.88 1169.92,1113.69 1170.88,1113.65 1171.83,1113.81 1172.78,1114.26 1173.73,1115.02 1174.69,1116.09 1175.64,1117.47 1176.59,1119.12 1177.55,1121 1178.5,1123.1 1179.45,1125.4 1180.41,1127.91 1181.36,1130.65 1181.84,1132.1 1181.84,1185.52 938.33,1185.52" fill="#5087FF"/>
<polyline points="938.33,1185.52 939.29,1185.52 940.24,1185.52 941.19,1185.52 942.15,1185.52 943.1,1185.52 944.05,1185.52 945.01,1185.52 945.96,1185.52 946.91,1185.52 947.87,1185.52 948.82,1185.52 949.77,1185.52 950.72,1185.52 951.68,1185.52 952.63,1185.52 953.58,1185.52 954.54,1185.52 955.49,1185.52 956.44,1185.52 957.4,1185.52 958.35,1185.52 959.3,1185.52 960.25,1185.52 961.21,1185.52 962.16,1185.52 963.11,1185.52 964.07,1185.52 965.02,1185.52 965.97,1185.52 966.93,1185.52 967.88,1185.52 968.83,1185.52 969.79,1185.52 970.74,1185.52 971.69,1185.52 972.64,1185.52 973.6,1185.52 974.55,1185.52 975.5,1185.52 976.46,1185.52 977.41,1185.52 978.36,1185.52 979.32,1185.52 980.27,1185.52 981.22,1185.52 982.17,1185.52 983.13,1185.52 984.08,1185.52 985.03,1185.52 985.99,1185.52 986.94,1185.52 987.89,1185.52 988.85,1185.52 989.8,1185.52 990.75,1185.52 991.7,1185.52 992.66,1185.52 993.61,1185.52 994.56,1185.52 995.52,1185.52 996.47,1185.52 997.42,1185.52 998.38,1185.52 999.33,1185.52 1000.28,1185.52 1001.24,1185.52 1002.19,1185.52 1003.14,1185.52 1004.09,1185.52 1005.05,1185.52 1006,1185.52 1006.95,1185.52 1007.91,1185.52 1008.86,1185.52 1009.81,1185.52 1010.77,1185.52 1011.72,1185.52 1012.67,1185.52 1013.62,1185.52 1014.58,1185.52 1015.53,1185.52 1016.48,1185.52 1017.44,1185.52 1018.39,1185.52 1019.34,1185.52 1020.3,1185.52 1021.25,1185.52 1022.2,1185.52 1023.15,1185.52 1024.11,1185.52 1025.06,1185.52 1026.01,1185.52 1026.97,1185.52 1027.92,1185.52 1028.87,1185.52 1029.83,1185.52 1030.78,1185.51 1031.73,1185.51 1032.69,1185.5 1033.64,1185.5 1034.59,1185.49 1035.54,1185.48 1036.5,1185.46 1037.45,1185.44 1038.4,1185.42 1039.36,1185.39 1040.31,1185.36 1041.26,1185.31 1042.22,1185.25 1043.17,1185.18 1044.12,1185.08 1045.07,1184.97 1046.03,1184.83 1046.98,1184.67 1047.93,1184.48 1048.89,1184.26 1049.84,1184 1050.79,1183.72 1051.75,1183.4 1052.7,1183.03 1053.65,1182.63 1054.61,1182.18 1055.56,1181.69 1056.51,1181.15 1057.46,1180.58 1058.42,1179.95 1059.37,1179.28 1060.32,1178.56 1061.28,1177.78 1062.23,1176.94 1063.18,1176.02 1064.14,1175 1065.09,1173.87 1066.04,1172.61 1066.99,1171.17 1067.95,1169.53 1068.9,1167.63 1069.85,1165.42 1070.81,1162.85 1071.76,1159.86 1072.71,1156.4 1073.67,1152.43 1074.62,1147.95 1075.57,1142.99 1076.52,1137.61 1077.48,1131.9 1078.43,1125.93 1079.38,1119.71 1080.34,1113.24 1081.29,1106.47 1082.24,1099.43 1083.2,1092.22 1084.15,1085.02 1085.1,1078.02 1086.06,1071.4 1087.01,1065.24 1087.96,1059.57 1088.91,1054.41 1089.87,1049.71 1090.82,1045.45 1091.77,1041.57 1092.73,1038.05 1093.68,1034.86 1094.63,1031.97 1095.59,1029.35 1096.54,1026.97 1097.49,1024.78 1098.44,1022.74 1099.4,1020.8 1100.35,1018.93 1101.3,1017.1 1102.26,1015.3 1103.21,1013.5 1104.16,1011.71 1105.12,1009.93 1106.07,1008.15 1107.02,1006.42 1107.97,1004.75 1108.93,1003.19 1109.88,1001.76 1110.83,1000.5 1111.79,999.42 1112.74,998.54 1113.69,997.88 1114.65,997.46 1115.6,997.29 1116.55,997.39 1117.51,997.78 1118.46,998.45 1119.41,999.39 1120.36,1000.59 1121.32,1001.98 1122.27,1003.52 1123.22,1005.14 1124.18,1006.81 1125.13,1008.48 1126.08,1010.14 1127.04,1011.76 1127.99,1013.36 1128.94,1014.93 1129.89,1016.5 1130.85,1018.08 1131.8,1019.67 1132.75,1021.31 1133.71,1023 1134.66,1024.79 1135.61,1026.7 1136.57,1028.77 1137.52,1031.04 1138.47,1033.52 1139.43,1036.24 1140.38,1039.19 1141.33,1042.38 1142.28,1045.8 1143.24,1049.43 1144.19,1053.24 1145.14,1057.21 1146.1,1061.28 1147.05,1065.41 1148,1069.55 1148.96,1073.67 1149.91,1077.71 1150.86,1081.66 1151.81,1085.48 1152.77,1089.13 1153.72,1092.61 1154.67,1095.88 1155.63,1098.94 1156.58,1101.76 1157.53,1104.33 1158.49,1106.63 1159.44,1108.63 1160.39,1110.34 1161.34,1111.74 1162.3,1112.84 1163.25,1113.64 1164.2,1114.16 1165.16,1114.42 1166.11,1114.46 1167.06,1114.34 1168.02,1114.12 1168.97,1113.88 1169.92,1113.69 1170.88,1113.65 1171.83,1113.81 1172.78,1114.26 1173.73,1115.02 1174.69,1116.09 1175.64,1117.47 1176.59,1119.12 1177.55,1121 1178.5,1123.1 1179.45,1125.4 1180.41,1127.91 1181.36,1130.65 1181.84,1132.1" fill="none" stroke="#000" stroke-width="2.85" stroke-linejoin="round" stroke-linecap="butt"/>
</g>
<rect x="1208.19" y="1212.63" width="267.85" height="273.67" fill="#E7E7E7"/>
<g clip-path="url(#c44)">
<line x1="1208.19" y1="1473.86" x2="1476.04" y2="1473.86" stroke="#FFFFFF" stroke-width="2.85"/>
<line x1="1208.19" y1="1440.42" x2="1476.04" y2="1440.42" stroke="#FFFFFF" stroke-width="1.42"/>
<line x1="1208.19" y1="1406.98" x2="1476.04" y2="1406.98" stroke="#FFFFFF" stroke-width="2.85"/>
<line x1="1208.19" y1="1373.54" x2="1476.04" y2="1373.54" stroke="#FFFFFF" stroke-width="1.42"/>
<line x1="1208.19" y1="1340.1" x2="1476.04" y2="1340.1" stroke="#FFFFFF" stroke-width="2.85"/>
<line x1="1208.19" y1="1306.66" x2="1476.04" y2="1306.66" stroke="#FFFFFF" stroke-width="1.42"/>
<line x1="1208.19" y1="1273.22" x2="1476.04" y2="1273.22" stroke="#FFFFFF" stroke-width="2.85"/>
<line x1="1208.19" y1="1239.78" x2="1476.04" y2="1239.78" stroke="#FFFFFF" stroke-width="1.42"/>
<line x1="1274.48" y1="1212.63" x2="1274.48" y2="1486.3" stroke="#FFFFFF" stroke-width="1.42"/>
<line x1="1342.11" y1="1212.63" x2="1342.11" y2="1486.3" stroke="#FFFFFF" stroke-width="1.42"/>
<line x1="1409.75" y1="1212.63" x2="1409.75" y2="1486.3" stroke="#FFFFFF" stroke-width="1.42"/>
<line x1="1240.66" y1="1212.63" x2="1240.66" y2="1486.3" stroke="#FFFFFF" stroke-width="2.85"/>
<line x1="1308.3" y1="1212.63" x2="1308.3" y2="1486.3" stroke="#FFFFFF" stroke-width="2.85"/>
<line x1="1375.93" y1="1212.63" x2="1375.93" y2="1486.3" stroke="#FFFFFF" stroke-width="2.85"/>
<line x1="1443.57" y1="1212.63" x2="1443.57" y2="1486.3" stroke="#FFFFFF" stroke-width="2.85"/>
<polygon points="1220.36,1454.69 1221.32,1451.86 1222.27,1448.79 1223.22,1445.49 1224.18,1441.97 1225.13,1438.24 1226.08,1434.32 1227.04,1430.23 1227.99,1426 1228.94,1421.65 1229.9,1417.2 1230.85,1412.68 1231.8,1408.12 1232.75,1403.53 1233.71,1398.94 1234.66,1394.35 1235.61,1389.76 1236.57,1385.19 1237.52,1380.62 1238.47,1376.05 1239.43,1371.45 1240.38,1366.83 1241.33,1362.15 1242.28,1357.4 1243.24,1352.58 1244.19,1347.66 1245.14,1342.65 1246.1,1337.53 1247.05,1332.33 1248,1327.05 1248.96,1321.72 1249.91,1316.36 1250.86,1310.99 1251.82,1305.62 1252.77,1300.24 1253.72,1294.87 1254.67,1289.52 1255.63,1284.18 1256.58,1278.88 1257.53,1273.64 1258.49,1268.45 1259.44,1263.36 1260.39,1258.39 1261.35,1253.6 1262.3,1249.03 1263.25,1244.75 1264.2,1240.81 1265.16,1237.26 1266.11,1234.14 1267.06,1231.47 1268.02,1229.26 1268.97,1227.51 1269.92,1226.18 1270.88,1225.25 1271.83,1224.69 1272.78,1224.45 1273.73,1224.5 1274.69,1224.81 1275.64,1225.35 1276.59,1226.1 1277.55,1227.02 1278.5,1228.08 1279.45,1229.24 1280.41,1230.47 1281.36,1231.72 1282.31,1232.98 1283.27,1234.21 1284.22,1235.38 1285.17,1236.48 1286.12,1237.49 1287.08,1238.43 1288.03,1239.33 1288.98,1240.26 1289.94,1241.31 1290.89,1242.62 1291.84,1244.31 1292.8,1246.5 1293.75,1249.21 1294.7,1252.44 1295.65,1256.17 1296.61,1260.34 1297.56,1264.92 1298.51,1269.88 1299.47,1275.17 1300.42,1280.77 1301.37,1286.62 1302.33,1292.68 1303.28,1298.89 1304.23,1305.2 1305.18,1311.56 1306.14,1317.96 1307.09,1324.36 1308.04,1330.77 1309,1337.15 1309.95,1343.48 1310.9,1349.7 1311.86,1355.76 1312.81,1361.6 1313.76,1367.16 1314.72,1372.42 1315.67,1377.34 1316.62,1381.91 1317.57,1386.1 1318.53,1389.95 1319.48,1393.44 1320.43,1396.62 1321.39,1399.52 1322.34,1402.15 1323.29,1404.57 1324.25,1406.8 1325.2,1408.89 1326.15,1410.86 1327.1,1412.73 1328.06,1414.55 1329.01,1416.32 1329.96,1418.05 1330.92,1419.76 1331.87,1421.46 1332.82,1423.14 1333.78,1424.81 1334.73,1426.47 1335.68,1428.11 1336.64,1429.72 1337.59,1431.3 1338.54,1432.85 1339.49,1434.36 1340.45,1435.83 1341.4,1437.26 1342.35,1438.63 1343.31,1439.96 1344.26,1441.24 1345.21,1442.46 1346.17,1443.65 1347.12,1444.79 1348.07,1445.91 1349.02,1446.99 1349.98,1448.05 1350.93,1449.1 1351.88,1450.15 1352.84,1451.2 1353.79,1452.26 1354.74,1453.33 1355.7,1454.41 1356.65,1455.52 1357.6,1456.64 1358.55,1457.77 1359.51,1458.91 1360.46,1460.06 1361.41,1461.19 1362.37,1462.32 1363.32,1463.41 1364.27,1464.47 1365.23,1465.49 1366.18,1466.46 1367.13,1467.37 1368.09,1468.21 1369.04,1468.99 1369.99,1469.69 1370.94,1470.33 1371.9,1470.89 1372.85,1471.39 1373.8,1471.82 1374.76,1472.19 1375.71,1472.51 1376.66,1472.78 1377.62,1473 1378.57,1473.18 1379.52,1473.33 1380.47,1473.45 1381.43,1473.55 1382.38,1473.63 1383.33,1473.68 1384.29,1473.73 1385.24,1473.76 1386.19,1473.79 1387.15,1473.81 1388.1,1473.82 1389.05,1473.84 1390,1473.84 1390.96,1473.85 1391.91,1473.85 1392.86,1473.85 1393.82,1473.86 1394.77,1473.86 1395.72,1473.86 1396.68,1473.86 1397.63,1473.86 1398.58,1473.86 1399.54,1473.86 1400.49,1473.86 1401.44,1473.86 1402.39,1473.86 1403.35,1473.86 1404.3,1473.86 1405.25,1473.86 1406.21,1473.86 1407.16,1473.86 1408.11,1473.86 1409.07,1473.86 1410.02,1473.86 1410.97,1473.86 1411.92,1473.86 1412.88,1473.86 1413.83,1473.86 1414.78,1473.86 1415.74,1473.86 1416.69,1473.86 1417.64,1473.86 1418.6,1473.86 1419.55,1473.86 1420.5,1473.86 1421.46,1473.86 1422.41,1473.86 1423.36,1473.86 1424.31,1473.86 1425.27,1473.86 1426.22,1473.86 1427.17,1473.86 1428.13,1473.86 1429.08,1473.86 1430.03,1473.86 1430.99,1473.86 1431.94,1473.86 1432.89,1473.86 1433.84,1473.86 1434.8,1473.86 1435.75,1473.86 1436.7,1473.86 1437.66,1473.86 1438.61,1473.86 1439.56,1473.86 1440.52,1473.86 1441.47,1473.86 1442.42,1473.86 1443.37,1473.86 1444.33,1473.86 1445.28,1473.86 1446.23,1473.86 1447.19,1473.86 1448.14,1473.86 1449.09,1473.86 1450.05,1473.86 1451,1473.86 1451.95,1473.86 1452.91,1473.86 1453.86,1473.86 1454.81,1473.86 1455.76,1473.86 1456.72,1473.86 1457.67,1473.86 1458.62,1473.86 1459.58,1473.86 1460.53,1473.86 1461.48,1473.86 1462.44,1473.86 1463.39,1473.86 1463.86,1473.86 1463.86,1473.86 1220.36,1473.86" fill="#F25F5C"/>
<polyline points="1220.36,1454.69 1221.32,1451.86 1222.27,1448.79 1223.22,1445.49 1224.18,1441.97 1225.13,1438.24 1226.08,1434.32 1227.04,1430.23 1227.99,1426 1228.94,1421.65 1229.9,1417.2 1230.85,1412.68 1231.8,1408.12 1232.75,1403.53 1233.71,1398.94 1234.66,1394.35 1235.61,1389.76 1236.57,1385.19 1237.52,1380.62 1238.47,1376.05 1239.43,1371.45 1240.38,1366.83 1241.33,1362.15 1242.28,1357.4 1243.24,1352.58 1244.19,1347.66 1245.14,1342.65 1246.1,1337.53 1247.05,1332.33 1248,1327.05 1248.96,1321.72 1249.91,1316.36 1250.86,1310.99 1251.82,1305.62 1252.77,1300.24 1253.72,1294.87 1254.67,1289.52 1255.63,1284.18 1256.58,1278.88 1257.53,1273.64 1258.49,1268.45 1259.44,1263.36 1260.39,1258.39 1261.35,1253.6 1262.3,1249.03 1263.25,1244.75 1264.2,1240.81 1265.16,1237.26 1266.11,1234.14 1267.06,1231.47 1268.02,1229.26 1268.97,1227.51 1269.92,1226.18 1270.88,1225.25 1271.83,1224.69 1272.78,1224.45 1273.73,1224.5 1274.69,1224.81 1275.64,1225.35 1276.59,1226.1 1277.55,1227.02 1278.5,1228.08 1279.45,1229.24 1280.41,1230.47 1281.36,1231.72 1282.31,1232.98 1283.27,1234.21 1284.22,1235.38 1285.17,1236.48 1286.12,1237.49 1287.08,1238.43 1288.03,1239.33 1288.98,1240.26 1289.94,1241.31 1290.89,1242.62 1291.84,1244.31 1292.8,1246.5 1293.75,1249.21 1294.7,1252.44 1295.65,1256.17 1296.61,1260.34 1297.56,1264.92 1298.51,1269.88 1299.47,1275.17 1300.42,1280.77 1301.37,1286.62 1302.33,1292.68 1303.28,1298.89 1304.23,1305.2 1305.18,1311.56 1306.14,1317.96 1307.09,1324.36 1308.04,1330.77 1309,1337.15 1309.95,1343.48 1310.9,1349.7 1311.86,1355.76 1312.81,1361.6 1313.76,1367.16 1314.72,1372.42 1315.67,1377.34 1316.62,1381.91 1317.57,1386.1 1318.53,1389.95 1319.48,1393.44 1320.43,1396.62 1321.39,1399.52 1322.34,1402.15 1323.29,1404.57 1324.25,1406.8 1325.2,1408.89 1326.15,1410.86 1327.1,1412.73 1328.06,1414.55 1329.01,1416.32 1329.96,1418.05 1330.92,1419.76 1331.87,1421.46 1332.82,1423.14 1333.78,1424.81 1334.73,1426.47 1335.68,1428.11 1336.64,1429.72 1337.59,1431.3 1338.54,1432.85 1339.49,1434.36 1340.45,1435.83 1341.4,1437.26 1342.35,1438.63 1343.31,1439.96 1344.26,1441.24 1345.21,1442.46 1346.17,1443.65 1347.12,1444.79 1348.07,1445.91 1349.02,1446.99 1349.98,1448.05 1350.93,1449.1 1351.88,1450.15 1352.84,1451.2 1353.79,1452.26 1354.74,1453.33 1355.7,1454.41 1356.65,1455.52 1357.6,1456.64 1358.55,1457.77 1359.51,1458.91 1360.46,1460.06 1361.41,1461.19 1362.37,1462.32 1363.32,1463.41 1364.27,1464.47 1365.23,1465.49 1366.18,1466.46 1367.13,1467.37 1368.09,1468.21 1369.04,1468.99 1369.99,1469.69 1370.94,1470.33 1371.9,1470.89 1372.85,1471.39 1373.8,1471.82 1374.76,1472.19 1375.71,1472.51 1376.66,1472.78 1377.62,1473 1378.57,1473.18 1379.52,1473.33 1380.47,1473.45 1381.43,1473.55 1382.38,1473.63 1383.33,1473.68 1384.29,1473.73 1385.24,1473.76 1386.19,1473.79 1387.15,1473.81 1388.1,1473.82 1389.05,1473.84 1390,1473.84 1390.96,1473.85 1391.91,1473.85 1392.86,1473.85 1393.82,1473.86 1394.77,1473.86 1395.72,1473.86 1396.68,1473.86 1397.63,1473.86 1398.58,1473.86 1399.54,1473.86 1400.49,1473.86 1401.44,1473.86 1402.39,1473.86 1403.35,1473.86 1404.3,1473.86 1405.25,1473.86 1406.21,1473.86 1407.16,1473.86 1408.11,1473.86 1409.07,1473.86 1410.02,1473.86 1410.97,1473.86 1411.92,1473.86 1412.88,1473.86 1413.83,1473.86 1414.78,1473.86 1415.74,1473.86 1416.69,1473.86 1417.64,1473.86 1418.6,1473.86 1419.55,1473.86 1420.5,1473.86 1421.46,1473.86 1422.41,1473.86 1423.36,1473.86 1424.31,1473.86 1425.27,1473.86 1426.22,1473.86 1427.17,1473.86 1428.13,1473.86 1429.08,1473.86 1430.03,1473.86 1430.99,1473.86 1431.94,1473.86 1432.89,1473.86 1433.84,1473.86 1434.8,1473.86 1435.75,1473.86 1436.7,1473.86 1437.66,1473.86 1438.61,1473.86 1439.56,1473.86 1440.52,1473.86 1441.47,1473.86 1442.42,1473.86 1443.37,1473.86 1444.33,1473.86 1445.28,1473.86 1446.23,1473.86 1447.19,1473.86 1448.14,1473.86 1449.09,1473.86 1450.05,1473.86 1451,1473.86 1451.95,1473.86 1452.91,1473.86 1453.86,1473.86 1454.81,1473.86 1455.76,1473.86 1456.72,1473.86 1457.67,1473.86 1458.62,1473.86 1459.58,1473.86 1460.53,1473.86 1461.48,1473.86 1462.44,1473.86 1463.39,1473.86 1463.86,1473.86" fill="none" stroke="#000" stroke-width="2.85" stroke-linejoin="round" stroke-linecap="butt"/>
<polygon points="1220.36,1465.44 1221.32,1465.42 1222.27,1465.45 1223.22,1465.54 1224.18,1465.66 1225.13,1465.81 1226.08,1465.98 1227.04,1466.14 1227.99,1466.29 1228.94,1466.41 1229.9,1466.47 1230.85,1466.46 1231.8,1466.35 1232.75,1466.14 1233.71,1465.8 1234.66,1465.31 1235.61,1464.65 1236.57,1463.81 1237.52,1462.78 1238.47,1461.55 1239.43,1460.09 1240.38,1458.41 1241.33,1456.5 1242.28,1454.35 1243.24,1451.95 1244.19,1449.32 1245.14,1446.43 1246.1,1443.31 1247.05,1439.94 1248,1436.34 1248.96,1432.51 1249.91,1428.45 1250.86,1424.18 1251.82,1419.7 1252.77,1415.03 1253.72,1410.18 1254.67,1405.17 1255.63,1399.99 1256.58,1394.66 1257.53,1389.2 1258.49,1383.62 1259.44,1377.93 1260.39,1372.15 1261.35,1366.3 1262.3,1360.39 1263.25,1354.42 1264.2,1348.39 1265.16,1342.28 1266.11,1336.09 1267.06,1329.84 1268.02,1323.57 1268.97,1317.34 1269.92,1311.21 1270.88,1305.25 1271.83,1299.5 1272.78,1294.01 1273.73,1288.79 1274.69,1283.85 1275.64,1279.21 1276.59,1274.86 1277.55,1270.8 1278.5,1267.03 1279.45,1263.54 1280.41,1260.35 1281.36,1257.44 1282.31,1254.84 1283.27,1252.56 1284.22,1250.6 1285.17,1248.97 1286.12,1247.66 1287.08,1246.65 1288.03,1245.92 1288.98,1245.45 1289.94,1245.22 1290.89,1245.21 1291.84,1245.4 1292.8,1245.77 1293.75,1246.29 1294.7,1246.93 1295.65,1247.64 1296.61,1248.37 1297.56,1249.08 1298.51,1249.76 1299.47,1250.4 1300.42,1250.99 1301.37,1251.55 1302.33,1252.06 1303.28,1252.55 1304.23,1253.02 1305.18,1253.52 1306.14,1254.11 1307.09,1254.84 1308.04,1255.73 1309,1256.83 1309.95,1258.14 1310.9,1259.7 1311.86,1261.48 1312.81,1263.5 1313.76,1265.73 1314.72,1268.17 1315.67,1270.8 1316.62,1273.61 1317.57,1276.59 1318.53,1279.76 1319.48,1283.1 1320.43,1286.62 1321.39,1290.29 1322.34,1294.08 1323.29,1297.96 1324.25,1301.89 1325.2,1305.87 1326.15,1309.88 1327.1,1313.89 1328.06,1317.9 1329.01,1321.91 1329.96,1325.88 1330.92,1329.81 1331.87,1333.69 1332.82,1337.48 1333.78,1341.15 1334.73,1344.7 1335.68,1348.13 1336.64,1351.48 1337.59,1354.78 1338.54,1358.08 1339.49,1361.41 1340.45,1364.79 1341.4,1368.22 1342.35,1371.71 1343.31,1375.23 1344.26,1378.79 1345.21,1382.36 1346.17,1385.94 1347.12,1389.5 1348.07,1393.04 1349.02,1396.53 1349.98,1399.95 1350.93,1403.28 1351.88,1406.51 1352.84,1409.63 1353.79,1412.63 1354.74,1415.51 1355.7,1418.28 1356.65,1420.95 1357.6,1423.52 1358.55,1426.01 1359.51,1428.42 1360.46,1430.78 1361.41,1433.08 1362.37,1435.34 1363.32,1437.55 1364.27,1439.74 1365.23,1441.89 1366.18,1444.02 1367.13,1446.11 1368.09,1448.16 1369.04,1450.17 1369.99,1452.12 1370.94,1454.02 1371.9,1455.85 1372.85,1457.6 1373.8,1459.27 1374.76,1460.85 1375.71,1462.33 1376.66,1463.71 1377.62,1464.98 1378.57,1466.15 1379.52,1467.21 1380.47,1468.16 1381.43,1469.01 1382.38,1469.77 1383.33,1470.43 1384.29,1471.01 1385.24,1471.5 1386.19,1471.93 1387.15,1472.29 1388.1,1472.59 1389.05,1472.85 1390,1473.06 1390.96,1473.23 1391.91,1473.36 1392.86,1473.48 1393.82,1473.56 1394.77,1473.63 1395.72,1473.69 1396.68,1473.73 1397.63,1473.76 1398.58,1473.79 1399.54,1473.81 1400.49,1473.82 1401.44,1473.83 1402.39,1473.84 1403.35,1473.85 1404.3,1473.85 1405.25,1473.85 1406.21,1473.86 1407.16,1473.86 1408.11,1473.86 1409.07,1473.86 1410.02,1473.86 1410.97,1473.86 1411.92,1473.86 1412.88,1473.86 1413.83,1473.86 1414.78,1473.86 1415.74,1473.86 1416.69,1473.86 1417.64,1473.86 1418.6,1473.86 1419.55,1473.86 1420.5,1473.86 1421.46,1473.86 1422.41,1473.86 1423.36,1473.86 1424.31,1473.86 1425.27,1473.86 1426.22,1473.86 1427.17,1473.86 1428.13,1473.86 1429.08,1473.86 1430.03,1473.86 1430.99,1473.86 1431.94,1473.86 1432.89,1473.86 1433.84,1473.86 1434.8,1473.86 1435.75,1473.86 1436.7,1473.86 1437.66,1473.86 1438.61,1473.86 1439.56,1473.86 1440.52,1473.86 1441.47,1473.86 1442.42,1473.86 1443.37,1473.86 1444.33,1473.86 1445.28,1473.86 1446.23,1473.86 1447.19,1473.86 1448.14,1473.86 1449.09,1473.86 1450.05,1473.86 1451,1473.86 1451.95,1473.86 1452.91,1473.86 1453.86,1473.86 1454.81,1473.86 1455.76,1473.86 1456.72,1473.86 1457.67,1473.86 1458.62,1473.86 1459.58,1473.86 1460.53,1473.86 1461.48,1473.86 1462.44,1473.86 1463.39,1473.86 1463.86,1473.86 1463.86,1473.86 1220.36,1473.86" fill="#19B02D"/>
<polyline points="1220.36,1465.44 1221.32,1465.42 1222.27,1465.45 1223.22,1465.54 1224.18,1465.66 1225.13,1465.81 1226.08,1465.98 1227.04,1466.14 1227.99,1466.29 1228.94,1466.41 1229.9,1466.47 1230.85,1466.46 1231.8,1466.35 1232.75,1466.14 1233.71,1465.8 1234.66,1465.31 1235.61,1464.65 1236.57,1463.81 1237.52,1462.78 1238.47,1461.55 1239.43,1460.09 1240.38,1458.41 1241.33,1456.5 1242.28,1454.35 1243.24,1451.95 1244.19,1449.32 1245.14,1446.43 1246.1,1443.31 1247.05,1439.94 1248,1436.34 1248.96,1432.51 1249.91,1428.45 1250.86,1424.18 1251.82,1419.7 1252.77,1415.03 1253.72,1410.18 1254.67,1405.17 1255.63,1399.99 1256.58,1394.66 1257.53,1389.2 1258.49,1383.62 1259.44,1377.93 1260.39,1372.15 1261.35,1366.3 1262.3,1360.39 1263.25,1354.42 1264.2,1348.39 1265.16,1342.28 1266.11,1336.09 1267.06,1329.84 1268.02,1323.57 1268.97,1317.34 1269.92,1311.21 1270.88,1305.25 1271.83,1299.5 1272.78,1294.01 1273.73,1288.79 1274.69,1283.85 1275.64,1279.21 1276.59,1274.86 1277.55,1270.8 1278.5,1267.03 1279.45,1263.54 1280.41,1260.35 1281.36,1257.44 1282.31,1254.84 1283.27,1252.56 1284.22,1250.6 1285.17,1248.97 1286.12,1247.66 1287.08,1246.65 1288.03,1245.92 1288.98,1245.45 1289.94,1245.22 1290.89,1245.21 1291.84,1245.4 1292.8,1245.77 1293.75,1246.29 1294.7,1246.93 1295.65,1247.64 1296.61,1248.37 1297.56,1249.08 1298.51,1249.76 1299.47,1250.4 1300.42,1250.99 1301.37,1251.55 1302.33,1252.06 1303.28,1252.55 1304.23,1253.02 1305.18,1253.52 1306.14,1254.11 1307.09,1254.84 1308.04,1255.73 1309,1256.83 1309.95,1258.14 1310.9,1259.7 1311.86,1261.48 1312.81,1263.5 1313.76,1265.73 1314.72,1268.17 1315.67,1270.8 1316.62,1273.61 1317.57,1276.59 1318.53,1279.76 1319.48,1283.1 1320.43,1286.62 1321.39,1290.29 1322.34,1294.08 1323.29,1297.96 1324.25,1301.89 1325.2,1305.87 1326.15,1309.88 1327.1,1313.89 1328.06,1317.9 1329.01,1321.91 1329.96,1325.88 1330.92,1329.81 1331.87,1333.69 1332.82,1337.48 1333.78,1341.15 1334.73,1344.7 1335.68,1348.13 1336.64,1351.48 1337.59,1354.78 1338.54,1358.08 1339.49,1361.41 1340.45,1364.79 1341.4,1368.22 1342.35,1371.71 1343.31,1375.23 1344.26,1378.79 1345.21,1382.36 1346.17,1385.94 1347.12,1389.5 1348.07,1393.04 1349.02,1396.53 1349.98,1399.95 1350.93,1403.28 1351.88,1406.51 1352.84,1409.63 1353.79,1412.63 1354.74,1415.51 1355.7,1418.28 1356.65,1420.95 1357.6,1423.52 1358.55,1426.01 1359.51,1428.42 1360.46,1430.78 1361.41,1433.08 1362.37,1435.34 1363.32,1437.55 1364.27,1439.74 1365.23,1441.89 1366.18,1444.02 1367.13,1446.11 1368.09,1448.16 1369.04,1450.17 1369.99,1452.12 1370.94,1454.02 1371.9,1455.85 1372.85,1457.6 1373.8,1459.27 1374.76,1460.85 1375.71,1462.33 1376.66,1463.71 1377.62,1464.98 1378.57,1466.15 1379.52,1467.21 1380.47,1468.16 1381.43,1469.01 1382.38,1469.77 1383.33,1470.43 1384.29,1471.01 1385.24,1471.5 1386.19,1471.93 1387.15,1472.29 1388.1,1472.59 1389.05,1472.85 1390,1473.06 1390.96,1473.23 1391.91,1473.36 1392.86,1473.48 1393.82,1473.56 1394.77,1473.63 1395.72,1473.69 1396.68,1473.73 1397.63,1473.76 1398.58,1473.79 1399.54,1473.81 1400.49,1473.82 1401.44,1473.83 1402.39,1473.84 1403.35,1473.85 1404.3,1473.85 1405.25,1473.85 1406.21,1473.86 1407.16,1473.86 1408.11,1473.86 1409.07,1473.86 1410.02,1473.86 1410.97,1473.86 1411.92,1473.86 1412.88,1473.86 1413.83,1473.86 1414.78,1473.86 1415.74,1473.86 1416.69,1473.86 1417.64,1473.86 1418.6,1473.86 1419.55,1473.86 1420.5,1473.86 1421.46,1473.86 1422.41,1473.86 1423.36,1473.86 1424.31,1473.86 1425.27,1473.86 1426.22,1473.86 1427.17,1473.86 1428.13,1473.86 1429.08,1473.86 1430.03,1473.86 1430.99,1473.86 1431.94,1473.86 1432.89,1473.86 1433.84,1473.86 1434.8,1473.86 1435.75,1473.86 1436.7,1473.86 1437.66,1473.86 1438.61,1473.86 1439.56,1473.86 1440.52,1473.86 1441.47,1473.86 1442.42,1473.86 1443.37,1473.86 1444.33,1473.86 1445.28,1473.86 1446.23,1473.86 1447.19,1473.86 1448.14,1473.86 1449.09,1473.86 1450.05,1473.86 1451,1473.86 1451.95,1473.86 1452.91,1473.86 1453.86,1473.86 1454.81,1473.86 1455.76,1473.86 1456.72,1473.86 1457.67,1473.86 1458.62,1473.86 1459.58,1473.86 1460.53,1473.86 1461.48,1473.86 1462.44,1473.86 1463.39,1473.86 1463.86,1473.86" fill="none" stroke="#000" stroke-width="2.85" stroke-linejoin="round" stroke-linecap="butt"/>
<polygon points="1220.36,1473.86 1221.32,1473.86 1222.27,1473.86 1223.22,1473.86 1224.18,1473.86 1225.13,1473.86 1226.08,1473.86 1227.04,1473.86 1227.99,1473.86 1228.94,1473.86 1229.9,1473.86 1230.85,1473.86 1231.8,1473.86 1232.75,1473.86 1233.71,1473.86 1234.66,1473.86 1235.61,1473.86 1236.57,1473.86 1237.52,1473.86 1238.47,1473.86 1239.43,1473.86 1240.38,1473.86 1241.33,1473.86 1242.28,1473.86 1243.24,1473.86 1244.19,1473.86 1245.14,1473.86 1246.1,1473.86 1247.05,1473.86 1248,1473.86 1248.96,1473.86 1249.91,1473.86 1250.86,1473.86 1251.82,1473.86 1252.77,1473.86 1253.72,1473.86 1254.67,1473.86 1255.63,1473.86 1256.58,1473.86 1257.53,1473.86 1258.49,1473.86 1259.44,1473.86 1260.39,1473.86 1261.35,1473.85 1262.3,1473.85 1263.25,1473.85 1264.2,1473.85 1265.16,1473.84 1266.11,1473.84 1267.06,1473.83 1268.02,1473.82 1268.97,1473.81 1269.92,1473.8 1270.88,1473.78 1271.83,1473.76 1272.78,1473.73 1273.73,1473.7 1274.69,1473.66 1275.64,1473.61 1276.59,1473.56 1277.55,1473.49 1278.5,1473.41 1279.45,1473.32 1280.41,1473.21 1281.36,1473.08 1282.31,1472.93 1283.27,1472.76 1284.22,1472.57 1285.17,1472.35 1286.12,1472.11 1287.08,1471.83 1288.03,1471.52 1288.98,1471.17 1289.94,1470.79 1290.89,1470.36 1291.84,1469.89 1292.8,1469.37 1293.75,1468.81 1294.7,1468.19 1295.65,1467.51 1296.61,1466.77 1297.56,1465.97 1298.51,1465.09 1299.47,1464.15 1300.42,1463.13 1301.37,1462.03 1302.33,1460.84 1303.28,1459.56 1304.23,1458.19 1305.18,1456.73 1306.14,1455.16 1307.09,1453.49 1308.04,1451.72 1309,1449.84 1309.95,1447.86 1310.9,1445.77 1311.86,1443.59 1312.81,1441.3 1313.76,1438.93 1314.72,1436.46 1315.67,1433.92 1316.62,1431.3 1317.57,1428.61 1318.53,1425.87 1319.48,1423.08 1320.43,1420.25 1321.39,1417.39 1322.34,1414.51 1323.29,1411.61 1324.25,1408.71 1325.2,1405.81 1326.15,1402.91 1327.1,1400.02 1328.06,1397.12 1329.01,1394.22 1329.96,1391.28 1330.92,1388.3 1331.87,1385.25 1332.82,1382.12 1333.78,1378.92 1334.73,1375.63 1335.68,1372.28 1336.64,1368.86 1337.59,1365.4 1338.54,1361.9 1339.49,1358.38 1340.45,1354.85 1341.4,1351.32 1342.35,1347.79 1343.31,1344.28 1344.26,1340.77 1345.21,1337.29 1346.17,1333.83 1347.12,1330.41 1348.07,1327.05 1349.02,1323.76 1349.98,1320.53 1350.93,1317.37 1351.88,1314.29 1352.84,1311.31 1353.79,1308.47 1354.74,1305.84 1355.7,1303.45 1356.65,1301.33 1357.6,1299.49 1358.55,1297.88 1359.51,1296.49 1360.46,1295.3 1361.41,1294.29 1362.37,1293.48 1363.32,1292.85 1364.27,1292.42 1365.23,1292.17 1366.18,1292.09 1367.13,1292.18 1368.09,1292.44 1369.04,1292.88 1369.99,1293.49 1370.94,1294.28 1371.9,1295.23 1372.85,1296.3 1373.8,1297.49 1374.76,1298.75 1375.71,1300.06 1376.66,1301.4 1377.62,1302.76 1378.57,1304.11 1379.52,1305.44 1380.47,1306.75 1381.43,1308.02 1382.38,1309.24 1383.33,1310.39 1384.29,1311.46 1385.24,1312.43 1386.19,1313.28 1387.15,1314.03 1388.1,1314.67 1389.05,1315.21 1390,1315.66 1390.96,1316.01 1391.91,1316.25 1392.86,1316.39 1393.82,1316.42 1394.77,1316.36 1395.72,1316.23 1396.68,1316.04 1397.63,1315.82 1398.58,1315.59 1399.54,1315.35 1400.49,1315.13 1401.44,1314.93 1402.39,1314.77 1403.35,1314.67 1404.3,1314.67 1405.25,1314.79 1406.21,1315.04 1407.16,1315.42 1408.11,1315.95 1409.07,1316.63 1410.02,1317.46 1410.97,1318.45 1411.92,1319.58 1412.88,1320.87 1413.83,1322.31 1414.78,1323.91 1415.74,1325.68 1416.69,1327.62 1417.64,1329.73 1418.6,1332.02 1419.55,1334.48 1420.5,1337.11 1421.46,1339.9 1422.41,1342.84 1423.36,1345.9 1424.31,1349.07 1425.27,1352.32 1426.22,1355.63 1427.17,1359 1428.13,1362.41 1429.08,1365.85 1430.03,1369.31 1430.99,1372.78 1431.94,1376.24 1432.89,1379.71 1433.84,1383.17 1434.8,1386.65 1435.75,1390.15 1436.7,1393.7 1437.66,1397.29 1438.61,1400.91 1439.56,1404.53 1440.52,1408.13 1441.47,1411.67 1442.42,1415.14 1443.37,1418.52 1444.33,1421.8 1445.28,1424.97 1446.23,1428.01 1447.19,1430.92 1448.14,1433.68 1449.09,1436.3 1450.05,1438.77 1451,1441.09 1451.95,1443.27 1452.91,1445.32 1453.86,1447.25 1454.81,1449.06 1455.76,1450.77 1456.72,1452.37 1457.67,1453.89 1458.62,1455.31 1459.58,1456.64 1460.53,1457.89 1461.48,1459.06 1462.44,1460.16 1463.39,1461.18 1463.86,1461.67 1463.86,1473.86 1220.36,1473.86" fill="#5087FF"/>
<polyline points="1220.36,1473.86 1221.32,1473.86 1222.27,1473.86 1223.22,1473.86 1224.18,1473.86 1225.13,1473.86 1226.08,1473.86 1227.04,1473.86 1227.99,1473.86 1228.94,1473.86 1229.9,1473.86 1230.85,1473.86 1231.8,1473.86 1232.75,1473.86 1233.71,1473.86 1234.66,1473.86 1235.61,1473.86 1236.57,1473.86 1237.52,1473.86 1238.47,1473.86 1239.43,1473.86 1240.38,1473.86 1241.33,1473.86 1242.28,1473.86 1243.24,1473.86 1244.19,1473.86 1245.14,1473.86 1246.1,1473.86 1247.05,1473.86 1248,1473.86 1248.96,1473.86 1249.91,1473.86 1250.86,1473.86 1251.82,1473.86 1252.77,1473.86 1253.72,1473.86 1254.67,1473.86 1255.63,1473.86 1256.58,1473.86 1257.53,1473.86 1258.49,1473.86 1259.44,1473.86 1260.39,1473.86 1261.35,1473.85 1262.3,1473.85 1263.25,1473.85 1264.2,1473.85 1265.16,1473.84 1266.11,1473.84 1267.06,1473.83 1268.02,1473.82 1268.97,1473.81 1269.92,1473.8 1270.88,1473.78 1271.83,1473.76 1272.78,1473.73 1273.73,1473.7 1274.69,1473.66 1275.64,1473.61 1276.59,1473.56 1277.55,1473.49 1278.5,1473.41 1279.45,1473.32 1280.41,1473.21 1281.36,1473.08 1282.31,1472.93 1283.27,1472.76 1284.22,1472.57 1285.17,1472.35 1286.12,1472.11 1287.08,1471.83 1288.03,1471.52 1288.98,1471.17 1289.94,1470.79 1290.89,1470.36 1291.84,1469.89 1292.8,1469.37 1293.75,1468.81 1294.7,1468.19 1295.65,1467.51 1296.61,1466.77 1297.56,1465.97 1298.51,1465.09 1299.47,1464.15 1300.42,1463.13 1301.37,1462.03 1302.33,1460.84 1303.28,1459.56 1304.23,1458.19 1305.18,1456.73 1306.14,1455.16 1307.09,1453.49 1308.04,1451.72 1309,1449.84 1309.95,1447.86 1310.9,1445.77 1311.86,1443.59 1312.81,1441.3 1313.76,1438.93 1314.72,1436.46 1315.67,1433.92 1316.62,1431.3 1317.57,1428.61 1318.53,1425.87 1319.48,1423.08 1320.43,1420.25 1321.39,1417.39 1322.34,1414.51 1323.29,1411.61 1324.25,1408.71 1325.2,1405.81 1326.15,1402.91 1327.1,1400.02 1328.06,1397.12 1329.01,1394.22 1329.96,1391.28 1330.92,1388.3 1331.87,1385.25 1332.82,1382.12 1333.78,1378.92 1334.73,1375.63 1335.68,1372.28 1336.64,1368.86 1337.59,1365.4 1338.54,1361.9 1339.49,1358.38 1340.45,1354.85 1341.4,1351.32 1342.35,1347.79 1343.31,1344.28 1344.26,1340.77 1345.21,1337.29 1346.17,1333.83 1347.12,1330.41 1348.07,1327.05 1349.02,1323.76 1349.98,1320.53 1350.93,1317.37 1351.88,1314.29 1352.84,1311.31 1353.79,1308.47 1354.74,1305.84 1355.7,1303.45 1356.65,1301.33 1357.6,1299.49 1358.55,1297.88 1359.51,1296.49 1360.46,1295.3 1361.41,1294.29 1362.37,1293.48 1363.32,1292.85 1364.27,1292.42 1365.23,1292.17 1366.18,1292.09 1367.13,1292.18 1368.09,1292.44 1369.04,1292.88 1369.99,1293.49 1370.94,1294.28 1371.9,1295.23 1372.85,1296.3 1373.8,1297.49 1374.76,1298.75 1375.71,1300.06 1376.66,1301.4 1377.62,1302.76 1378.57,1304.11 1379.52,1305.44 1380.47,1306.75 1381.43,1308.02 1382.38,1309.24 1383.33,1310.39 1384.29,1311.46 1385.24,1312.43 1386.19,1313.28 1387.15,1314.03 1388.1,1314.67 1389.05,1315.21 1390,1315.66 1390.96,1316.01 1391.91,1316.25 1392.86,1316.39 1393.82,1316.42 1394.77,1316.36 1395.72,1316.23 1396.68,1316.04 1397.63,1315.82 1398.58,1315.59 1399.54,1315.35 1400.49,1315.13 1401.44,1314.93 1402.39,1314.77 1403.35,1314.67 1404.3,1314.67 1405.25,1314.79 1406.21,1315.04 1407.16,1315.42 1408.11,1315.95 1409.07,1316.63 1410.02,1317.46 1410.97,1318.45 1411.92,1319.58 1412.88,1320.87 1413.83,1322.31 1414.78,1323.91 1415.74,1325.68 1416.69,1327.62 1417.64,1329.73 1418.6,1332.02 1419.55,1334.48 1420.5,1337.11 1421.46,1339.9 1422.41,1342.84 1423.36,1345.9 1424.31,1349.07 1425.27,1352.32 1426.22,1355.63 1427.17,1359 1428.13,1362.41 1429.08,1365.85 1430.03,1369.31 1430.99,1372.78 1431.94,1376.24 1432.89,1379.71 1433.84,1383.17 1434.8,1386.65 1435.75,1390.15 1436.7,1393.7 1437.66,1397.29 1438.61,1400.91 1439.56,1404.53 1440.52,1408.13 1441.47,1411.67 1442.42,1415.14 1443.37,1418.52 1444.33,1421.8 1445.28,1424.97 1446.23,1428.01 1447.19,1430.92 1448.14,1433.68 1449.09,1436.3 1450.05,1438.77 1451,1441.09 1451.95,1443.27 1452.91,1445.32 1453.86,1447.25 1454.81,1449.06 1455.76,1450.77 1456.72,1452.37 1457.67,1453.89 1458.62,1455.31 1459.58,1456.64 1460.53,1457.89 1461.48,1459.06 1462.44,1460.16 1463.39,1461.18 1463.86,1461.67" fill="none" stroke="#000" stroke-width="2.85" stroke-linejoin="round" stroke-linecap="butt"/>
</g>
<rect x="362.1" y="635.95" width="267.85" height="273.67" fill="#E7E7E7"/>
<g clip-path="url(#c21)">
<line x1="362.1" y1="877.93" x2="629.95" y2="877.93" stroke="#FFFFFF" stroke-width="1.42"/>
<line x1="362.1" y1="803.88" x2="629.95" y2="803.88" stroke="#FFFFFF" stroke-width="1.42"/>
<line x1="362.1" y1="729.84" x2="629.95" y2="729.84" stroke="#FFFFFF" stroke-width="1.42"/>
<line x1="362.1" y1="655.79" x2="629.95" y2="655.79" stroke="#FFFFFF" stroke-width="1.42"/>
<line x1="362.1" y1="840.91" x2="629.95" y2="840.91" stroke="#FFFFFF" stroke-width="2.85"/>
<line x1="362.1" y1="766.86" x2="629.95" y2="766.86" stroke="#FFFFFF" stroke-width="2.85"/>
<line x1="362.1" y1="692.82" x2="629.95" y2="692.82" stroke="#FFFFFF" stroke-width="2.85"/>
<line x1="399.95" y1="635.95" x2="399.95" y2="909.62" stroke="#FFFFFF" stroke-width="1.42"/>
<line x1="488.5" y1="635.95" x2="488.5" y2="909.62" stroke="#FFFFFF" stroke-width="1.42"/>
<line x1="577.04" y1="635.95" x2="577.04" y2="909.62" stroke="#FFFFFF" stroke-width="1.42"/>
<line x1="444.23" y1="635.95" x2="444.23" y2="909.62" stroke="#FFFFFF" stroke-width="2.85"/>
<line x1="532.77" y1="635.95" x2="532.77" y2="909.62" stroke="#FFFFFF" stroke-width="2.85"/>
<line x1="621.32" y1="635.95" x2="621.32" y2="909.62" stroke="#FFFFFF" stroke-width="2.85"/>
<g fill="#19B02D"><circle cx="465.48" cy="728.36" r="6.15"/></g><g fill="#F25F5C"><circle cx="386.67" cy="722.43" r="6.15"/><circle cx="427.4" cy="814.25" r="6.15"/><circle cx="442.45" cy="778.71" r="6.15"/><circle cx="447.77" cy="672.08" r="6.15"/><circle cx="460.16" cy="772.79" r="6.15"/><circle cx="413.23" cy="755.01" r="6.15"/><circle cx="403.91" cy="725.4" r="6.15"/><circle cx="451.31" cy="775.75" r="6.15"/></g><g fill="#19B02D"><circle cx="451.31" cy="725.4" r="6.15"/></g><g fill="#F25F5C"><circle cx="441.57" cy="734.28" r="6.15"/><circle cx="392.87" cy="789.35" r="6.15"/><circle cx="436.26" cy="675.05" r="6.15"/><circle cx="438.91" cy="764.9" r="6.15"/><circle cx="431.83" cy="781.67" r="6.15"/><circle cx="448.65" cy="683.93" r="6.15"/><circle cx="415.89" cy="793.52" r="6.15"/></g><g fill="#19B02D"><circle cx="458.39" cy="701.7" r="6.15"/></g><g fill="#F25F5C"><circle cx="411.46" cy="725.4" r="6.15"/><circle cx="409.69" cy="755.01" r="6.15"/><circle cx="401.72" cy="769.82" r="6.15"/><circle cx="421.2" cy="757.98" r="6.15"/><circle cx="388.44" cy="657.27" r="6.15"/><circle cx="438.03" cy="757.98" r="6.15"/><circle cx="418.55" cy="722.43" r="6.15"/><circle cx="452.2" cy="728.36" r="6.15"/><circle cx="435.37" cy="725.4" r="6.15"/><circle cx="453.08" cy="746.13" r="6.15"/><circle cx="441.57" cy="778.71" r="6.15"/></g><g fill="#19B02D"><circle cx="461.05" cy="725.4" r="6.15"/></g><g fill="#F25F5C"><circle cx="400.84" cy="710.59" r="6.15"/><circle cx="422.09" cy="763.9" r="6.15"/><circle cx="449.54" cy="749.09" r="6.15"/><circle cx="446.88" cy="716.51" r="6.15"/></g><g fill="#19B02D"><circle cx="476.1" cy="752.05" r="6.15"/></g><g fill="#F25F5C"><circle cx="422.09" cy="737.24" r="6.15"/><circle cx="404.38" cy="760.94" r="6.15"/><circle cx="448.65" cy="743.17" r="6.15"/><circle cx="458.39" cy="740.21" r="6.15"/><circle cx="410.58" cy="731.32" r="6.15"/><circle cx="416.78" cy="688.26" r="6.15"/><circle cx="413.23" cy="731.32" r="6.15"/><circle cx="417.66" cy="749.09" r="6.15"/><circle cx="374.27" cy="826.1" r="6.15"/><circle cx="434.49" cy="781" r="6.15"/><circle cx="430.06" cy="763.9" r="6.15"/><circle cx="453.08" cy="713.55" r="6.15"/><circle cx="424.75" cy="755.01" r="6.15"/><circle cx="427.4" cy="775.75" r="6.15"/><circle cx="443.34" cy="692.82" r="6.15"/><circle cx="453.97" cy="734.28" r="6.15"/><circle cx="450.42" cy="740.21" r="6.15"/><circle cx="395.53" cy="749.09" r="6.15"/><circle cx="440.68" cy="784.63" r="6.15"/></g><g fill="#19B02D"><circle cx="462.82" cy="740.21" r="6.15"/></g><g fill="#F25F5C"><circle cx="447.77" cy="747.41" r="6.15"/><circle cx="424.75" cy="743.17" r="6.15"/></g><g fill="#19B02D"><circle cx="477.87" cy="707.63" r="6.15"/><circle cx="485.84" cy="731.32" r="6.15"/><circle cx="453.08" cy="692.82" r="6.15"/></g><g fill="#F25F5C"><circle cx="446.88" cy="740.21" r="6.15"/><circle cx="406.15" cy="752.05" r="6.15"/><circle cx="421.2" cy="775.75" r="6.15"/><circle cx="437.14" cy="752.05" r="6.15"/><circle cx="407.04" cy="798.03" r="6.15"/><circle cx="410.58" cy="737.24" r="6.15"/><circle cx="432.71" cy="728.36" r="6.15"/><circle cx="469.9" cy="731.32" r="6.15"/><circle cx="437.55" cy="719.47" r="6.15"/><circle cx="428.29" cy="757.98" r="6.15"/><circle cx="444.23" cy="787.59" r="6.15"/></g><g fill="#19B02D"><circle cx="470.79" cy="707.63" r="6.15"/></g><g fill="#F25F5C"><circle cx="426.52" cy="725.4" r="6.15"/><circle cx="443.34" cy="799.44" r="6.15"/><circle cx="467.25" cy="722.43" r="6.15"/><circle cx="428.29" cy="689.85" r="6.15"/><circle cx="452.2" cy="749.09" r="6.15"/><circle cx="407.04" cy="787.59" r="6.15"/><circle cx="423.86" cy="728.36" r="6.15"/><circle cx="438.91" cy="784.63" r="6.15"/><circle cx="422.97" cy="790.56" r="6.15"/></g><g fill="#19B02D"><circle cx="467.25" cy="780.99" r="6.15"/></g><g fill="#F25F5C"><circle cx="465.48" cy="678.01" r="6.15"/><circle cx="408.81" cy="752.05" r="6.15"/><circle cx="455.74" cy="746.13" r="6.15"/></g><g fill="#19B02D"><circle cx="457.51" cy="722.43" r="6.15"/></g><g fill="#F25F5C"><circle cx="425.63" cy="778.71" r="6.15"/><circle cx="439.8" cy="707.63" r="6.15"/><circle cx="422.97" cy="713.55" r="6.15"/><circle cx="411.46" cy="780.24" r="6.15"/><circle cx="405.27" cy="787.59" r="6.15"/><circle cx="446" cy="654.31" r="6.15"/><circle cx="461.93" cy="734.28" r="6.15"/><circle cx="451.31" cy="752.05" r="6.15"/><circle cx="419.43" cy="811.29" r="6.15"/><circle cx="429.17" cy="728.36" r="6.15"/><circle cx="415.01" cy="701.7" r="6.15"/></g><g fill="#19B02D"><circle cx="446.88" cy="657.27" r="6.15"/></g><g fill="#F25F5C"><circle cx="420.32" cy="731.32" r="6.15"/><circle cx="414.12" cy="755.83" r="6.15"/><circle cx="419.43" cy="731.32" r="6.15"/><circle cx="436.26" cy="781.67" r="6.15"/><circle cx="450.42" cy="737.24" r="6.15"/></g><g fill="#19B02D"><circle cx="466.36" cy="713.55" r="6.15"/></g><g fill="#F25F5C"><circle cx="449.54" cy="734.28" r="6.15"/><circle cx="430.06" cy="704.66" r="6.15"/><circle cx="429.17" cy="737.24" r="6.15"/><circle cx="418.55" cy="752.05" r="6.15"/><circle cx="412.35" cy="775.75" r="6.15"/></g><g fill="#19B02D"><circle cx="449.54" cy="707.63" r="6.15"/></g><g fill="#F25F5C"><circle cx="399.95" cy="760.94" r="6.15"/><circle cx="408.81" cy="749.09" r="6.15"/><circle cx="399.07" cy="772.79" r="6.15"/><circle cx="430.94" cy="757.98" r="6.15"/><circle cx="453.08" cy="796.48" r="6.15"/></g><g fill="#19B02D"><circle cx="463.71" cy="728.36" r="6.15"/></g><g fill="#F25F5C"><circle cx="446" cy="781.67" r="6.15"/><circle cx="451.31" cy="796.48" r="6.15"/><circle cx="445.11" cy="737.24" r="6.15"/></g><g fill="#19B02D"><circle cx="473.45" cy="778.71" r="6.15"/></g><g fill="#F25F5C"><circle cx="420.56" cy="778.71" r="6.15"/><circle cx="405.27" cy="769.82" r="6.15"/></g><g fill="#19B02D"><circle cx="469.02" cy="769.82" r="6.15"/></g><g fill="#F25F5C"><circle cx="407.92" cy="760.94" r="6.15"/><circle cx="440.68" cy="725.4" r="6.15"/><circle cx="433.6" cy="734.28" r="6.15"/><circle cx="447.77" cy="787.59" r="6.15"/><circle cx="430.94" cy="692.82" r="6.15"/><circle cx="407.92" cy="731.32" r="6.15"/><circle cx="432.71" cy="722.43" r="6.15"/></g><g fill="#19B02D"><circle cx="471.67" cy="787.59" r="6.15"/></g><g fill="#F25F5C"><circle cx="472.56" cy="793.52" r="6.15"/><circle cx="433.6" cy="716.51" r="6.15"/><circle cx="426.52" cy="721.1" r="6.15"/><circle cx="434.49" cy="755.01" r="6.15"/><circle cx="416.78" cy="811.29" r="6.15"/><circle cx="398.18" cy="790.56" r="6.15"/><circle cx="415.89" cy="778.71" r="6.15"/><circle cx="396.41" cy="660.24" r="6.15"/><circle cx="445.11" cy="775.75" r="6.15"/><circle cx="463.71" cy="766.86" r="6.15"/><circle cx="425.63" cy="734.28" r="6.15"/><circle cx="415.01" cy="719.47" r="6.15"/><circle cx="454.85" cy="710.59" r="6.15"/><circle cx="383.13" cy="808.33" r="6.15"/><circle cx="413.23" cy="793.52" r="6.15"/><circle cx="435.37" cy="784.63" r="6.15"/><circle cx="402.61" cy="772.79" r="6.15"/></g><g fill="#19B02D"><circle cx="480.53" cy="749.09" r="6.15"/></g><g fill="#5087FF"><circle cx="523.03" cy="867.56" r="6.15"/><circle cx="459.28" cy="849.79" r="6.15"/><circle cx="500.89" cy="840.91" r="6.15"/><circle cx="495.58" cy="873.49" r="6.15"/><circle cx="531.89" cy="778.71" r="6.15"/><circle cx="547.82" cy="829.06" r="6.15"/><circle cx="529.23" cy="837.94" r="6.15"/><circle cx="511.52" cy="817.21" r="6.15"/><circle cx="523.92" cy="837.94" r="6.15"/><circle cx="530.12" cy="802.4" r="6.15"/><circle cx="486.73" cy="870.52" r="6.15"/><circle cx="487.97" cy="808.33" r="6.15"/><circle cx="498.24" cy="833.23" r="6.15"/><circle cx="523.03" cy="832.02" r="6.15"/><circle cx="562.88" cy="817.21" r="6.15"/><circle cx="492.93" cy="855.72" r="6.15"/><circle cx="491.15" cy="832.02" r="6.15"/><circle cx="523.92" cy="820.17" r="6.15"/><circle cx="492.04" cy="861.64" r="6.15"/><circle cx="494.7" cy="891.26" r="6.15"/><circle cx="506.21" cy="829.06" r="6.15"/><circle cx="499.12" cy="846.83" r="6.15"/><circle cx="455.74" cy="891.26" r="6.15"/><circle cx="514.18" cy="826.1" r="6.15"/><circle cx="496.47" cy="861.64" r="6.15"/><circle cx="466.36" cy="894.22" r="6.15"/><circle cx="543.4" cy="882.37" r="6.15"/><circle cx="533.66" cy="817.21" r="6.15"/><circle cx="502.67" cy="814.25" r="6.15"/><circle cx="542.51" cy="802.4" r="6.15"/><circle cx="483.19" cy="875.02" r="6.15"/><circle cx="515.06" cy="837.94" r="6.15"/><circle cx="513.29" cy="811.29" r="6.15"/><circle cx="539.86" cy="790.56" r="6.15"/><circle cx="489.38" cy="879.41" r="6.15"/><circle cx="492.04" cy="834.98" r="6.15"/><circle cx="529.23" cy="805.36" r="6.15"/><circle cx="509.75" cy="840.91" r="6.15"/><circle cx="471.67" cy="837.94" r="6.15"/><circle cx="500.01" cy="840.91" r="6.15"/><circle cx="527.46" cy="852.75" r="6.15"/><circle cx="532.77" cy="775.75" r="6.15"/><circle cx="536.31" cy="823.14" r="6.15"/><circle cx="493.81" cy="811.29" r="6.15"/><circle cx="488.5" cy="888.3" r="6.15"/><circle cx="504.44" cy="858.68" r="6.15"/><circle cx="476.99" cy="861.64" r="6.15"/><circle cx="570.85" cy="820.17" r="6.15"/><circle cx="525.69" cy="834.98" r="6.15"/><circle cx="540.74" cy="820.17" r="6.15"/><circle cx="519.49" cy="855.72" r="6.15"/><circle cx="475.22" cy="873.49" r="6.15"/><circle cx="469.9" cy="897.18" r="6.15"/><circle cx="515.95" cy="852.75" r="6.15"/><circle cx="522.15" cy="852.75" r="6.15"/><circle cx="511.52" cy="840.91" r="6.15"/><circle cx="478.76" cy="834.98" r="6.15"/><circle cx="484.96" cy="855.72" r="6.15"/><circle cx="519.49" cy="824.6" r="6.15"/><circle cx="474.33" cy="882.37" r="6.15"/><circle cx="530.12" cy="843.87" r="6.15"/><circle cx="552.25" cy="787.59" r="6.15"/><circle cx="493.81" cy="843.87" r="6.15"/><circle cx="492.04" cy="858.29" r="6.15"/><circle cx="535.43" cy="823.14" r="6.15"/><circle cx="490.27" cy="799.44" r="6.15"/><circle cx="533.66" cy="817.21" r="6.15"/><circle cx="468.13" cy="879.41" r="6.15"/><circle cx="504.24" cy="864.6" r="6.15"/><circle cx="516.83" cy="866.74" r="6.15"/><circle cx="517.72" cy="837.94" r="6.15"/><circle cx="507.98" cy="861.64" r="6.15"/><circle cx="502.67" cy="850.18" r="6.15"/><circle cx="532.77" cy="808.33" r="6.15"/><circle cx="510.63" cy="823.14" r="6.15"/><circle cx="497.35" cy="870.52" r="6.15"/><circle cx="577.93" cy="811.29" r="6.15"/><circle cx="537.2" cy="808.33" r="6.15"/><circle cx="527.46" cy="799.44" r="6.15"/><circle cx="534.54" cy="834.98" r="6.15"/><circle cx="512.41" cy="826.1" r="6.15"/><circle cx="476.99" cy="852.75" r="6.15"/><circle cx="617.77" cy="781.67" r="6.15"/><circle cx="535.43" cy="867.56" r="6.15"/><circle cx="526.57" cy="876.45" r="6.15"/><circle cx="505.32" cy="834.98" r="6.15"/><circle cx="558.45" cy="775.75" r="6.15"/><circle cx="503.55" cy="876.45" r="6.15"/><circle cx="481.41" cy="864.6" r="6.15"/><circle cx="500.89" cy="851.2" r="6.15"/><circle cx="498.24" cy="820.17" r="6.15"/><circle cx="489.38" cy="864.6" r="6.15"/><circle cx="520.38" cy="876.45" r="6.15"/><circle cx="524.8" cy="814.25" r="6.15"/><circle cx="546.05" cy="811.29" r="6.15"/><circle cx="473.45" cy="857.79" r="6.15"/><circle cx="508.86" cy="837.94" r="6.15"/><circle cx="538.08" cy="808.33" r="6.15"/><circle cx="518.6" cy="858.68" r="6.15"/><circle cx="508.86" cy="823.14" r="6.15"/><circle cx="528.34" cy="805.36" r="6.15"/><circle cx="452.19" cy="879.41" r="6.15"/><circle cx="501.78" cy="846.83" r="6.15"/><circle cx="472.56" cy="861.64" r="6.15"/><circle cx="506.21" cy="864.6" r="6.15"/><circle cx="544.28" cy="814.25" r="6.15"/><circle cx="507.09" cy="873.49" r="6.15"/><circle cx="521.26" cy="787.59" r="6.15"/><circle cx="489.38" cy="870.52" r="6.15"/><circle cx="585.01" cy="781.67" r="6.15"/><circle cx="526.57" cy="834.98" r="6.15"/><circle cx="494.7" cy="855.72" r="6.15"/><circle cx="461.93" cy="885.33" r="6.15"/><circle cx="491.15" cy="864.6" r="6.15"/><circle cx="480.53" cy="884.01" r="6.15"/><circle cx="497.35" cy="882.37" r="6.15"/><circle cx="495.58" cy="841.8" r="6.15"/><circle cx="531" cy="855.72" r="6.15"/><circle cx="537.2" cy="805.36" r="6.15"/></g><g fill="#19B02D"><circle cx="546.05" cy="755.94" r="6.15"/><circle cx="518.6" cy="731.32" r="6.15"/><circle cx="535.43" cy="710.59" r="6.15"/><circle cx="492.93" cy="680.97" r="6.15"/><circle cx="500.01" cy="707.63" r="6.15"/><circle cx="541.63" cy="737.24" r="6.15"/><circle cx="539.86" cy="737.24" r="6.15"/><circle cx="495.58" cy="787.59" r="6.15"/><circle cx="584.13" cy="698.74" r="6.15"/><circle cx="544.28" cy="790.56" r="6.15"/><circle cx="510.63" cy="734.28" r="6.15"/><circle cx="535.43" cy="749.09" r="6.15"/><circle cx="499.12" cy="710.59" r="6.15"/><circle cx="543.4" cy="704.66" r="6.15"/><circle cx="491.15" cy="805.36" r="6.15"/><circle cx="536.31" cy="719.47" r="6.15"/><circle cx="505.32" cy="793.52" r="6.15"/><circle cx="493.81" cy="716.51" r="6.15"/><circle cx="498.24" cy="746.13" r="6.15"/><circle cx="531" cy="775.75" r="6.15"/><circle cx="554.02" cy="725.4" r="6.15"/><circle cx="525.69" cy="734.28" r="6.15"/><circle cx="515.06" cy="734.28" r="6.15"/><circle cx="506.21" cy="728.36" r="6.15"/><circle cx="563.76" cy="695.78" r="6.15"/><circle cx="491.15" cy="725.4" r="6.15"/><circle cx="501.78" cy="763.9" r="6.15"/><circle cx="545.17" cy="710.59" r="6.15"/><circle cx="538.97" cy="760.94" r="6.15"/><circle cx="533.66" cy="710.59" r="6.15"/><circle cx="569.96" cy="669.12" r="6.15"/><circle cx="538.08" cy="766.86" r="6.15"/><circle cx="561.11" cy="704.66" r="6.15"/><circle cx="490.27" cy="731.32" r="6.15"/><circle cx="508.86" cy="743.17" r="6.15"/><circle cx="537.2" cy="796.48" r="6.15"/><circle cx="522.15" cy="657.27" r="6.15"/><circle cx="512.41" cy="740.21" r="6.15"/><circle cx="545.17" cy="698.74" r="6.15"/><circle cx="540.74" cy="749.09" r="6.15"/><circle cx="496.47" cy="781.67" r="6.15"/><circle cx="524.8" cy="743.17" r="6.15"/><circle cx="540.74" cy="666.16" r="6.15"/><circle cx="527.46" cy="752.05" r="6.15"/><circle cx="549.6" cy="728.36" r="6.15"/><circle cx="523.03" cy="752.05" r="6.15"/><circle cx="489.38" cy="737.24" r="6.15"/><circle cx="494.7" cy="722.43" r="6.15"/><circle cx="528.34" cy="687.7" r="6.15"/><circle cx="503.55" cy="701.7" r="6.15"/><circle cx="557.56" cy="692.82" r="6.15"/><circle cx="503.55" cy="716.51" r="6.15"/><circle cx="532.77" cy="772.79" r="6.15"/><circle cx="500.89" cy="746.13" r="6.15"/><circle cx="531.89" cy="698.74" r="6.15"/><circle cx="499.12" cy="755.01" r="6.15"/><circle cx="487.92" cy="760.94" r="6.15"/><circle cx="550.48" cy="672.08" r="6.15"/><circle cx="497.35" cy="648.39" r="6.15"/><circle cx="542.51" cy="722.43" r="6.15"/><circle cx="548.71" cy="703.79" r="6.15"/><circle cx="530.12" cy="755.01" r="6.15"/><circle cx="603.61" cy="757.98" r="6.15"/><circle cx="547.82" cy="683.93" r="6.15"/><circle cx="552.25" cy="740.21" r="6.15"/></g>
</g>
<rect x="362.1" y="924.29" width="267.85" height="273.67" fill="#E7E7E7"/>
<g clip-path="url(#c31)">
<line x1="362.1" y1="1172.87" x2="629.95" y2="1172.87" stroke="#FFFFFF" stroke-width="1.42"/>
<line x1="362.1" y1="1130.7" x2="629.95" y2="1130.7" stroke="#FFFFFF" stroke-width="1.42"/>
<line x1="362.1" y1="1088.53" x2="629.95" y2="1088.53" stroke="#FFFFFF" stroke-width="1.42"/>
<line x1="362.1" y1="1046.37" x2="629.95" y2="1046.37" stroke="#FFFFFF" stroke-width="1.42"/>
<line x1="362.1" y1="1004.2" x2="629.95" y2="1004.2" stroke="#FFFFFF" stroke-width="1.42"/>
<line x1="362.1" y1="962.03" x2="629.95" y2="962.03" stroke="#FFFFFF" stroke-width="1.42"/>
<line x1="362.1" y1="1193.95" x2="629.95" y2="1193.95" stroke="#FFFFFF" stroke-width="2.85"/>
<line x1="362.1" y1="1151.79" x2="629.95" y2="1151.79" stroke="#FFFFFF" stroke-width="2.85"/>
<line x1="362.1" y1="1109.62" x2="629.95" y2="1109.62" stroke="#FFFFFF" stroke-width="2.85"/>
<line x1="362.1" y1="1067.45" x2="629.95" y2="1067.45" stroke="#FFFFFF" stroke-width="2.85"/>
<line x1="362.1" y1="1025.28" x2="629.95" y2="1025.28" stroke="#FFFFFF" stroke-width="2.85"/>
<line x1="362.1" y1="983.11" x2="629.95" y2="983.11" stroke="#FFFFFF" stroke-width="2.85"/>
<line x1="362.1" y1="940.95" x2="629.95" y2="940.95" stroke="#FFFFFF" stroke-width="2.85"/>
<line x1="399.95" y1="924.29" x2="399.95" y2="1197.96" stroke="#FFFFFF" stroke-width="1.42"/>
<line x1="488.5" y1="924.29" x2="488.5" y2="1197.96" stroke="#FFFFFF" stroke-width="1.42"/>
<line x1="577.04" y1="924.29" x2="577.04" y2="1197.96" stroke="#FFFFFF" stroke-width="1.42"/>
<line x1="444.23" y1="924.29" x2="444.23" y2="1197.96" stroke="#FFFFFF" stroke-width="2.85"/>
<line x1="532.77" y1="924.29" x2="532.77" y2="1197.96" stroke="#FFFFFF" stroke-width="2.85"/>
<line x1="621.32" y1="924.29" x2="621.32" y2="1197.96" stroke="#FFFFFF" stroke-width="2.85"/>
<g fill="#19B02D"><circle cx="465.48" cy="1095.21" r="6.15"/></g><g fill="#F25F5C"><circle cx="386.67" cy="1109.62" r="6.15"/><circle cx="427.4" cy="1134.92" r="6.15"/><circle cx="442.45" cy="1130.7" r="6.15"/><circle cx="447.77" cy="1105.4" r="6.15"/><circle cx="460.16" cy="1109.62" r="6.15"/><circle cx="413.23" cy="1088.53" r="6.15"/><circle cx="403.91" cy="1109.62" r="6.15"/><circle cx="451.31" cy="1105.4" r="6.15"/></g><g fill="#19B02D"><circle cx="451.31" cy="1033.72" r="6.15"/></g><g fill="#F25F5C"><circle cx="441.57" cy="1088.53" r="6.15"/><circle cx="392.87" cy="1122.27" r="6.15"/><circle cx="436.26" cy="1075.88" r="6.15"/><circle cx="438.91" cy="1075.88" r="6.15"/><circle cx="431.83" cy="1130.7" r="6.15"/><circle cx="448.65" cy="1080.1" r="6.15"/><circle cx="415.89" cy="1147.57" r="6.15"/></g><g fill="#19B02D"><circle cx="458.39" cy="1105.4" r="6.15"/></g><g fill="#F25F5C"><circle cx="411.46" cy="1075.88" r="6.15"/><circle cx="409.69" cy="1105.4" r="6.15"/><circle cx="401.72" cy="1126.49" r="6.15"/><circle cx="421.2" cy="1151.79" r="6.15"/><circle cx="388.44" cy="1126.49" r="6.15"/><circle cx="438.03" cy="1112.2" r="6.15"/><circle cx="418.55" cy="1137.41" r="6.15"/><circle cx="452.2" cy="1109.62" r="6.15"/><circle cx="435.37" cy="1071.67" r="6.15"/><circle cx="453.08" cy="1126.49" r="6.15"/><circle cx="441.57" cy="1109.62" r="6.15"/></g><g fill="#19B02D"><circle cx="461.05" cy="1088.53" r="6.15"/></g><g fill="#F25F5C"><circle cx="400.84" cy="1096.97" r="6.15"/><circle cx="422.09" cy="1143.35" r="6.15"/><circle cx="449.54" cy="1105.4" r="6.15"/><circle cx="446.88" cy="1109.62" r="6.15"/></g><g fill="#19B02D"><circle cx="476.1" cy="1103.4" r="6.15"/></g><g fill="#F25F5C"><circle cx="422.09" cy="1071.67" r="6.15"/><circle cx="404.38" cy="1113.83" r="6.15"/><circle cx="448.65" cy="1126.49" r="6.15"/><circle cx="458.39" cy="1134.92" r="6.15"/><circle cx="410.58" cy="1096.97" r="6.15"/><circle cx="416.78" cy="1071.67" r="6.15"/><circle cx="413.23" cy="1113.83" r="6.15"/><circle cx="417.66" cy="1129.48" r="6.15"/><circle cx="374.27" cy="1118.05" r="6.15"/><circle cx="434.49" cy="1080.1" r="6.15"/><circle cx="430.06" cy="1054.8" r="6.15"/><circle cx="453.08" cy="1084.32" r="6.15"/><circle cx="424.75" cy="1096.97" r="6.15"/><circle cx="427.4" cy="1134.92" r="6.15"/><circle cx="443.34" cy="1105.4" r="6.15"/><circle cx="453.97" cy="1096.97" r="6.15"/><circle cx="450.42" cy="1101.18" r="6.15"/><circle cx="395.53" cy="1122.27" r="6.15"/><circle cx="440.68" cy="1105.4" r="6.15"/></g><g fill="#19B02D"><circle cx="462.82" cy="1071.67" r="6.15"/></g><g fill="#F25F5C"><circle cx="447.77" cy="1112.52" r="6.15"/><circle cx="424.75" cy="1177.09" r="6.15"/></g><g fill="#19B02D"><circle cx="477.87" cy="1084.32" r="6.15"/><circle cx="485.84" cy="1118.05" r="6.15"/><circle cx="453.08" cy="1054.8" r="6.15"/></g><g fill="#F25F5C"><circle cx="446.88" cy="1092.75" r="6.15"/><circle cx="406.15" cy="1059.02" r="6.15"/><circle cx="421.2" cy="1094.93" r="6.15"/><circle cx="437.14" cy="1134.92" r="6.15"/><circle cx="407.04" cy="1160.22" r="6.15"/><circle cx="410.58" cy="1120.85" r="6.15"/><circle cx="432.71" cy="1109.62" r="6.15"/><circle cx="469.9" cy="1113.83" r="6.15"/><circle cx="437.55" cy="1109.62" r="6.15"/><circle cx="428.29" cy="1126.49" r="6.15"/><circle cx="444.23" cy="1156" r="6.15"/></g><g fill="#19B02D"><circle cx="470.79" cy="1092.75" r="6.15"/></g><g fill="#F25F5C"><circle cx="426.52" cy="1092.75" r="6.15"/><circle cx="443.34" cy="1134.92" r="6.15"/><circle cx="467.25" cy="1105.4" r="6.15"/><circle cx="428.29" cy="1092.75" r="6.15"/><circle cx="452.2" cy="1146.21" r="6.15"/><circle cx="407.04" cy="1109.62" r="6.15"/><circle cx="423.86" cy="1128.96" r="6.15"/><circle cx="438.91" cy="1101.18" r="6.15"/><circle cx="422.97" cy="1101.18" r="6.15"/></g><g fill="#19B02D"><circle cx="467.25" cy="1075.88" r="6.15"/></g><g fill="#F25F5C"><circle cx="465.48" cy="1130.7" r="6.15"/><circle cx="408.81" cy="1113.83" r="6.15"/><circle cx="455.74" cy="1088.53" r="6.15"/></g><g fill="#19B02D"><circle cx="457.51" cy="1071.67" r="6.15"/></g><g fill="#F25F5C"><circle cx="425.63" cy="1122.27" r="6.15"/><circle cx="439.8" cy="1151.79" r="6.15"/><circle cx="422.97" cy="1109.62" r="6.15"/><circle cx="411.46" cy="1109.62" r="6.15"/><circle cx="405.27" cy="1118.05" r="6.15"/><circle cx="446" cy="1101.18" r="6.15"/><circle cx="461.93" cy="1122.27" r="6.15"/><circle cx="451.31" cy="1134.92" r="6.15"/><circle cx="419.43" cy="1101.18" r="6.15"/><circle cx="429.17" cy="1126.49" r="6.15"/><circle cx="415.01" cy="1092.75" r="6.15"/></g><g fill="#19B02D"><circle cx="446.88" cy="1101.18" r="6.15"/></g><g fill="#F25F5C"><circle cx="420.32" cy="1101.18" r="6.15"/><circle cx="414.12" cy="1067.45" r="6.15"/><circle cx="419.43" cy="1122.27" r="6.15"/><circle cx="436.26" cy="1118.05" r="6.15"/><circle cx="450.42" cy="1118.05" r="6.15"/></g><g fill="#19B02D"><circle cx="466.36" cy="1084.32" r="6.15"/></g><g fill="#F25F5C"><circle cx="449.54" cy="1126.49" r="6.15"/><circle cx="430.06" cy="1096.97" r="6.15"/><circle cx="429.17" cy="1130.7" r="6.15"/><circle cx="418.55" cy="1109.62" r="6.15"/><circle cx="412.35" cy="1109.62" r="6.15"/></g><g fill="#19B02D"><circle cx="449.54" cy="1059.02" r="6.15"/></g><g fill="#F25F5C"><circle cx="399.95" cy="1139.14" r="6.15"/><circle cx="408.81" cy="1126.49" r="6.15"/><circle cx="399.07" cy="1151.79" r="6.15"/><circle cx="430.94" cy="1154.46" r="6.15"/><circle cx="453.08" cy="1139.14" r="6.15"/></g><g fill="#19B02D"><circle cx="463.71" cy="1063.23" r="6.15"/></g><g fill="#F25F5C"><circle cx="446" cy="1168.65" r="6.15"/><circle cx="451.31" cy="1143.35" r="6.15"/><circle cx="445.11" cy="1155.29" r="6.15"/></g><g fill="#19B02D"><circle cx="473.45" cy="1084.32" r="6.15"/></g><g fill="#F25F5C"><circle cx="420.56" cy="1105.4" r="6.15"/><circle cx="405.27" cy="1126.49" r="6.15"/></g><g fill="#19B02D"><circle cx="469.02" cy="1080.1" r="6.15"/></g><g fill="#F25F5C"><circle cx="407.92" cy="1118.05" r="6.15"/><circle cx="440.68" cy="1101.18" r="6.15"/><circle cx="433.6" cy="1105.4" r="6.15"/><circle cx="447.77" cy="1134.92" r="6.15"/><circle cx="430.94" cy="1147.57" r="6.15"/><circle cx="407.92" cy="1151.79" r="6.15"/><circle cx="432.71" cy="1105.4" r="6.15"/></g><g fill="#19B02D"><circle cx="471.67" cy="1080.1" r="6.15"/></g><g fill="#F25F5C"><circle cx="472.56" cy="1122.27" r="6.15"/><circle cx="433.6" cy="1109.62" r="6.15"/><circle cx="426.52" cy="1137.92" r="6.15"/><circle cx="434.49" cy="1122.27" r="6.15"/><circle cx="416.78" cy="1130.7" r="6.15"/><circle cx="398.18" cy="1103.86" r="6.15"/><circle cx="415.89" cy="1113.83" r="6.15"/><circle cx="396.41" cy="1075.88" r="6.15"/><circle cx="445.11" cy="1088.53" r="6.15"/><circle cx="463.71" cy="1126.49" r="6.15"/><circle cx="425.63" cy="1185.52" r="6.15"/><circle cx="415.01" cy="1126.49" r="6.15"/><circle cx="454.85" cy="1130.7" r="6.15"/><circle cx="383.13" cy="1160.22" r="6.15"/><circle cx="413.23" cy="1147.57" r="6.15"/><circle cx="435.37" cy="1092.75" r="6.15"/><circle cx="402.61" cy="1151.79" r="6.15"/></g><g fill="#19B02D"><circle cx="480.53" cy="1088.53" r="6.15"/></g><g fill="#5087FF"><circle cx="523.03" cy="1004.2" r="6.15"/><circle cx="459.28" cy="1025.28" r="6.15"/><circle cx="500.89" cy="1012.63" r="6.15"/><circle cx="495.58" cy="978.9" r="6.15"/><circle cx="531.89" cy="941.46" r="6.15"/><circle cx="547.82" cy="970.46" r="6.15"/><circle cx="529.23" cy="936.73" r="6.15"/><circle cx="511.52" cy="1018.71" r="6.15"/><circle cx="523.92" cy="991.55" r="6.15"/><circle cx="530.12" cy="983.11" r="6.15"/><circle cx="486.73" cy="1016.85" r="6.15"/><circle cx="487.97" cy="983.11" r="6.15"/><circle cx="498.24" cy="983.11" r="6.15"/><circle cx="523.03" cy="1027.29" r="6.15"/><circle cx="562.88" cy="987.33" r="6.15"/><circle cx="492.93" cy="1008.42" r="6.15"/><circle cx="491.15" cy="1033.72" r="6.15"/><circle cx="523.92" cy="974.68" r="6.15"/><circle cx="492.04" cy="1004.2" r="6.15"/><circle cx="494.7" cy="1029.5" r="6.15"/><circle cx="506.21" cy="1008.42" r="6.15"/><circle cx="499.12" cy="987.33" r="6.15"/><circle cx="455.74" cy="1029.5" r="6.15"/><circle cx="514.18" cy="991.55" r="6.15"/><circle cx="496.47" cy="999.98" r="6.15"/><circle cx="466.36" cy="1033.72" r="6.15"/><circle cx="543.4" cy="984.53" r="6.15"/><circle cx="533.66" cy="974.68" r="6.15"/><circle cx="502.67" cy="970.46" r="6.15"/><circle cx="542.51" cy="983.11" r="6.15"/><circle cx="483.19" cy="1021.07" r="6.15"/><circle cx="515.06" cy="953.6" r="6.15"/><circle cx="513.29" cy="978.9" r="6.15"/><circle cx="539.86" cy="962.03" r="6.15"/><circle cx="489.38" cy="1033.72" r="6.15"/><circle cx="492.04" cy="995.76" r="6.15"/><circle cx="529.23" cy="949.38" r="6.15"/><circle cx="509.75" cy="1012.63" r="6.15"/><circle cx="471.67" cy="1029.5" r="6.15"/><circle cx="500.01" cy="1021.07" r="6.15"/><circle cx="527.46" cy="1004.2" r="6.15"/><circle cx="532.77" cy="959.87" r="6.15"/><circle cx="536.31" cy="966.25" r="6.15"/><circle cx="493.81" cy="1012.63" r="6.15"/><circle cx="488.5" cy="962.03" r="6.15"/><circle cx="504.44" cy="1016.85" r="6.15"/><circle cx="476.99" cy="1021.07" r="6.15"/><circle cx="570.85" cy="936.73" r="6.15"/><circle cx="525.69" cy="978.9" r="6.15"/><circle cx="540.74" cy="978.9" r="6.15"/><circle cx="519.49" cy="1016.85" r="6.15"/><circle cx="475.22" cy="1033.72" r="6.15"/><circle cx="469.9" cy="1004.2" r="6.15"/><circle cx="515.95" cy="993.56" r="6.15"/><circle cx="522.15" cy="992.9" r="6.15"/><circle cx="511.52" cy="1004.2" r="6.15"/><circle cx="478.76" cy="1004.2" r="6.15"/><circle cx="484.96" cy="1001.29" r="6.15"/><circle cx="519.49" cy="962.03" r="6.15"/><circle cx="474.33" cy="1012.63" r="6.15"/><circle cx="530.12" cy="999.98" r="6.15"/><circle cx="552.25" cy="967.25" r="6.15"/><circle cx="493.81" cy="1021.07" r="6.15"/><circle cx="492.04" cy="995.76" r="6.15"/><circle cx="535.43" cy="991.55" r="6.15"/><circle cx="490.27" cy="970.46" r="6.15"/><circle cx="533.66" cy="970.46" r="6.15"/><circle cx="468.13" cy="1033.72" r="6.15"/><circle cx="504.24" cy="1029.5" r="6.15"/><circle cx="516.83" cy="1001.75" r="6.15"/><circle cx="517.72" cy="976.28" r="6.15"/><circle cx="507.98" cy="1016.85" r="6.15"/><circle cx="502.67" cy="978.9" r="6.15"/><circle cx="532.77" cy="940.95" r="6.15"/><circle cx="510.63" cy="985.02" r="6.15"/><circle cx="497.35" cy="1025.28" r="6.15"/><circle cx="577.93" cy="940.95" r="6.15"/><circle cx="537.2" cy="975.46" r="6.15"/><circle cx="527.46" cy="958.52" r="6.15"/><circle cx="534.54" cy="983.11" r="6.15"/><circle cx="512.41" cy="999.98" r="6.15"/><circle cx="476.99" cy="1012.63" r="6.15"/><circle cx="617.77" cy="940.95" r="6.15"/><circle cx="535.43" cy="995.76" r="6.15"/><circle cx="526.57" cy="1042.15" r="6.15"/><circle cx="505.32" cy="1016.85" r="6.15"/><circle cx="558.45" cy="966.25" r="6.15"/><circle cx="503.55" cy="1004.2" r="6.15"/><circle cx="481.41" cy="1008.42" r="6.15"/><circle cx="500.89" cy="1004.2" r="6.15"/><circle cx="498.24" cy="995.76" r="6.15"/><circle cx="489.38" cy="1025.28" r="6.15"/><circle cx="520.38" cy="1025.28" r="6.15"/><circle cx="524.8" cy="978.9" r="6.15"/><circle cx="546.05" cy="940.95" r="6.15"/><circle cx="473.45" cy="1008.42" r="6.15"/><circle cx="508.86" cy="987.33" r="6.15"/><circle cx="538.08" cy="945.16" r="6.15"/><circle cx="518.6" cy="1054.8" r="6.15"/><circle cx="508.86" cy="987.33" r="6.15"/><circle cx="528.34" cy="945.16" r="6.15"/><circle cx="452.19" cy="1008.42" r="6.15"/><circle cx="501.78" cy="1008.42" r="6.15"/><circle cx="472.56" cy="1029.5" r="6.15"/><circle cx="506.21" cy="1004.2" r="6.15"/><circle cx="544.28" cy="936.73" r="6.15"/><circle cx="507.09" cy="1021.07" r="6.15"/><circle cx="521.26" cy="945.16" r="6.15"/><circle cx="489.38" cy="999.98" r="6.15"/><circle cx="585.01" cy="949.38" r="6.15"/><circle cx="526.57" cy="970.46" r="6.15"/><circle cx="494.7" cy="1009.9" r="6.15"/><circle cx="461.93" cy="1025.28" r="6.15"/><circle cx="491.15" cy="995.76" r="6.15"/><circle cx="480.53" cy="1029.5" r="6.15"/><circle cx="497.35" cy="1021.07" r="6.15"/><circle cx="495.58" cy="987.33" r="6.15"/><circle cx="531" cy="1012.63" r="6.15"/><circle cx="537.2" cy="936.73" r="6.15"/></g><g fill="#19B02D"><circle cx="546.05" cy="1054.8" r="6.15"/><circle cx="518.6" cy="1025.28" r="6.15"/><circle cx="535.43" cy="1096.97" r="6.15"/><circle cx="492.93" cy="1109.62" r="6.15"/><circle cx="500.01" cy="1012.63" r="6.15"/><circle cx="541.63" cy="1084.32" r="6.15"/><circle cx="539.86" cy="1054.8" r="6.15"/><circle cx="495.58" cy="1130.7" r="6.15"/><circle cx="584.13" cy="1037.93" r="6.15"/><circle cx="544.28" cy="1088.53" r="6.15"/><circle cx="510.63" cy="1067.45" r="6.15"/><circle cx="535.43" cy="1063.23" r="6.15"/><circle cx="499.12" cy="1080.1" r="6.15"/><circle cx="543.4" cy="1122.27" r="6.15"/><circle cx="491.15" cy="1101.18" r="6.15"/><circle cx="536.31" cy="1050.58" r="6.15"/><circle cx="505.32" cy="1101.18" r="6.15"/><circle cx="493.81" cy="1126.49" r="6.15"/><circle cx="498.24" cy="1160.22" r="6.15"/><circle cx="531" cy="1109.62" r="6.15"/><circle cx="554.02" cy="1059.02" r="6.15"/><circle cx="525.69" cy="1086.54" r="6.15"/><circle cx="515.06" cy="1059.02" r="6.15"/><circle cx="506.21" cy="1096.97" r="6.15"/><circle cx="563.76" cy="1046.37" r="6.15"/><circle cx="491.15" cy="1105.4" r="6.15"/><circle cx="501.78" cy="1105.4" r="6.15"/><circle cx="545.17" cy="1084.32" r="6.15"/><circle cx="538.97" cy="1071.67" r="6.15"/><circle cx="533.66" cy="1092.75" r="6.15"/><circle cx="569.96" cy="1063.23" r="6.15"/><circle cx="538.08" cy="1067.45" r="6.15"/><circle cx="561.11" cy="1075.88" r="6.15"/><circle cx="490.27" cy="1109.62" r="6.15"/><circle cx="508.86" cy="1080.1" r="6.15"/><circle cx="537.2" cy="1096.97" r="6.15"/><circle cx="522.15" cy="1021.07" r="6.15"/><circle cx="512.41" cy="1092.75" r="6.15"/><circle cx="545.17" cy="1084.32" r="6.15"/><circle cx="540.74" cy="1080.1" r="6.15"/><circle cx="496.47" cy="1101.18" r="6.15"/><circle cx="524.8" cy="1067.45" r="6.15"/><circle cx="540.74" cy="1092.75" r="6.15"/><circle cx="527.46" cy="1080.1" r="6.15"/><circle cx="549.6" cy="1063.23" r="6.15"/><circle cx="523.03" cy="1118.05" r="6.15"/><circle cx="489.38" cy="1075.88" r="6.15"/><circle cx="494.7" cy="1088.53" r="6.15"/><circle cx="528.34" cy="1063.23" r="6.15"/><circle cx="503.55" cy="1042.15" r="6.15"/><circle cx="557.56" cy="1046.37" r="6.15"/><circle cx="503.55" cy="1021.07" r="6.15"/><circle cx="532.77" cy="1109.62" r="6.15"/><circle cx="500.89" cy="1084.32" r="6.15"/><circle cx="531.89" cy="1080.1" r="6.15"/><circle cx="499.12" cy="1084.32" r="6.15"/><circle cx="487.92" cy="1088.53" r="6.15"/><circle cx="550.48" cy="1025.28" r="6.15"/><circle cx="497.35" cy="1092.75" r="6.15"/><circle cx="542.51" cy="1092.75" r="6.15"/><circle cx="548.71" cy="1080.1" r="6.15"/><circle cx="530.12" cy="1109.62" r="6.15"/><circle cx="603.61" cy="1147.57" r="6.15"/><circle cx="547.82" cy="1067.45" r="6.15"/><circle cx="552.25" cy="1075.88" r="6.15"/></g>
</g>
<rect x="644.13" y="924.29" width="267.85" height="273.67" fill="#E7E7E7"/>
<g clip-path="url(#c32)">
<line x1="644.13" y1="1172.87" x2="911.98" y2="1172.87" stroke="#FFFFFF" stroke-width="1.42"/>
<line x1="644.13" y1="1130.7" x2="911.98" y2="1130.7" stroke="#FFFFFF" stroke-width="1.42"/>
<line x1="644.13" y1="1088.53" x2="911.98" y2="1088.53" stroke="#FFFFFF" stroke-width="1.42"/>
<line x1="644.13" y1="1046.37" x2="911.98" y2="1046.37" stroke="#FFFFFF" stroke-width="1.42"/>
<line x1="644.13" y1="1004.2" x2="911.98" y2="1004.2" stroke="#FFFFFF" stroke-width="1.42"/>
<line x1="644.13" y1="962.03" x2="911.98" y2="962.03" stroke="#FFFFFF" stroke-width="1.42"/>
<line x1="644.13" y1="1193.95" x2="911.98" y2="1193.95" stroke="#FFFFFF" stroke-width="2.85"/>
<line x1="644.13" y1="1151.79" x2="911.98" y2="1151.79" stroke="#FFFFFF" stroke-width="2.85"/>
<line x1="644.13" y1="1109.62" x2="911.98" y2="1109.62" stroke="#FFFFFF" stroke-width="2.85"/>
<line x1="644.13" y1="1067.45" x2="911.98" y2="1067.45" stroke="#FFFFFF" stroke-width="2.85"/>
<line x1="644.13" y1="1025.28" x2="911.98" y2="1025.28" stroke="#FFFFFF" stroke-width="2.85"/>
<line x1="644.13" y1="983.11" x2="911.98" y2="983.11" stroke="#FFFFFF" stroke-width="2.85"/>
<line x1="644.13" y1="940.95" x2="911.98" y2="940.95" stroke="#FFFFFF" stroke-width="2.85"/>
<line x1="675.15" y1="924.29" x2="675.15" y2="1197.96" stroke="#FFFFFF" stroke-width="1.42"/>
<line x1="747.62" y1="924.29" x2="747.62" y2="1197.96" stroke="#FFFFFF" stroke-width="1.42"/>
<line x1="820.09" y1="924.29" x2="820.09" y2="1197.96" stroke="#FFFFFF" stroke-width="1.42"/>
<line x1="892.56" y1="924.29" x2="892.56" y2="1197.96" stroke="#FFFFFF" stroke-width="1.42"/>
<line x1="711.38" y1="924.29" x2="711.38" y2="1197.96" stroke="#FFFFFF" stroke-width="2.85"/>
<line x1="783.85" y1="924.29" x2="783.85" y2="1197.96" stroke="#FFFFFF" stroke-width="2.85"/>
<line x1="856.32" y1="924.29" x2="856.32" y2="1197.96" stroke="#FFFFFF" stroke-width="2.85"/>
<g fill="#19B02D"><circle cx="821.54" cy="1095.21" r="6.15"/></g><g fill="#F25F5C"><circle cx="827.33" cy="1109.62" r="6.15"/><circle cx="737.47" cy="1134.92" r="6.15"/><circle cx="772.26" cy="1130.7" r="6.15"/><circle cx="876.61" cy="1105.4" r="6.15"/><circle cx="778.05" cy="1109.62" r="6.15"/><circle cx="795.45" cy="1088.53" r="6.15"/><circle cx="824.44" cy="1109.62" r="6.15"/><circle cx="775.16" cy="1105.4" r="6.15"/></g><g fill="#19B02D"><circle cx="824.44" cy="1033.72" r="6.15"/></g><g fill="#F25F5C"><circle cx="815.74" cy="1088.53" r="6.15"/><circle cx="761.85" cy="1122.27" r="6.15"/><circle cx="873.72" cy="1075.88" r="6.15"/><circle cx="785.77" cy="1075.88" r="6.15"/><circle cx="769.36" cy="1130.7" r="6.15"/><circle cx="865.02" cy="1080.1" r="6.15"/><circle cx="757.76" cy="1147.57" r="6.15"/></g><g fill="#19B02D"><circle cx="847.63" cy="1105.4" r="6.15"/></g><g fill="#F25F5C"><circle cx="824.44" cy="1075.88" r="6.15"/><circle cx="795.45" cy="1105.4" r="6.15"/><circle cx="780.95" cy="1126.49" r="6.15"/><circle cx="792.55" cy="1151.79" r="6.15"/><circle cx="891.11" cy="1126.49" r="6.15"/><circle cx="792.55" cy="1112.2" r="6.15"/><circle cx="827.33" cy="1137.41" r="6.15"/><circle cx="821.54" cy="1109.62" r="6.15"/><circle cx="824.44" cy="1071.67" r="6.15"/><circle cx="804.14" cy="1126.49" r="6.15"/><circle cx="772.26" cy="1109.62" r="6.15"/></g><g fill="#19B02D"><circle cx="824.44" cy="1088.53" r="6.15"/></g><g fill="#F25F5C"><circle cx="838.93" cy="1096.97" r="6.15"/><circle cx="786.75" cy="1143.35" r="6.15"/><circle cx="801.25" cy="1105.4" r="6.15"/><circle cx="833.13" cy="1109.62" r="6.15"/></g><g fill="#19B02D"><circle cx="798.35" cy="1103.4" r="6.15"/></g><g fill="#F25F5C"><circle cx="812.84" cy="1071.67" r="6.15"/><circle cx="789.65" cy="1113.83" r="6.15"/><circle cx="807.04" cy="1126.49" r="6.15"/><circle cx="809.94" cy="1134.92" r="6.15"/><circle cx="818.64" cy="1096.97" r="6.15"/><circle cx="860.78" cy="1071.67" r="6.15"/><circle cx="818.64" cy="1113.83" r="6.15"/><circle cx="801.25" cy="1129.48" r="6.15"/><circle cx="725.88" cy="1118.05" r="6.15"/><circle cx="770.01" cy="1080.1" r="6.15"/><circle cx="786.75" cy="1054.8" r="6.15"/><circle cx="836.03" cy="1084.32" r="6.15"/><circle cx="795.45" cy="1096.97" r="6.15"/><circle cx="775.16" cy="1134.92" r="6.15"/><circle cx="856.32" cy="1105.4" r="6.15"/><circle cx="815.74" cy="1096.97" r="6.15"/><circle cx="809.94" cy="1101.18" r="6.15"/><circle cx="801.25" cy="1122.27" r="6.15"/><circle cx="766.46" cy="1105.4" r="6.15"/></g><g fill="#19B02D"><circle cx="809.94" cy="1071.67" r="6.15"/></g><g fill="#F25F5C"><circle cx="802.89" cy="1112.52" r="6.15"/><circle cx="807.04" cy="1177.09" r="6.15"/></g><g fill="#19B02D"><circle cx="841.83" cy="1084.32" r="6.15"/><circle cx="818.64" cy="1118.05" r="6.15"/><circle cx="856.32" cy="1054.8" r="6.15"/></g><g fill="#F25F5C"><circle cx="809.94" cy="1092.75" r="6.15"/><circle cx="798.35" cy="1059.02" r="6.15"/><circle cx="775.16" cy="1094.93" r="6.15"/><circle cx="798.35" cy="1134.92" r="6.15"/><circle cx="753.35" cy="1160.22" r="6.15"/><circle cx="812.84" cy="1120.85" r="6.15"/><circle cx="821.54" cy="1109.62" r="6.15"/><circle cx="818.64" cy="1113.83" r="6.15"/><circle cx="830.23" cy="1109.62" r="6.15"/><circle cx="792.55" cy="1126.49" r="6.15"/><circle cx="763.56" cy="1156" r="6.15"/></g><g fill="#19B02D"><circle cx="841.83" cy="1092.75" r="6.15"/></g><g fill="#F25F5C"><circle cx="824.44" cy="1092.75" r="6.15"/><circle cx="751.97" cy="1134.92" r="6.15"/><circle cx="827.33" cy="1105.4" r="6.15"/><circle cx="859.22" cy="1092.75" r="6.15"/><circle cx="801.25" cy="1146.21" r="6.15"/><circle cx="763.56" cy="1109.62" r="6.15"/><circle cx="821.54" cy="1128.96" r="6.15"/><circle cx="766.46" cy="1101.18" r="6.15"/><circle cx="760.66" cy="1101.18" r="6.15"/></g><g fill="#19B02D"><circle cx="770.02" cy="1075.88" r="6.15"/></g><g fill="#F25F5C"><circle cx="870.82" cy="1130.7" r="6.15"/><circle cx="798.35" cy="1113.83" r="6.15"/><circle cx="804.14" cy="1088.53" r="6.15"/></g><g fill="#19B02D"><circle cx="827.33" cy="1071.67" r="6.15"/></g><g fill="#F25F5C"><circle cx="772.26" cy="1122.27" r="6.15"/><circle cx="841.83" cy="1151.79" r="6.15"/><circle cx="836.03" cy="1109.62" r="6.15"/><circle cx="770.76" cy="1109.62" r="6.15"/><circle cx="763.56" cy="1118.05" r="6.15"/><circle cx="894.01" cy="1101.18" r="6.15"/><circle cx="815.74" cy="1122.27" r="6.15"/><circle cx="798.35" cy="1134.92" r="6.15"/><circle cx="740.37" cy="1101.18" r="6.15"/><circle cx="821.54" cy="1126.49" r="6.15"/><circle cx="847.63" cy="1092.75" r="6.15"/></g><g fill="#19B02D"><circle cx="891.11" cy="1101.18" r="6.15"/></g><g fill="#F25F5C"><circle cx="818.64" cy="1101.18" r="6.15"/><circle cx="794.65" cy="1067.45" r="6.15"/><circle cx="818.64" cy="1122.27" r="6.15"/><circle cx="769.36" cy="1118.05" r="6.15"/><circle cx="812.84" cy="1118.05" r="6.15"/></g><g fill="#19B02D"><circle cx="836.03" cy="1084.32" r="6.15"/></g><g fill="#F25F5C"><circle cx="815.74" cy="1126.49" r="6.15"/><circle cx="844.73" cy="1096.97" r="6.15"/><circle cx="812.84" cy="1130.7" r="6.15"/><circle cx="798.35" cy="1109.62" r="6.15"/><circle cx="775.16" cy="1109.62" r="6.15"/></g><g fill="#19B02D"><circle cx="841.83" cy="1059.02" r="6.15"/></g><g fill="#F25F5C"><circle cx="789.65" cy="1139.14" r="6.15"/><circle cx="801.25" cy="1126.49" r="6.15"/><circle cx="778.05" cy="1151.79" r="6.15"/><circle cx="792.55" cy="1154.46" r="6.15"/><circle cx="754.86" cy="1139.14" r="6.15"/></g><g fill="#19B02D"><circle cx="821.54" cy="1063.23" r="6.15"/></g><g fill="#F25F5C"><circle cx="769.36" cy="1168.65" r="6.15"/><circle cx="754.86" cy="1143.35" r="6.15"/><circle cx="812.84" cy="1155.29" r="6.15"/></g><g fill="#19B02D"><circle cx="772.26" cy="1084.32" r="6.15"/></g><g fill="#F25F5C"><circle cx="772.26" cy="1105.4" r="6.15"/><circle cx="780.95" cy="1126.49" r="6.15"/></g><g fill="#19B02D"><circle cx="780.95" cy="1080.1" r="6.15"/></g><g fill="#F25F5C"><circle cx="789.65" cy="1118.05" r="6.15"/><circle cx="824.44" cy="1101.18" r="6.15"/><circle cx="815.74" cy="1105.4" r="6.15"/><circle cx="763.56" cy="1134.92" r="6.15"/><circle cx="856.32" cy="1147.57" r="6.15"/><circle cx="818.64" cy="1151.79" r="6.15"/><circle cx="827.33" cy="1105.4" r="6.15"/></g><g fill="#19B02D"><circle cx="763.56" cy="1080.1" r="6.15"/></g><g fill="#F25F5C"><circle cx="757.76" cy="1122.27" r="6.15"/><circle cx="833.13" cy="1109.62" r="6.15"/><circle cx="828.64" cy="1137.92" r="6.15"/><circle cx="795.45" cy="1122.27" r="6.15"/><circle cx="740.37" cy="1130.7" r="6.15"/><circle cx="760.66" cy="1103.86" r="6.15"/><circle cx="772.26" cy="1113.83" r="6.15"/><circle cx="888.21" cy="1075.88" r="6.15"/><circle cx="775.16" cy="1088.53" r="6.15"/><circle cx="783.85" cy="1126.49" r="6.15"/><circle cx="815.74" cy="1185.52" r="6.15"/><circle cx="830.23" cy="1126.49" r="6.15"/><circle cx="838.93" cy="1130.7" r="6.15"/><circle cx="743.27" cy="1160.22" r="6.15"/><circle cx="757.76" cy="1147.57" r="6.15"/><circle cx="766.46" cy="1092.75" r="6.15"/><circle cx="778.05" cy="1151.79" r="6.15"/></g><g fill="#19B02D"><circle cx="801.25" cy="1088.53" r="6.15"/></g><g fill="#5087FF"><circle cx="685.29" cy="1004.2" r="6.15"/><circle cx="702.69" cy="1025.28" r="6.15"/><circle cx="711.38" cy="1012.63" r="6.15"/><circle cx="679.5" cy="978.9" r="6.15"/><circle cx="772.26" cy="941.46" r="6.15"/><circle cx="722.98" cy="970.46" r="6.15"/><circle cx="714.28" cy="936.73" r="6.15"/><circle cx="734.57" cy="1018.71" r="6.15"/><circle cx="714.28" cy="991.55" r="6.15"/><circle cx="749.07" cy="983.11" r="6.15"/><circle cx="682.39" cy="1016.85" r="6.15"/><circle cx="743.27" cy="983.11" r="6.15"/><circle cx="718.89" cy="983.11" r="6.15"/><circle cx="720.08" cy="1027.29" r="6.15"/><circle cx="734.57" cy="987.33" r="6.15"/><circle cx="696.89" cy="1008.42" r="6.15"/><circle cx="720.08" cy="1033.72" r="6.15"/><circle cx="731.67" cy="974.68" r="6.15"/><circle cx="691.09" cy="1004.2" r="6.15"/><circle cx="662.1" cy="1029.5" r="6.15"/><circle cx="722.98" cy="1008.42" r="6.15"/><circle cx="705.58" cy="987.33" r="6.15"/><circle cx="662.1" cy="1029.5" r="6.15"/><circle cx="725.88" cy="991.55" r="6.15"/><circle cx="691.09" cy="999.98" r="6.15"/><circle cx="659.2" cy="1033.72" r="6.15"/><circle cx="670.8" cy="984.53" r="6.15"/><circle cx="734.57" cy="974.68" r="6.15"/><circle cx="737.47" cy="970.46" r="6.15"/><circle cx="749.07" cy="983.11" r="6.15"/><circle cx="678" cy="1021.07" r="6.15"/><circle cx="714.28" cy="953.6" r="6.15"/><circle cx="740.37" cy="978.9" r="6.15"/><circle cx="760.66" cy="962.03" r="6.15"/><circle cx="673.7" cy="1033.72" r="6.15"/><circle cx="717.18" cy="995.76" r="6.15"/><circle cx="746.17" cy="949.38" r="6.15"/><circle cx="711.38" cy="1012.63" r="6.15"/><circle cx="714.28" cy="1029.5" r="6.15"/><circle cx="711.38" cy="1021.07" r="6.15"/><circle cx="699.79" cy="1004.2" r="6.15"/><circle cx="775.16" cy="959.87" r="6.15"/><circle cx="728.78" cy="966.25" r="6.15"/><circle cx="740.37" cy="1012.63" r="6.15"/><circle cx="665" cy="962.03" r="6.15"/><circle cx="693.99" cy="1016.85" r="6.15"/><circle cx="691.09" cy="1021.07" r="6.15"/><circle cx="731.67" cy="936.73" r="6.15"/><circle cx="717.18" cy="978.9" r="6.15"/><circle cx="731.67" cy="978.9" r="6.15"/><circle cx="696.89" cy="1016.85" r="6.15"/><circle cx="679.5" cy="1033.72" r="6.15"/><circle cx="656.3" cy="1004.2" r="6.15"/><circle cx="699.79" cy="993.56" r="6.15"/><circle cx="699.79" cy="992.9" r="6.15"/><circle cx="711.38" cy="1004.2" r="6.15"/><circle cx="717.18" cy="1004.2" r="6.15"/><circle cx="696.89" cy="1001.29" r="6.15"/><circle cx="727.35" cy="962.03" r="6.15"/><circle cx="670.8" cy="1012.63" r="6.15"/><circle cx="708.48" cy="999.98" r="6.15"/><circle cx="763.56" cy="967.25" r="6.15"/><circle cx="708.48" cy="1021.07" r="6.15"/><circle cx="694.37" cy="995.76" r="6.15"/><circle cx="728.78" cy="991.55" r="6.15"/><circle cx="751.97" cy="970.46" r="6.15"/><circle cx="734.57" cy="970.46" r="6.15"/><circle cx="673.7" cy="1033.72" r="6.15"/><circle cx="688.19" cy="1029.5" r="6.15"/><circle cx="686.1" cy="1001.75" r="6.15"/><circle cx="714.28" cy="976.28" r="6.15"/><circle cx="691.09" cy="1016.85" r="6.15"/><circle cx="702.3" cy="978.9" r="6.15"/><circle cx="743.27" cy="940.95" r="6.15"/><circle cx="728.78" cy="985.02" r="6.15"/><circle cx="682.39" cy="1025.28" r="6.15"/><circle cx="740.37" cy="940.95" r="6.15"/><circle cx="743.27" cy="975.46" r="6.15"/><circle cx="751.97" cy="958.52" r="6.15"/><circle cx="717.18" cy="983.11" r="6.15"/><circle cx="725.88" cy="999.98" r="6.15"/><circle cx="699.79" cy="1012.63" r="6.15"/><circle cx="769.36" cy="940.95" r="6.15"/><circle cx="685.29" cy="995.76" r="6.15"/><circle cx="676.6" cy="1042.15" r="6.15"/><circle cx="717.18" cy="1016.85" r="6.15"/><circle cx="775.16" cy="966.25" r="6.15"/><circle cx="676.6" cy="1004.2" r="6.15"/><circle cx="688.19" cy="1008.42" r="6.15"/><circle cx="701.31" cy="1004.2" r="6.15"/><circle cx="731.67" cy="995.76" r="6.15"/><circle cx="688.19" cy="1025.28" r="6.15"/><circle cx="676.6" cy="1025.28" r="6.15"/><circle cx="737.47" cy="978.9" r="6.15"/><circle cx="740.37" cy="940.95" r="6.15"/><circle cx="694.86" cy="1008.42" r="6.15"/><circle cx="714.28" cy="987.33" r="6.15"/><circle cx="743.27" cy="945.16" r="6.15"/><circle cx="693.99" cy="1054.8" r="6.15"/><circle cx="728.78" cy="987.33" r="6.15"/><circle cx="746.17" cy="945.16" r="6.15"/><circle cx="673.7" cy="1008.42" r="6.15"/><circle cx="705.58" cy="1008.42" r="6.15"/><circle cx="691.09" cy="1029.5" r="6.15"/><circle cx="688.19" cy="1004.2" r="6.15"/><circle cx="737.47" cy="936.73" r="6.15"/><circle cx="679.5" cy="1021.07" r="6.15"/><circle cx="763.56" cy="945.16" r="6.15"/><circle cx="682.39" cy="999.98" r="6.15"/><circle cx="769.36" cy="949.38" r="6.15"/><circle cx="717.18" cy="970.46" r="6.15"/><circle cx="696.89" cy="1009.9" r="6.15"/><circle cx="667.9" cy="1025.28" r="6.15"/><circle cx="688.19" cy="995.76" r="6.15"/><circle cx="669.2" cy="1029.5" r="6.15"/><circle cx="670.8" cy="1021.07" r="6.15"/><circle cx="710.51" cy="987.33" r="6.15"/><circle cx="696.89" cy="1012.63" r="6.15"/><circle cx="746.17" cy="936.73" r="6.15"/></g><g fill="#19B02D"><circle cx="794.54" cy="1054.8" r="6.15"/><circle cx="818.64" cy="1025.28" r="6.15"/><circle cx="838.93" cy="1096.97" r="6.15"/><circle cx="867.92" cy="1109.62" r="6.15"/><circle cx="841.83" cy="1012.63" r="6.15"/><circle cx="812.84" cy="1084.32" r="6.15"/><circle cx="812.84" cy="1054.8" r="6.15"/><circle cx="763.56" cy="1130.7" r="6.15"/><circle cx="850.53" cy="1037.93" r="6.15"/><circle cx="760.66" cy="1088.53" r="6.15"/><circle cx="815.74" cy="1067.45" r="6.15"/><circle cx="801.25" cy="1063.23" r="6.15"/><circle cx="838.93" cy="1080.1" r="6.15"/><circle cx="844.73" cy="1122.27" r="6.15"/><circle cx="746.17" cy="1101.18" r="6.15"/><circle cx="830.23" cy="1050.58" r="6.15"/><circle cx="757.76" cy="1101.18" r="6.15"/><circle cx="833.13" cy="1126.49" r="6.15"/><circle cx="804.14" cy="1160.22" r="6.15"/><circle cx="775.16" cy="1109.62" r="6.15"/><circle cx="824.44" cy="1059.02" r="6.15"/><circle cx="815.74" cy="1086.54" r="6.15"/><circle cx="815.74" cy="1059.02" r="6.15"/><circle cx="821.54" cy="1096.97" r="6.15"/><circle cx="853.42" cy="1046.37" r="6.15"/><circle cx="824.44" cy="1105.4" r="6.15"/><circle cx="786.75" cy="1105.4" r="6.15"/><circle cx="838.93" cy="1084.32" r="6.15"/><circle cx="789.65" cy="1071.67" r="6.15"/><circle cx="838.93" cy="1092.75" r="6.15"/><circle cx="879.51" cy="1063.23" r="6.15"/><circle cx="783.85" cy="1067.45" r="6.15"/><circle cx="844.73" cy="1075.88" r="6.15"/><circle cx="818.64" cy="1109.62" r="6.15"/><circle cx="807.04" cy="1080.1" r="6.15"/><circle cx="754.86" cy="1096.97" r="6.15"/><circle cx="891.11" cy="1021.07" r="6.15"/><circle cx="809.94" cy="1092.75" r="6.15"/><circle cx="850.53" cy="1084.32" r="6.15"/><circle cx="801.25" cy="1080.1" r="6.15"/><circle cx="769.36" cy="1101.18" r="6.15"/><circle cx="807.04" cy="1067.45" r="6.15"/><circle cx="882.41" cy="1092.75" r="6.15"/><circle cx="798.35" cy="1080.1" r="6.15"/><circle cx="821.54" cy="1063.23" r="6.15"/><circle cx="798.35" cy="1118.05" r="6.15"/><circle cx="812.84" cy="1075.88" r="6.15"/><circle cx="827.33" cy="1088.53" r="6.15"/><circle cx="861.33" cy="1063.23" r="6.15"/><circle cx="847.63" cy="1042.15" r="6.15"/><circle cx="856.32" cy="1046.37" r="6.15"/><circle cx="833.13" cy="1021.07" r="6.15"/><circle cx="778.05" cy="1109.62" r="6.15"/><circle cx="804.14" cy="1084.32" r="6.15"/><circle cx="850.53" cy="1080.1" r="6.15"/><circle cx="795.45" cy="1084.32" r="6.15"/><circle cx="789.65" cy="1088.53" r="6.15"/><circle cx="876.61" cy="1025.28" r="6.15"/><circle cx="899.8" cy="1092.75" r="6.15"/><circle cx="827.33" cy="1092.75" r="6.15"/><circle cx="845.58" cy="1080.1" r="6.15"/><circle cx="795.45" cy="1109.62" r="6.15"/><circle cx="792.55" cy="1147.57" r="6.15"/><circle cx="865.02" cy="1067.45" r="6.15"/><circle cx="809.94" cy="1075.88" r="6.15"/></g>
</g>
<rect x="362.1" y="1212.63" width="267.85" height="273.67" fill="#E7E7E7"/>
<g clip-path="url(#c41)">
<line x1="362.1" y1="1418.57" x2="629.95" y2="1418.57" stroke="#FFFFFF" stroke-width="1.42"/>
<line x1="362.1" y1="1349.47" x2="629.95" y2="1349.47" stroke="#FFFFFF" stroke-width="1.42"/>
<line x1="362.1" y1="1280.36" x2="629.95" y2="1280.36" stroke="#FFFFFF" stroke-width="1.42"/>
<line x1="362.1" y1="1453.13" x2="629.95" y2="1453.13" stroke="#FFFFFF" stroke-width="2.85"/>
<line x1="362.1" y1="1384.02" x2="629.95" y2="1384.02" stroke="#FFFFFF" stroke-width="2.85"/>
<line x1="362.1" y1="1314.91" x2="629.95" y2="1314.91" stroke="#FFFFFF" stroke-width="2.85"/>
<line x1="362.1" y1="1245.8" x2="629.95" y2="1245.8" stroke="#FFFFFF" stroke-width="2.85"/>
<line x1="399.95" y1="1212.63" x2="399.95" y2="1486.3" stroke="#FFFFFF" stroke-width="1.42"/>
<line x1="488.5" y1="1212.63" x2="488.5" y2="1486.3" stroke="#FFFFFF" stroke-width="1.42"/>
<line x1="577.04" y1="1212.63" x2="577.04" y2="1486.3" stroke="#FFFFFF" stroke-width="1.42"/>
<line x1="444.23" y1="1212.63" x2="444.23" y2="1486.3" stroke="#FFFFFF" stroke-width="2.85"/>
<line x1="532.77" y1="1212.63" x2="532.77" y2="1486.3" stroke="#FFFFFF" stroke-width="2.85"/>
<line x1="621.32" y1="1212.63" x2="621.32" y2="1486.3" stroke="#FFFFFF" stroke-width="2.85"/>
<g fill="#19B02D"><circle cx="465.48" cy="1377.11" r="6.15"/></g><g fill="#F25F5C"><circle cx="386.67" cy="1411.66" r="6.15"/><circle cx="427.4" cy="1420.3" r="6.15"/><circle cx="442.45" cy="1453.13" r="6.15"/><circle cx="447.77" cy="1337.37" r="6.15"/><circle cx="460.16" cy="1403.02" r="6.15"/><circle cx="413.23" cy="1413.39" r="6.15"/><circle cx="403.91" cy="1390.93" r="6.15"/><circle cx="451.31" cy="1420.3" r="6.15"/></g><g fill="#19B02D"><circle cx="451.31" cy="1363.29" r="6.15"/></g><g fill="#F25F5C"><circle cx="441.57" cy="1432.4" r="6.15"/><circle cx="392.87" cy="1432.4" r="6.15"/><circle cx="436.26" cy="1333.92" r="6.15"/><circle cx="438.91" cy="1434.12" r="6.15"/><circle cx="431.83" cy="1408.21" r="6.15"/><circle cx="448.65" cy="1382.29" r="6.15"/><circle cx="415.89" cy="1437.58" r="6.15"/></g><g fill="#19B02D"><circle cx="458.39" cy="1351.19" r="6.15"/></g><g fill="#F25F5C"><circle cx="411.46" cy="1428.94" r="6.15"/><circle cx="409.69" cy="1446.22" r="6.15"/><circle cx="401.72" cy="1441.03" r="6.15"/><circle cx="421.2" cy="1399.57" r="6.15"/><circle cx="388.44" cy="1422.03" r="6.15"/><circle cx="438.03" cy="1434.12" r="6.15"/><circle cx="418.55" cy="1401.3" r="6.15"/><circle cx="452.2" cy="1392.66" r="6.15"/><circle cx="435.37" cy="1403.02" r="6.15"/><circle cx="453.08" cy="1397.84" r="6.15"/><circle cx="441.57" cy="1409.94" r="6.15"/></g><g fill="#19B02D"><circle cx="461.05" cy="1359.83" r="6.15"/></g><g fill="#F25F5C"><circle cx="400.84" cy="1370.2" r="6.15"/><circle cx="422.09" cy="1404.75" r="6.15"/><circle cx="449.54" cy="1385.75" r="6.15"/><circle cx="446.88" cy="1434.12" r="6.15"/></g><g fill="#19B02D"><circle cx="476.1" cy="1403.02" r="6.15"/></g><g fill="#F25F5C"><circle cx="422.09" cy="1351.19" r="6.15"/><circle cx="404.38" cy="1451.4" r="6.15"/><circle cx="448.65" cy="1389.2" r="6.15"/><circle cx="458.39" cy="1392.66" r="6.15"/><circle cx="410.58" cy="1387.47" r="6.15"/><circle cx="416.78" cy="1344.28" r="6.15"/><circle cx="413.23" cy="1430.67" r="6.15"/><circle cx="417.66" cy="1456.58" r="6.15"/><circle cx="374.27" cy="1449.67" r="6.15"/><circle cx="434.49" cy="1394.39" r="6.15"/><circle cx="430.06" cy="1422.03" r="6.15"/><circle cx="453.08" cy="1396.11" r="6.15"/><circle cx="424.75" cy="1408.21" r="6.15"/><circle cx="427.4" cy="1406.48" r="6.15"/><circle cx="443.34" cy="1384.02" r="6.15"/><circle cx="453.97" cy="1371.93" r="6.15"/><circle cx="450.42" cy="1408.21" r="6.15"/><circle cx="395.53" cy="1460.04" r="6.15"/><circle cx="440.68" cy="1377.11" r="6.15"/></g><g fill="#19B02D"><circle cx="462.82" cy="1390.93" r="6.15"/></g><g fill="#F25F5C"><circle cx="447.77" cy="1439.31" r="6.15"/><circle cx="424.75" cy="1425.48" r="6.15"/></g><g fill="#19B02D"><circle cx="477.87" cy="1359.83" r="6.15"/><circle cx="485.84" cy="1396.11" r="6.15"/><circle cx="453.08" cy="1333.92" r="6.15"/></g><g fill="#F25F5C"><circle cx="446.88" cy="1392.1" r="6.15"/><circle cx="406.15" cy="1415.12" r="6.15"/><circle cx="421.2" cy="1443.66" r="6.15"/><circle cx="437.14" cy="1437.58" r="6.15"/><circle cx="407.04" cy="1451.4" r="6.15"/><circle cx="410.58" cy="1387.47" r="6.15"/><circle cx="432.71" cy="1435.85" r="6.15"/><circle cx="469.9" cy="1394.39" r="6.15"/><circle cx="437.55" cy="1423.76" r="6.15"/><circle cx="428.29" cy="1444.49" r="6.15"/><circle cx="444.23" cy="1447.94" r="6.15"/></g><g fill="#19B02D"><circle cx="470.79" cy="1390.93" r="6.15"/></g><g fill="#F25F5C"><circle cx="426.52" cy="1435.85" r="6.15"/><circle cx="443.34" cy="1454.86" r="6.15"/><circle cx="467.25" cy="1428.94" r="6.15"/><circle cx="428.29" cy="1396.11" r="6.15"/><circle cx="452.2" cy="1404.75" r="6.15"/><circle cx="407.04" cy="1403.02" r="6.15"/><circle cx="423.86" cy="1439.31" r="6.15"/><circle cx="438.91" cy="1430.67" r="6.15"/><circle cx="422.97" cy="1415.12" r="6.15"/></g><g fill="#19B02D"><circle cx="467.25" cy="1365.98" r="6.15"/></g><g fill="#F25F5C"><circle cx="465.48" cy="1390.93" r="6.15"/><circle cx="408.81" cy="1435.85" r="6.15"/><circle cx="455.74" cy="1413.39" r="6.15"/></g><g fill="#19B02D"><circle cx="457.51" cy="1356.38" r="6.15"/></g><g fill="#F25F5C"><circle cx="425.63" cy="1426.36" r="6.15"/><circle cx="439.8" cy="1418.57" r="6.15"/><circle cx="422.97" cy="1365.01" r="6.15"/><circle cx="411.46" cy="1441.03" r="6.15"/><circle cx="405.27" cy="1404.75" r="6.15"/><circle cx="446" cy="1352.92" r="6.15"/><circle cx="461.93" cy="1373.65" r="6.15"/><circle cx="451.31" cy="1363.29" r="6.15"/><circle cx="419.43" cy="1423.76" r="6.15"/><circle cx="429.17" cy="1400.52" r="6.15"/><circle cx="415.01" cy="1418.57" r="6.15"/></g><g fill="#19B02D"><circle cx="446.88" cy="1352.92" r="6.15"/></g><g fill="#F25F5C"><circle cx="420.32" cy="1418.57" r="6.15"/><circle cx="414.12" cy="1385.75" r="6.15"/><circle cx="419.43" cy="1422.03" r="6.15"/><circle cx="436.26" cy="1428.94" r="6.15"/><circle cx="450.42" cy="1368.47" r="6.15"/></g><g fill="#19B02D"><circle cx="466.36" cy="1409.21" r="6.15"/></g><g fill="#F25F5C"><circle cx="449.54" cy="1401.3" r="6.15"/><circle cx="430.06" cy="1359.83" r="6.15"/><circle cx="429.17" cy="1389.2" r="6.15"/><circle cx="418.55" cy="1387.47" r="6.15"/><circle cx="412.35" cy="1409.23" r="6.15"/></g><g fill="#19B02D"><circle cx="449.54" cy="1374.58" r="6.15"/></g><g fill="#F25F5C"><circle cx="399.95" cy="1439.31" r="6.15"/><circle cx="408.81" cy="1423.76" r="6.15"/><circle cx="399.07" cy="1432.4" r="6.15"/><circle cx="430.94" cy="1425.48" r="6.15"/><circle cx="453.08" cy="1399.57" r="6.15"/></g><g fill="#19B02D"><circle cx="463.71" cy="1420.3" r="6.15"/></g><g fill="#F25F5C"><circle cx="446" cy="1422.03" r="6.15"/><circle cx="451.31" cy="1423.76" r="6.15"/><circle cx="445.11" cy="1368.47" r="6.15"/></g><g fill="#19B02D"><circle cx="473.45" cy="1392.66" r="6.15"/></g><g fill="#F25F5C"><circle cx="420.56" cy="1406.48" r="6.15"/><circle cx="405.27" cy="1409.94" r="6.15"/></g><g fill="#19B02D"><circle cx="469.02" cy="1380.56" r="6.15"/></g><g fill="#F25F5C"><circle cx="407.92" cy="1454.86" r="6.15"/><circle cx="440.68" cy="1389.2" r="6.15"/><circle cx="433.6" cy="1390.93" r="6.15"/><circle cx="447.77" cy="1413.39" r="6.15"/><circle cx="430.94" cy="1384.02" r="6.15"/><circle cx="407.92" cy="1411.66" r="6.15"/><circle cx="432.71" cy="1425.48" r="6.15"/></g><g fill="#19B02D"><circle cx="471.67" cy="1377.11" r="6.15"/></g><g fill="#F25F5C"><circle cx="472.56" cy="1460.04" r="6.15"/><circle cx="433.6" cy="1385.75" r="6.15"/><circle cx="426.52" cy="1427.21" r="6.15"/><circle cx="434.49" cy="1416.85" r="6.15"/><circle cx="416.78" cy="1442.76" r="6.15"/><circle cx="398.18" cy="1466.95" r="6.15"/><circle cx="415.89" cy="1415.12" r="6.15"/><circle cx="396.41" cy="1356.38" r="6.15"/><circle cx="445.11" cy="1416.85" r="6.15"/><circle cx="463.71" cy="1411.66" r="6.15"/><circle cx="425.63" cy="1442.76" r="6.15"/><circle cx="415.01" cy="1397.84" r="6.15"/><circle cx="454.85" cy="1420.3" r="6.15"/><circle cx="383.13" cy="1460.04" r="6.15"/><circle cx="413.23" cy="1463.49" r="6.15"/><circle cx="435.37" cy="1427.21" r="6.15"/><circle cx="402.61" cy="1416.85" r="6.15"/></g><g fill="#19B02D"><circle cx="480.53" cy="1403.02" r="6.15"/></g><g fill="#5087FF"><circle cx="523.03" cy="1316.64" r="6.15"/><circle cx="459.28" cy="1335.64" r="6.15"/><circle cx="500.89" cy="1327" r="6.15"/><circle cx="495.58" cy="1292.45" r="6.15"/><circle cx="531.89" cy="1252.71" r="6.15"/><circle cx="547.82" cy="1272.52" r="6.15"/><circle cx="529.23" cy="1259.62" r="6.15"/><circle cx="511.52" cy="1276.9" r="6.15"/><circle cx="523.92" cy="1323.55" r="6.15"/><circle cx="530.12" cy="1266.53" r="6.15"/><circle cx="486.73" cy="1325.28" r="6.15"/><circle cx="487.97" cy="1275.17" r="6.15"/><circle cx="498.24" cy="1301.09" r="6.15"/><circle cx="523.03" cy="1342.55" r="6.15"/><circle cx="562.88" cy="1280.36" r="6.15"/><circle cx="492.93" cy="1320.09" r="6.15"/><circle cx="491.15" cy="1332.94" r="6.15"/><circle cx="523.92" cy="1304.54" r="6.15"/><circle cx="492.04" cy="1318.37" r="6.15"/><circle cx="494.7" cy="1349.47" r="6.15"/><circle cx="506.21" cy="1333.92" r="6.15"/><circle cx="499.12" cy="1311.46" r="6.15"/><circle cx="455.74" cy="1368.47" r="6.15"/><circle cx="514.18" cy="1313.18" r="6.15"/><circle cx="496.47" cy="1285.54" r="6.15"/><circle cx="466.36" cy="1359.83" r="6.15"/><circle cx="543.4" cy="1327" r="6.15"/><circle cx="533.66" cy="1292.45" r="6.15"/><circle cx="502.67" cy="1294.18" r="6.15"/><circle cx="542.51" cy="1245.8" r="6.15"/><circle cx="483.19" cy="1333.92" r="6.15"/><circle cx="515.06" cy="1273.45" r="6.15"/><circle cx="513.29" cy="1294.18" r="6.15"/><circle cx="539.86" cy="1268.26" r="6.15"/><circle cx="489.38" cy="1325.28" r="6.15"/><circle cx="492.04" cy="1309.73" r="6.15"/><circle cx="529.23" cy="1268.26" r="6.15"/><circle cx="509.75" cy="1292.45" r="6.15"/><circle cx="471.67" cy="1295.91" r="6.15"/><circle cx="500.01" cy="1335.64" r="6.15"/><circle cx="527.46" cy="1311.46" r="6.15"/><circle cx="532.77" cy="1263.08" r="6.15"/><circle cx="536.31" cy="1275.17" r="6.15"/><circle cx="493.81" cy="1328.73" r="6.15"/><circle cx="488.5" cy="1337.37" r="6.15"/><circle cx="504.44" cy="1327" r="6.15"/><circle cx="476.99" cy="1371.93" r="6.15"/><circle cx="570.85" cy="1269.99" r="6.15"/><circle cx="525.69" cy="1225.07" r="6.15"/><circle cx="540.74" cy="1333.92" r="6.15"/><circle cx="519.49" cy="1282.08" r="6.15"/><circle cx="475.22" cy="1320.09" r="6.15"/><circle cx="469.9" cy="1314.91" r="6.15"/><circle cx="515.95" cy="1307.13" r="6.15"/><circle cx="522.15" cy="1337.37" r="6.15"/><circle cx="511.52" cy="1321.82" r="6.15"/><circle cx="478.76" cy="1332.19" r="6.15"/><circle cx="484.96" cy="1311.46" r="6.15"/><circle cx="519.49" cy="1299.36" r="6.15"/><circle cx="474.33" cy="1351.19" r="6.15"/><circle cx="530.12" cy="1330.46" r="6.15"/><circle cx="552.25" cy="1256.17" r="6.15"/><circle cx="493.81" cy="1313.18" r="6.15"/><circle cx="492.04" cy="1308" r="6.15"/><circle cx="535.43" cy="1285.54" r="6.15"/><circle cx="490.27" cy="1249.26" r="6.15"/><circle cx="533.66" cy="1264.81" r="6.15"/><circle cx="468.13" cy="1387.47" r="6.15"/><circle cx="504.24" cy="1321.82" r="6.15"/><circle cx="516.83" cy="1313.18" r="6.15"/><circle cx="517.72" cy="1308" r="6.15"/><circle cx="507.98" cy="1352.92" r="6.15"/><circle cx="502.67" cy="1339.1" r="6.15"/><circle cx="532.77" cy="1271.72" r="6.15"/><circle cx="510.63" cy="1276.9" r="6.15"/><circle cx="497.35" cy="1356.38" r="6.15"/><circle cx="577.93" cy="1256.17" r="6.15"/><circle cx="537.2" cy="1275.17" r="6.15"/><circle cx="527.46" cy="1290.72" r="6.15"/><circle cx="534.54" cy="1288.99" r="6.15"/><circle cx="512.41" cy="1280.36" r="6.15"/><circle cx="476.99" cy="1361.56" r="6.15"/><circle cx="617.77" cy="1242.35" r="6.15"/><circle cx="535.43" cy="1276.9" r="6.15"/><circle cx="526.57" cy="1330.46" r="6.15"/><circle cx="505.32" cy="1278.63" r="6.15"/><circle cx="558.45" cy="1297.63" r="6.15"/><circle cx="503.55" cy="1346.01" r="6.15"/><circle cx="481.41" cy="1370.2" r="6.15"/><circle cx="500.89" cy="1323.91" r="6.15"/><circle cx="498.24" cy="1283.81" r="6.15"/><circle cx="489.38" cy="1318.37" r="6.15"/><circle cx="520.38" cy="1299.36" r="6.15"/><circle cx="524.8" cy="1278.63" r="6.15"/><circle cx="546.05" cy="1264.81" r="6.15"/><circle cx="473.45" cy="1354.65" r="6.15"/><circle cx="508.86" cy="1306.27" r="6.15"/><circle cx="538.08" cy="1295.91" r="6.15"/><circle cx="518.6" cy="1340.83" r="6.15"/><circle cx="508.86" cy="1328.73" r="6.15"/><circle cx="528.34" cy="1269.99" r="6.15"/><circle cx="452.19" cy="1339.1" r="6.15"/><circle cx="501.78" cy="1309.73" r="6.15"/><circle cx="472.56" cy="1349.47" r="6.15"/><circle cx="506.21" cy="1289.76" r="6.15"/><circle cx="544.28" cy="1240.62" r="6.15"/><circle cx="507.09" cy="1352.92" r="6.15"/><circle cx="521.26" cy="1257.9" r="6.15"/><circle cx="489.38" cy="1365.01" r="6.15"/><circle cx="585.01" cy="1273.45" r="6.15"/><circle cx="526.57" cy="1302.82" r="6.15"/><circle cx="494.7" cy="1363.29" r="6.15"/><circle cx="461.93" cy="1373.65" r="6.15"/><circle cx="491.15" cy="1347.74" r="6.15"/><circle cx="480.53" cy="1341.28" r="6.15"/><circle cx="497.35" cy="1357.84" r="6.15"/><circle cx="495.58" cy="1316.64" r="6.15"/><circle cx="531" cy="1287.27" r="6.15"/><circle cx="537.2" cy="1261.35" r="6.15"/></g><g fill="#19B02D"><circle cx="546.05" cy="1406.48" r="6.15"/><circle cx="518.6" cy="1368.47" r="6.15"/><circle cx="535.43" cy="1434.12" r="6.15"/><circle cx="492.93" cy="1371.93" r="6.15"/><circle cx="500.01" cy="1325.28" r="6.15"/><circle cx="541.63" cy="1411.66" r="6.15"/><circle cx="539.86" cy="1404.75" r="6.15"/><circle cx="495.58" cy="1397.84" r="6.15"/><circle cx="584.13" cy="1384.02" r="6.15"/><circle cx="544.28" cy="1417.88" r="6.15"/><circle cx="510.63" cy="1406.48" r="6.15"/><circle cx="535.43" cy="1442.76" r="6.15"/><circle cx="499.12" cy="1352.92" r="6.15"/><circle cx="543.4" cy="1385.75" r="6.15"/><circle cx="491.15" cy="1418.57" r="6.15"/><circle cx="536.31" cy="1427.21" r="6.15"/><circle cx="505.32" cy="1473.86" r="6.15"/><circle cx="493.81" cy="1394.39" r="6.15"/><circle cx="498.24" cy="1435.85" r="6.15"/><circle cx="531" cy="1409.94" r="6.15"/><circle cx="554.02" cy="1390.93" r="6.15"/><circle cx="525.69" cy="1401.3" r="6.15"/><circle cx="515.06" cy="1380.56" r="6.15"/><circle cx="506.21" cy="1385.75" r="6.15"/><circle cx="563.76" cy="1349.47" r="6.15"/><circle cx="491.15" cy="1387.47" r="6.15"/><circle cx="501.78" cy="1420.3" r="6.15"/><circle cx="545.17" cy="1408.21" r="6.15"/><circle cx="538.97" cy="1397.84" r="6.15"/><circle cx="533.66" cy="1422.03" r="6.15"/><circle cx="569.96" cy="1363.29" r="6.15"/><circle cx="538.08" cy="1406.48" r="6.15"/><circle cx="561.11" cy="1389.2" r="6.15"/><circle cx="490.27" cy="1378.84" r="6.15"/><circle cx="508.86" cy="1354.65" r="6.15"/><circle cx="537.2" cy="1415.12" r="6.15"/><circle cx="522.15" cy="1371.93" r="6.15"/><circle cx="512.41" cy="1408.21" r="6.15"/><circle cx="545.17" cy="1415.12" r="6.15"/><circle cx="540.74" cy="1399.57" r="6.15"/><circle cx="496.47" cy="1430.67" r="6.15"/><circle cx="524.8" cy="1401.3" r="6.15"/><circle cx="540.74" cy="1389.2" r="6.15"/><circle cx="527.46" cy="1375.38" r="6.15"/><circle cx="549.6" cy="1394.39" r="6.15"/><circle cx="523.03" cy="1425.48" r="6.15"/><circle cx="489.38" cy="1423.76" r="6.15"/><circle cx="494.7" cy="1357.63" r="6.15"/><circle cx="528.34" cy="1383.41" r="6.15"/><circle cx="503.55" cy="1342.55" r="6.15"/><circle cx="557.56" cy="1346.01" r="6.15"/><circle cx="503.55" cy="1339.1" r="6.15"/><circle cx="532.77" cy="1423.76" r="6.15"/><circle cx="500.89" cy="1422.03" r="6.15"/><circle cx="531.89" cy="1366.74" r="6.15"/><circle cx="499.12" cy="1413.39" r="6.15"/><circle cx="487.92" cy="1425.48" r="6.15"/><circle cx="550.48" cy="1328.73" r="6.15"/><circle cx="497.35" cy="1370.2" r="6.15"/><circle cx="542.51" cy="1382.29" r="6.15"/><circle cx="548.71" cy="1387.47" r="6.15"/><circle cx="530.12" cy="1439.31" r="6.15"/><circle cx="603.61" cy="1404.75" r="6.15"/><circle cx="547.82" cy="1399.57" r="6.15"/><circle cx="552.25" cy="1380.56" r="6.15"/></g>
</g>
<rect x="644.13" y="1212.63" width="267.85" height="273.67" fill="#E7E7E7"/>
<g clip-path="url(#c42)">
<line x1="644.13" y1="1418.57" x2="911.98" y2="1418.57" stroke="#FFFFFF" stroke-width="1.42"/>
<line x1="644.13" y1="1349.47" x2="911.98" y2="1349.47" stroke="#FFFFFF" stroke-width="1.42"/>
<line x1="644.13" y1="1280.36" x2="911.98" y2="1280.36" stroke="#FFFFFF" stroke-width="1.42"/>
<line x1="644.13" y1="1453.13" x2="911.98" y2="1453.13" stroke="#FFFFFF" stroke-width="2.85"/>
<line x1="644.13" y1="1384.02" x2="911.98" y2="1384.02" stroke="#FFFFFF" stroke-width="2.85"/>
<line x1="644.13" y1="1314.91" x2="911.98" y2="1314.91" stroke="#FFFFFF" stroke-width="2.85"/>
<line x1="644.13" y1="1245.8" x2="911.98" y2="1245.8" stroke="#FFFFFF" stroke-width="2.85"/>
<line x1="675.15" y1="1212.63" x2="675.15" y2="1486.3" stroke="#FFFFFF" stroke-width="1.42"/>
<line x1="747.62" y1="1212.63" x2="747.62" y2="1486.3" stroke="#FFFFFF" stroke-width="1.42"/>
<line x1="820.09" y1="1212.63" x2="820.09" y2="1486.3" stroke="#FFFFFF" stroke-width="1.42"/>
<line x1="892.56" y1="1212.63" x2="892.56" y2="1486.3" stroke="#FFFFFF" stroke-width="1.42"/>
<line x1="711.38" y1="1212.63" x2="711.38" y2="1486.3" stroke="#FFFFFF" stroke-width="2.85"/>
<line x1="783.85" y1="1212.63" x2="783.85" y2="1486.3" stroke="#FFFFFF" stroke-width="2.85"/>
<line x1="856.32" y1="1212.63" x2="856.32" y2="1486.3" stroke="#FFFFFF" stroke-width="2.85"/>
<g fill="#19B02D"><circle cx="821.54" cy="1377.11" r="6.15"/></g><g fill="#F25F5C"><circle cx="827.33" cy="1411.66" r="6.15"/><circle cx="737.47" cy="1420.3" r="6.15"/><circle cx="772.26" cy="1453.13" r="6.15"/><circle cx="876.61" cy="1337.37" r="6.15"/><circle cx="778.05" cy="1403.02" r="6.15"/><circle cx="795.45" cy="1413.39" r="6.15"/><circle cx="824.44" cy="1390.93" r="6.15"/><circle cx="775.16" cy="1420.3" r="6.15"/></g><g fill="#19B02D"><circle cx="824.44" cy="1363.29" r="6.15"/></g><g fill="#F25F5C"><circle cx="815.74" cy="1432.4" r="6.15"/><circle cx="761.85" cy="1432.4" r="6.15"/><circle cx="873.72" cy="1333.92" r="6.15"/><circle cx="785.77" cy="1434.12" r="6.15"/><circle cx="769.36" cy="1408.21" r="6.15"/><circle cx="865.02" cy="1382.29" r="6.15"/><circle cx="757.76" cy="1437.58" r="6.15"/></g><g fill="#19B02D"><circle cx="847.63" cy="1351.19" r="6.15"/></g><g fill="#F25F5C"><circle cx="824.44" cy="1428.94" r="6.15"/><circle cx="795.45" cy="1446.22" r="6.15"/><circle cx="780.95" cy="1441.03" r="6.15"/><circle cx="792.55" cy="1399.57" r="6.15"/><circle cx="891.11" cy="1422.03" r="6.15"/><circle cx="792.55" cy="1434.12" r="6.15"/><circle cx="827.33" cy="1401.3" r="6.15"/><circle cx="821.54" cy="1392.66" r="6.15"/><circle cx="824.44" cy="1403.02" r="6.15"/><circle cx="804.14" cy="1397.84" r="6.15"/><circle cx="772.26" cy="1409.94" r="6.15"/></g><g fill="#19B02D"><circle cx="824.44" cy="1359.83" r="6.15"/></g><g fill="#F25F5C"><circle cx="838.93" cy="1370.2" r="6.15"/><circle cx="786.75" cy="1404.75" r="6.15"/><circle cx="801.25" cy="1385.75" r="6.15"/><circle cx="833.13" cy="1434.12" r="6.15"/></g><g fill="#19B02D"><circle cx="798.35" cy="1403.02" r="6.15"/></g><g fill="#F25F5C"><circle cx="812.84" cy="1351.19" r="6.15"/><circle cx="789.65" cy="1451.4" r="6.15"/><circle cx="807.04" cy="1389.2" r="6.15"/><circle cx="809.94" cy="1392.66" r="6.15"/><circle cx="818.64" cy="1387.47" r="6.15"/><circle cx="860.78" cy="1344.28" r="6.15"/><circle cx="818.64" cy="1430.67" r="6.15"/><circle cx="801.25" cy="1456.58" r="6.15"/><circle cx="725.88" cy="1449.67" r="6.15"/><circle cx="770.01" cy="1394.39" r="6.15"/><circle cx="786.75" cy="1422.03" r="6.15"/><circle cx="836.03" cy="1396.11" r="6.15"/><circle cx="795.45" cy="1408.21" r="6.15"/><circle cx="775.16" cy="1406.48" r="6.15"/><circle cx="856.32" cy="1384.02" r="6.15"/><circle cx="815.74" cy="1371.93" r="6.15"/><circle cx="809.94" cy="1408.21" r="6.15"/><circle cx="801.25" cy="1460.04" r="6.15"/><circle cx="766.46" cy="1377.11" r="6.15"/></g><g fill="#19B02D"><circle cx="809.94" cy="1390.93" r="6.15"/></g><g fill="#F25F5C"><circle cx="802.89" cy="1439.31" r="6.15"/><circle cx="807.04" cy="1425.48" r="6.15"/></g><g fill="#19B02D"><circle cx="841.83" cy="1359.83" r="6.15"/><circle cx="818.64" cy="1396.11" r="6.15"/><circle cx="856.32" cy="1333.92" r="6.15"/></g><g fill="#F25F5C"><circle cx="809.94" cy="1392.1" r="6.15"/><circle cx="798.35" cy="1415.12" r="6.15"/><circle cx="775.16" cy="1443.66" r="6.15"/><circle cx="798.35" cy="1437.58" r="6.15"/><circle cx="753.35" cy="1451.4" r="6.15"/><circle cx="812.84" cy="1387.47" r="6.15"/><circle cx="821.54" cy="1435.85" r="6.15"/><circle cx="818.64" cy="1394.39" r="6.15"/><circle cx="830.23" cy="1423.76" r="6.15"/><circle cx="792.55" cy="1444.49" r="6.15"/><circle cx="763.56" cy="1447.94" r="6.15"/></g><g fill="#19B02D"><circle cx="841.83" cy="1390.93" r="6.15"/></g><g fill="#F25F5C"><circle cx="824.44" cy="1435.85" r="6.15"/><circle cx="751.97" cy="1454.86" r="6.15"/><circle cx="827.33" cy="1428.94" r="6.15"/><circle cx="859.22" cy="1396.11" r="6.15"/><circle cx="801.25" cy="1404.75" r="6.15"/><circle cx="763.56" cy="1403.02" r="6.15"/><circle cx="821.54" cy="1439.31" r="6.15"/><circle cx="766.46" cy="1430.67" r="6.15"/><circle cx="760.66" cy="1415.12" r="6.15"/></g><g fill="#19B02D"><circle cx="770.02" cy="1365.98" r="6.15"/></g><g fill="#F25F5C"><circle cx="870.82" cy="1390.93" r="6.15"/><circle cx="798.35" cy="1435.85" r="6.15"/><circle cx="804.14" cy="1413.39" r="6.15"/></g><g fill="#19B02D"><circle cx="827.33" cy="1356.38" r="6.15"/></g><g fill="#F25F5C"><circle cx="772.26" cy="1426.36" r="6.15"/><circle cx="841.83" cy="1418.57" r="6.15"/><circle cx="836.03" cy="1365.01" r="6.15"/><circle cx="770.76" cy="1441.03" r="6.15"/><circle cx="763.56" cy="1404.75" r="6.15"/><circle cx="894.01" cy="1352.92" r="6.15"/><circle cx="815.74" cy="1373.65" r="6.15"/><circle cx="798.35" cy="1363.29" r="6.15"/><circle cx="740.37" cy="1423.76" r="6.15"/><circle cx="821.54" cy="1400.52" r="6.15"/><circle cx="847.63" cy="1418.57" r="6.15"/></g><g fill="#19B02D"><circle cx="891.11" cy="1352.92" r="6.15"/></g><g fill="#F25F5C"><circle cx="818.64" cy="1418.57" r="6.15"/><circle cx="794.65" cy="1385.75" r="6.15"/><circle cx="818.64" cy="1422.03" r="6.15"/><circle cx="769.36" cy="1428.94" r="6.15"/><circle cx="812.84" cy="1368.47" r="6.15"/></g><g fill="#19B02D"><circle cx="836.03" cy="1409.21" r="6.15"/></g><g fill="#F25F5C"><circle cx="815.74" cy="1401.3" r="6.15"/><circle cx="844.73" cy="1359.83" r="6.15"/><circle cx="812.84" cy="1389.2" r="6.15"/><circle cx="798.35" cy="1387.47" r="6.15"/><circle cx="775.16" cy="1409.23" r="6.15"/></g><g fill="#19B02D"><circle cx="841.83" cy="1374.58" r="6.15"/></g><g fill="#F25F5C"><circle cx="789.65" cy="1439.31" r="6.15"/><circle cx="801.25" cy="1423.76" r="6.15"/><circle cx="778.05" cy="1432.4" r="6.15"/><circle cx="792.55" cy="1425.48" r="6.15"/><circle cx="754.86" cy="1399.57" r="6.15"/></g><g fill="#19B02D"><circle cx="821.54" cy="1420.3" r="6.15"/></g><g fill="#F25F5C"><circle cx="769.36" cy="1422.03" r="6.15"/><circle cx="754.86" cy="1423.76" r="6.15"/><circle cx="812.84" cy="1368.47" r="6.15"/></g><g fill="#19B02D"><circle cx="772.26" cy="1392.66" r="6.15"/></g><g fill="#F25F5C"><circle cx="772.26" cy="1406.48" r="6.15"/><circle cx="780.95" cy="1409.94" r="6.15"/></g><g fill="#19B02D"><circle cx="780.95" cy="1380.56" r="6.15"/></g><g fill="#F25F5C"><circle cx="789.65" cy="1454.86" r="6.15"/><circle cx="824.44" cy="1389.2" r="6.15"/><circle cx="815.74" cy="1390.93" r="6.15"/><circle cx="763.56" cy="1413.39" r="6.15"/><circle cx="856.32" cy="1384.02" r="6.15"/><circle cx="818.64" cy="1411.66" r="6.15"/><circle cx="827.33" cy="1425.48" r="6.15"/></g><g fill="#19B02D"><circle cx="763.56" cy="1377.11" r="6.15"/></g><g fill="#F25F5C"><circle cx="757.76" cy="1460.04" r="6.15"/><circle cx="833.13" cy="1385.75" r="6.15"/><circle cx="828.64" cy="1427.21" r="6.15"/><circle cx="795.45" cy="1416.85" r="6.15"/><circle cx="740.37" cy="1442.76" r="6.15"/><circle cx="760.66" cy="1466.95" r="6.15"/><circle cx="772.26" cy="1415.12" r="6.15"/><circle cx="888.21" cy="1356.38" r="6.15"/><circle cx="775.16" cy="1416.85" r="6.15"/><circle cx="783.85" cy="1411.66" r="6.15"/><circle cx="815.74" cy="1442.76" r="6.15"/><circle cx="830.23" cy="1397.84" r="6.15"/><circle cx="838.93" cy="1420.3" r="6.15"/><circle cx="743.27" cy="1460.04" r="6.15"/><circle cx="757.76" cy="1463.49" r="6.15"/><circle cx="766.46" cy="1427.21" r="6.15"/><circle cx="778.05" cy="1416.85" r="6.15"/></g><g fill="#19B02D"><circle cx="801.25" cy="1403.02" r="6.15"/></g><g fill="#5087FF"><circle cx="685.29" cy="1316.64" r="6.15"/><circle cx="702.69" cy="1335.64" r="6.15"/><circle cx="711.38" cy="1327" r="6.15"/><circle cx="679.5" cy="1292.45" r="6.15"/><circle cx="772.26" cy="1252.71" r="6.15"/><circle cx="722.98" cy="1272.52" r="6.15"/><circle cx="714.28" cy="1259.62" r="6.15"/><circle cx="734.57" cy="1276.9" r="6.15"/><circle cx="714.28" cy="1323.55" r="6.15"/><circle cx="749.07" cy="1266.53" r="6.15"/><circle cx="682.39" cy="1325.28" r="6.15"/><circle cx="743.27" cy="1275.17" r="6.15"/><circle cx="718.89" cy="1301.09" r="6.15"/><circle cx="720.08" cy="1342.55" r="6.15"/><circle cx="734.57" cy="1280.36" r="6.15"/><circle cx="696.89" cy="1320.09" r="6.15"/><circle cx="720.08" cy="1332.94" r="6.15"/><circle cx="731.67" cy="1304.54" r="6.15"/><circle cx="691.09" cy="1318.37" r="6.15"/><circle cx="662.1" cy="1349.47" r="6.15"/><circle cx="722.98" cy="1333.92" r="6.15"/><circle cx="705.58" cy="1311.46" r="6.15"/><circle cx="662.1" cy="1368.47" r="6.15"/><circle cx="725.88" cy="1313.18" r="6.15"/><circle cx="691.09" cy="1285.54" r="6.15"/><circle cx="659.2" cy="1359.83" r="6.15"/><circle cx="670.8" cy="1327" r="6.15"/><circle cx="734.57" cy="1292.45" r="6.15"/><circle cx="737.47" cy="1294.18" r="6.15"/><circle cx="749.07" cy="1245.8" r="6.15"/><circle cx="678" cy="1333.92" r="6.15"/><circle cx="714.28" cy="1273.45" r="6.15"/><circle cx="740.37" cy="1294.18" r="6.15"/><circle cx="760.66" cy="1268.26" r="6.15"/><circle cx="673.7" cy="1325.28" r="6.15"/><circle cx="717.18" cy="1309.73" r="6.15"/><circle cx="746.17" cy="1268.26" r="6.15"/><circle cx="711.38" cy="1292.45" r="6.15"/><circle cx="714.28" cy="1295.91" r="6.15"/><circle cx="711.38" cy="1335.64" r="6.15"/><circle cx="699.79" cy="1311.46" r="6.15"/><circle cx="775.16" cy="1263.08" r="6.15"/><circle cx="728.78" cy="1275.17" r="6.15"/><circle cx="740.37" cy="1328.73" r="6.15"/><circle cx="665" cy="1337.37" r="6.15"/><circle cx="693.99" cy="1327" r="6.15"/><circle cx="691.09" cy="1371.93" r="6.15"/><circle cx="731.67" cy="1269.99" r="6.15"/><circle cx="717.18" cy="1225.07" r="6.15"/><circle cx="731.67" cy="1333.92" r="6.15"/><circle cx="696.89" cy="1282.08" r="6.15"/><circle cx="679.5" cy="1320.09" r="6.15"/><circle cx="656.3" cy="1314.91" r="6.15"/><circle cx="699.79" cy="1307.13" r="6.15"/><circle cx="699.79" cy="1337.37" r="6.15"/><circle cx="711.38" cy="1321.82" r="6.15"/><circle cx="717.18" cy="1332.19" r="6.15"/><circle cx="696.89" cy="1311.46" r="6.15"/><circle cx="727.35" cy="1299.36" r="6.15"/><circle cx="670.8" cy="1351.19" r="6.15"/><circle cx="708.48" cy="1330.46" r="6.15"/><circle cx="763.56" cy="1256.17" r="6.15"/><circle cx="708.48" cy="1313.18" r="6.15"/><circle cx="694.37" cy="1308" r="6.15"/><circle cx="728.78" cy="1285.54" r="6.15"/><circle cx="751.97" cy="1249.26" r="6.15"/><circle cx="734.57" cy="1264.81" r="6.15"/><circle cx="673.7" cy="1387.47" r="6.15"/><circle cx="688.19" cy="1321.82" r="6.15"/><circle cx="686.1" cy="1313.18" r="6.15"/><circle cx="714.28" cy="1308" r="6.15"/><circle cx="691.09" cy="1352.92" r="6.15"/><circle cx="702.3" cy="1339.1" r="6.15"/><circle cx="743.27" cy="1271.72" r="6.15"/><circle cx="728.78" cy="1276.9" r="6.15"/><circle cx="682.39" cy="1356.38" r="6.15"/><circle cx="740.37" cy="1256.17" r="6.15"/><circle cx="743.27" cy="1275.17" r="6.15"/><circle cx="751.97" cy="1290.72" r="6.15"/><circle cx="717.18" cy="1288.99" r="6.15"/><circle cx="725.88" cy="1280.36" r="6.15"/><circle cx="699.79" cy="1361.56" r="6.15"/><circle cx="769.36" cy="1242.35" r="6.15"/><circle cx="685.29" cy="1276.9" r="6.15"/><circle cx="676.6" cy="1330.46" r="6.15"/><circle cx="717.18" cy="1278.63" r="6.15"/><circle cx="775.16" cy="1297.63" r="6.15"/><circle cx="676.6" cy="1346.01" r="6.15"/><circle cx="688.19" cy="1370.2" r="6.15"/><circle cx="701.31" cy="1323.91" r="6.15"/><circle cx="731.67" cy="1283.81" r="6.15"/><circle cx="688.19" cy="1318.37" r="6.15"/><circle cx="676.6" cy="1299.36" r="6.15"/><circle cx="737.47" cy="1278.63" r="6.15"/><circle cx="740.37" cy="1264.81" r="6.15"/><circle cx="694.86" cy="1354.65" r="6.15"/><circle cx="714.28" cy="1306.27" r="6.15"/><circle cx="743.27" cy="1295.91" r="6.15"/><circle cx="693.99" cy="1340.83" r="6.15"/><circle cx="728.78" cy="1328.73" r="6.15"/><circle cx="746.17" cy="1269.99" r="6.15"/><circle cx="673.7" cy="1339.1" r="6.15"/><circle cx="705.58" cy="1309.73" r="6.15"/><circle cx="691.09" cy="1349.47" r="6.15"/><circle cx="688.19" cy="1289.76" r="6.15"/><circle cx="737.47" cy="1240.62" r="6.15"/><circle cx="679.5" cy="1352.92" r="6.15"/><circle cx="763.56" cy="1257.9" r="6.15"/><circle cx="682.39" cy="1365.01" r="6.15"/><circle cx="769.36" cy="1273.45" r="6.15"/><circle cx="717.18" cy="1302.82" r="6.15"/><circle cx="696.89" cy="1363.29" r="6.15"/><circle cx="667.9" cy="1373.65" r="6.15"/><circle cx="688.19" cy="1347.74" r="6.15"/><circle cx="669.2" cy="1341.28" r="6.15"/><circle cx="670.8" cy="1357.84" r="6.15"/><circle cx="710.51" cy="1316.64" r="6.15"/><circle cx="696.89" cy="1287.27" r="6.15"/><circle cx="746.17" cy="1261.35" r="6.15"/></g><g fill="#19B02D"><circle cx="794.54" cy="1406.48" r="6.15"/><circle cx="818.64" cy="1368.47" r="6.15"/><circle cx="838.93" cy="1434.12" r="6.15"/><circle cx="867.92" cy="1371.93" r="6.15"/><circle cx="841.83" cy="1325.28" r="6.15"/><circle cx="812.84" cy="1411.66" r="6.15"/><circle cx="812.84" cy="1404.75" r="6.15"/><circle cx="763.56" cy="1397.84" r="6.15"/><circle cx="850.53" cy="1384.02" r="6.15"/><circle cx="760.66" cy="1417.88" r="6.15"/><circle cx="815.74" cy="1406.48" r="6.15"/><circle cx="801.25" cy="1442.76" r="6.15"/><circle cx="838.93" cy="1352.92" r="6.15"/><circle cx="844.73" cy="1385.75" r="6.15"/><circle cx="746.17" cy="1418.57" r="6.15"/><circle cx="830.23" cy="1427.21" r="6.15"/><circle cx="757.76" cy="1473.86" r="6.15"/><circle cx="833.13" cy="1394.39" r="6.15"/><circle cx="804.14" cy="1435.85" r="6.15"/><circle cx="775.16" cy="1409.94" r="6.15"/><circle cx="824.44" cy="1390.93" r="6.15"/><circle cx="815.74" cy="1401.3" r="6.15"/><circle cx="815.74" cy="1380.56" r="6.15"/><circle cx="821.54" cy="1385.75" r="6.15"/><circle cx="853.42" cy="1349.47" r="6.15"/><circle cx="824.44" cy="1387.47" r="6.15"/><circle cx="786.75" cy="1420.3" r="6.15"/><circle cx="838.93" cy="1408.21" r="6.15"/><circle cx="789.65" cy="1397.84" r="6.15"/><circle cx="838.93" cy="1422.03" r="6.15"/><circle cx="879.51" cy="1363.29" r="6.15"/><circle cx="783.85" cy="1406.48" r="6.15"/><circle cx="844.73" cy="1389.2" r="6.15"/><circle cx="818.64" cy="1378.84" r="6.15"/><circle cx="807.04" cy="1354.65" r="6.15"/><circle cx="754.86" cy="1415.12" r="6.15"/><circle cx="891.11" cy="1371.93" r="6.15"/><circle cx="809.94" cy="1408.21" r="6.15"/><circle cx="850.53" cy="1415.12" r="6.15"/><circle cx="801.25" cy="1399.57" r="6.15"/><circle cx="769.36" cy="1430.67" r="6.15"/><circle cx="807.04" cy="1401.3" r="6.15"/><circle cx="882.41" cy="1389.2" r="6.15"/><circle cx="798.35" cy="1375.38" r="6.15"/><circle cx="821.54" cy="1394.39" r="6.15"/><circle cx="798.35" cy="1425.48" r="6.15"/><circle cx="812.84" cy="1423.76" r="6.15"/><circle cx="827.33" cy="1357.63" r="6.15"/><circle cx="861.33" cy="1383.41" r="6.15"/><circle cx="847.63" cy="1342.55" r="6.15"/><circle cx="856.32" cy="1346.01" r="6.15"/><circle cx="833.13" cy="1339.1" r="6.15"/><circle cx="778.05" cy="1423.76" r="6.15"/><circle cx="804.14" cy="1422.03" r="6.15"/><circle cx="850.53" cy="1366.74" r="6.15"/><circle cx="795.45" cy="1413.39" r="6.15"/><circle cx="789.65" cy="1425.48" r="6.15"/><circle cx="876.61" cy="1328.73" r="6.15"/><circle cx="899.8" cy="1370.2" r="6.15"/><circle cx="827.33" cy="1382.29" r="6.15"/><circle cx="845.58" cy="1387.47" r="6.15"/><circle cx="795.45" cy="1439.31" r="6.15"/><circle cx="792.55" cy="1404.75" r="6.15"/><circle cx="865.02" cy="1399.57" r="6.15"/><circle cx="809.94" cy="1380.56" r="6.15"/></g>
</g>
<rect x="926.16" y="1212.63" width="267.85" height="273.67" fill="#E7E7E7"/>
<g clip-path="url(#c43)">
<line x1="926.16" y1="1418.57" x2="1194.01" y2="1418.57" stroke="#FFFFFF" stroke-width="1.42"/>
<line x1="926.16" y1="1349.47" x2="1194.01" y2="1349.47" stroke="#FFFFFF" stroke-width="1.42"/>
<line x1="926.16" y1="1280.36" x2="1194.01" y2="1280.36" stroke="#FFFFFF" stroke-width="1.42"/>
<line x1="926.16" y1="1453.13" x2="1194.01" y2="1453.13" stroke="#FFFFFF" stroke-width="2.85"/>
<line x1="926.16" y1="1384.02" x2="1194.01" y2="1384.02" stroke="#FFFFFF" stroke-width="2.85"/>
<line x1="926.16" y1="1314.91" x2="1194.01" y2="1314.91" stroke="#FFFFFF" stroke-width="2.85"/>
<line x1="926.16" y1="1245.8" x2="1194.01" y2="1245.8" stroke="#FFFFFF" stroke-width="2.85"/>
<line x1="950.72" y1="1212.63" x2="950.72" y2="1486.3" stroke="#FFFFFF" stroke-width="1.42"/>
<line x1="991.99" y1="1212.63" x2="991.99" y2="1486.3" stroke="#FFFFFF" stroke-width="1.42"/>
<line x1="1033.26" y1="1212.63" x2="1033.26" y2="1486.3" stroke="#FFFFFF" stroke-width="1.42"/>
<line x1="1074.53" y1="1212.63" x2="1074.53" y2="1486.3" stroke="#FFFFFF" stroke-width="1.42"/>
<line x1="1115.8" y1="1212.63" x2="1115.8" y2="1486.3" stroke="#FFFFFF" stroke-width="1.42"/>
<line x1="1157.07" y1="1212.63" x2="1157.07" y2="1486.3" stroke="#FFFFFF" stroke-width="1.42"/>
<line x1="930.08" y1="1212.63" x2="930.08" y2="1486.3" stroke="#FFFFFF" stroke-width="2.85"/>
<line x1="971.35" y1="1212.63" x2="971.35" y2="1486.3" stroke="#FFFFFF" stroke-width="2.85"/>
<line x1="1012.62" y1="1212.63" x2="1012.62" y2="1486.3" stroke="#FFFFFF" stroke-width="2.85"/>
<line x1="1053.89" y1="1212.63" x2="1053.89" y2="1486.3" stroke="#FFFFFF" stroke-width="2.85"/>
<line x1="1095.17" y1="1212.63" x2="1095.17" y2="1486.3" stroke="#FFFFFF" stroke-width="2.85"/>
<line x1="1136.44" y1="1212.63" x2="1136.44" y2="1486.3" stroke="#FFFFFF" stroke-width="2.85"/>
<line x1="1177.71" y1="1212.63" x2="1177.71" y2="1486.3" stroke="#FFFFFF" stroke-width="2.85"/>
<g fill="#19B02D"><circle cx="1026.73" cy="1377.11" r="6.15"/></g><g fill="#F25F5C"><circle cx="1012.62" cy="1411.66" r="6.15"/><circle cx="987.86" cy="1420.3" r="6.15"/><circle cx="991.99" cy="1453.13" r="6.15"/><circle cx="1016.75" cy="1337.37" r="6.15"/><circle cx="1012.62" cy="1403.02" r="6.15"/><circle cx="1033.26" cy="1413.39" r="6.15"/><circle cx="1012.62" cy="1390.93" r="6.15"/><circle cx="1016.75" cy="1420.3" r="6.15"/></g><g fill="#19B02D"><circle cx="1086.91" cy="1363.29" r="6.15"/></g><g fill="#F25F5C"><circle cx="1033.26" cy="1432.4" r="6.15"/><circle cx="1000.24" cy="1432.4" r="6.15"/><circle cx="1045.64" cy="1333.92" r="6.15"/><circle cx="1045.64" cy="1434.12" r="6.15"/><circle cx="991.99" cy="1408.21" r="6.15"/><circle cx="1041.51" cy="1382.29" r="6.15"/><circle cx="975.48" cy="1437.58" r="6.15"/></g><g fill="#19B02D"><circle cx="1016.75" cy="1351.19" r="6.15"/></g><g fill="#F25F5C"><circle cx="1045.64" cy="1428.94" r="6.15"/><circle cx="1016.75" cy="1446.22" r="6.15"/><circle cx="996.11" cy="1441.03" r="6.15"/><circle cx="971.35" cy="1399.57" r="6.15"/><circle cx="996.11" cy="1422.03" r="6.15"/><circle cx="1010.1" cy="1434.12" r="6.15"/><circle cx="985.42" cy="1401.3" r="6.15"/><circle cx="1012.62" cy="1392.66" r="6.15"/><circle cx="1049.77" cy="1403.02" r="6.15"/><circle cx="996.11" cy="1397.84" r="6.15"/><circle cx="1012.62" cy="1409.94" r="6.15"/></g><g fill="#19B02D"><circle cx="1033.26" cy="1359.83" r="6.15"/></g><g fill="#F25F5C"><circle cx="1025" cy="1370.2" r="6.15"/><circle cx="979.61" cy="1404.75" r="6.15"/><circle cx="1016.75" cy="1385.75" r="6.15"/><circle cx="1012.62" cy="1434.12" r="6.15"/></g><g fill="#19B02D"><circle cx="1018.71" cy="1403.02" r="6.15"/></g><g fill="#F25F5C"><circle cx="1049.77" cy="1351.19" r="6.15"/><circle cx="1008.5" cy="1451.4" r="6.15"/><circle cx="996.11" cy="1389.2" r="6.15"/><circle cx="987.86" cy="1392.66" r="6.15"/><circle cx="1025" cy="1387.47" r="6.15"/><circle cx="1049.77" cy="1344.28" r="6.15"/><circle cx="1008.5" cy="1430.67" r="6.15"/><circle cx="993.19" cy="1456.58" r="6.15"/><circle cx="1004.37" cy="1449.67" r="6.15"/><circle cx="1041.51" cy="1394.39" r="6.15"/><circle cx="1066.28" cy="1422.03" r="6.15"/><circle cx="1037.39" cy="1396.11" r="6.15"/><circle cx="1025" cy="1408.21" r="6.15"/><circle cx="987.86" cy="1406.48" r="6.15"/><circle cx="1016.75" cy="1384.02" r="6.15"/><circle cx="1025" cy="1371.93" r="6.15"/><circle cx="1020.88" cy="1408.21" r="6.15"/><circle cx="1000.24" cy="1460.04" r="6.15"/><circle cx="1016.75" cy="1377.11" r="6.15"/></g><g fill="#19B02D"><circle cx="1049.77" cy="1390.93" r="6.15"/></g><g fill="#F25F5C"><circle cx="1009.78" cy="1439.31" r="6.15"/><circle cx="946.59" cy="1425.48" r="6.15"/></g><g fill="#19B02D"><circle cx="1037.39" cy="1359.83" r="6.15"/><circle cx="1004.37" cy="1396.11" r="6.15"/><circle cx="1066.28" cy="1333.92" r="6.15"/></g><g fill="#F25F5C"><circle cx="1029.13" cy="1392.1" r="6.15"/><circle cx="1062.15" cy="1415.12" r="6.15"/><circle cx="1026.99" cy="1443.66" r="6.15"/><circle cx="987.86" cy="1437.58" r="6.15"/><circle cx="963.1" cy="1451.4" r="6.15"/><circle cx="1001.63" cy="1387.47" r="6.15"/><circle cx="1012.62" cy="1435.85" r="6.15"/><circle cx="1008.5" cy="1394.39" r="6.15"/><circle cx="1012.62" cy="1423.76" r="6.15"/><circle cx="996.11" cy="1444.49" r="6.15"/><circle cx="967.22" cy="1447.94" r="6.15"/></g><g fill="#19B02D"><circle cx="1029.13" cy="1390.93" r="6.15"/></g><g fill="#F25F5C"><circle cx="1029.13" cy="1435.85" r="6.15"/><circle cx="987.86" cy="1454.86" r="6.15"/><circle cx="1016.75" cy="1428.94" r="6.15"/><circle cx="1029.13" cy="1396.11" r="6.15"/><circle cx="976.81" cy="1404.75" r="6.15"/><circle cx="1012.62" cy="1403.02" r="6.15"/><circle cx="993.69" cy="1439.31" r="6.15"/><circle cx="1020.88" cy="1430.67" r="6.15"/><circle cx="1020.88" cy="1415.12" r="6.15"/></g><g fill="#19B02D"><circle cx="1045.64" cy="1365.98" r="6.15"/></g><g fill="#F25F5C"><circle cx="991.99" cy="1390.93" r="6.15"/><circle cx="1008.5" cy="1435.85" r="6.15"/><circle cx="1033.26" cy="1413.39" r="6.15"/></g><g fill="#19B02D"><circle cx="1049.77" cy="1356.38" r="6.15"/></g><g fill="#F25F5C"><circle cx="1000.24" cy="1426.36" r="6.15"/><circle cx="971.35" cy="1418.57" r="6.15"/><circle cx="1012.62" cy="1365.01" r="6.15"/><circle cx="1012.62" cy="1441.03" r="6.15"/><circle cx="1004.37" cy="1404.75" r="6.15"/><circle cx="1020.88" cy="1352.92" r="6.15"/><circle cx="1000.24" cy="1373.65" r="6.15"/><circle cx="987.86" cy="1363.29" r="6.15"/><circle cx="1020.88" cy="1423.76" r="6.15"/><circle cx="996.11" cy="1400.52" r="6.15"/><circle cx="1029.13" cy="1418.57" r="6.15"/></g><g fill="#19B02D"><circle cx="1020.88" cy="1352.92" r="6.15"/></g><g fill="#F25F5C"><circle cx="1020.88" cy="1418.57" r="6.15"/><circle cx="1053.89" cy="1385.75" r="6.15"/><circle cx="1000.24" cy="1422.03" r="6.15"/><circle cx="1004.37" cy="1428.94" r="6.15"/><circle cx="1004.37" cy="1368.47" r="6.15"/></g><g fill="#19B02D"><circle cx="1037.39" cy="1409.21" r="6.15"/></g><g fill="#F25F5C"><circle cx="996.11" cy="1401.3" r="6.15"/><circle cx="1025" cy="1359.83" r="6.15"/><circle cx="991.99" cy="1389.2" r="6.15"/><circle cx="1012.62" cy="1387.47" r="6.15"/><circle cx="1012.62" cy="1409.23" r="6.15"/></g><g fill="#19B02D"><circle cx="1062.15" cy="1374.58" r="6.15"/></g><g fill="#F25F5C"><circle cx="983.73" cy="1439.31" r="6.15"/><circle cx="996.11" cy="1423.76" r="6.15"/><circle cx="971.35" cy="1432.4" r="6.15"/><circle cx="968.74" cy="1425.48" r="6.15"/><circle cx="983.73" cy="1399.57" r="6.15"/></g><g fill="#19B02D"><circle cx="1058.02" cy="1420.3" r="6.15"/></g><g fill="#F25F5C"><circle cx="954.84" cy="1422.03" r="6.15"/><circle cx="979.61" cy="1423.76" r="6.15"/><circle cx="967.93" cy="1368.47" r="6.15"/></g><g fill="#19B02D"><circle cx="1037.39" cy="1392.66" r="6.15"/></g><g fill="#F25F5C"><circle cx="1016.75" cy="1406.48" r="6.15"/><circle cx="996.11" cy="1409.94" r="6.15"/></g><g fill="#19B02D"><circle cx="1041.51" cy="1380.56" r="6.15"/></g><g fill="#F25F5C"><circle cx="1004.37" cy="1454.86" r="6.15"/><circle cx="1020.88" cy="1389.2" r="6.15"/><circle cx="1016.75" cy="1390.93" r="6.15"/><circle cx="987.86" cy="1413.39" r="6.15"/><circle cx="975.48" cy="1384.02" r="6.15"/><circle cx="971.35" cy="1411.66" r="6.15"/><circle cx="1016.75" cy="1425.48" r="6.15"/></g><g fill="#19B02D"><circle cx="1041.51" cy="1377.11" r="6.15"/></g><g fill="#F25F5C"><circle cx="1000.24" cy="1460.04" r="6.15"/><circle cx="1012.62" cy="1385.75" r="6.15"/><circle cx="984.92" cy="1427.21" r="6.15"/><circle cx="1000.24" cy="1416.85" r="6.15"/><circle cx="991.99" cy="1442.76" r="6.15"/><circle cx="1018.26" cy="1466.95" r="6.15"/><circle cx="1008.5" cy="1415.12" r="6.15"/><circle cx="1045.64" cy="1356.38" r="6.15"/><circle cx="1033.26" cy="1416.85" r="6.15"/><circle cx="996.11" cy="1411.66" r="6.15"/><circle cx="938.33" cy="1442.76" r="6.15"/><circle cx="996.11" cy="1397.84" r="6.15"/><circle cx="991.99" cy="1420.3" r="6.15"/><circle cx="963.1" cy="1460.04" r="6.15"/><circle cx="975.48" cy="1463.49" r="6.15"/><circle cx="1029.13" cy="1427.21" r="6.15"/><circle cx="971.35" cy="1416.85" r="6.15"/></g><g fill="#19B02D"><circle cx="1033.26" cy="1403.02" r="6.15"/></g><g fill="#5087FF"><circle cx="1115.8" cy="1316.64" r="6.15"/><circle cx="1095.17" cy="1335.64" r="6.15"/><circle cx="1107.55" cy="1327" r="6.15"/><circle cx="1140.56" cy="1292.45" r="6.15"/><circle cx="1177.2" cy="1252.71" r="6.15"/><circle cx="1148.82" cy="1272.52" r="6.15"/><circle cx="1181.84" cy="1259.62" r="6.15"/><circle cx="1101.59" cy="1276.9" r="6.15"/><circle cx="1128.18" cy="1323.55" r="6.15"/><circle cx="1136.44" cy="1266.53" r="6.15"/><circle cx="1103.42" cy="1325.28" r="6.15"/><circle cx="1136.44" cy="1275.17" r="6.15"/><circle cx="1136.44" cy="1301.09" r="6.15"/><circle cx="1093.2" cy="1342.55" r="6.15"/><circle cx="1132.31" cy="1280.36" r="6.15"/><circle cx="1111.67" cy="1320.09" r="6.15"/><circle cx="1086.91" cy="1332.94" r="6.15"/><circle cx="1144.69" cy="1304.54" r="6.15"/><circle cx="1115.8" cy="1318.37" r="6.15"/><circle cx="1091.04" cy="1349.47" r="6.15"/><circle cx="1111.67" cy="1333.92" r="6.15"/><circle cx="1132.31" cy="1311.46" r="6.15"/><circle cx="1091.04" cy="1368.47" r="6.15"/><circle cx="1128.18" cy="1313.18" r="6.15"/><circle cx="1119.93" cy="1285.54" r="6.15"/><circle cx="1086.91" cy="1359.83" r="6.15"/><circle cx="1135.05" cy="1327" r="6.15"/><circle cx="1144.69" cy="1292.45" r="6.15"/><circle cx="1148.82" cy="1294.18" r="6.15"/><circle cx="1136.44" cy="1245.8" r="6.15"/><circle cx="1099.29" cy="1333.92" r="6.15"/><circle cx="1165.33" cy="1273.45" r="6.15"/><circle cx="1140.56" cy="1294.18" r="6.15"/><circle cx="1157.07" cy="1268.26" r="6.15"/><circle cx="1086.91" cy="1325.28" r="6.15"/><circle cx="1124.06" cy="1309.73" r="6.15"/><circle cx="1169.45" cy="1268.26" r="6.15"/><circle cx="1107.55" cy="1292.45" r="6.15"/><circle cx="1091.04" cy="1295.91" r="6.15"/><circle cx="1099.29" cy="1335.64" r="6.15"/><circle cx="1115.8" cy="1311.46" r="6.15"/><circle cx="1159.18" cy="1263.08" r="6.15"/><circle cx="1152.95" cy="1275.17" r="6.15"/><circle cx="1107.55" cy="1328.73" r="6.15"/><circle cx="1157.07" cy="1337.37" r="6.15"/><circle cx="1103.42" cy="1327" r="6.15"/><circle cx="1099.29" cy="1371.93" r="6.15"/><circle cx="1181.84" cy="1269.99" r="6.15"/><circle cx="1140.56" cy="1225.07" r="6.15"/><circle cx="1140.56" cy="1333.92" r="6.15"/><circle cx="1103.42" cy="1282.08" r="6.15"/><circle cx="1086.91" cy="1320.09" r="6.15"/><circle cx="1115.8" cy="1314.91" r="6.15"/><circle cx="1126.22" cy="1307.13" r="6.15"/><circle cx="1126.86" cy="1337.37" r="6.15"/><circle cx="1115.8" cy="1321.82" r="6.15"/><circle cx="1115.8" cy="1332.19" r="6.15"/><circle cx="1118.65" cy="1311.46" r="6.15"/><circle cx="1157.07" cy="1299.36" r="6.15"/><circle cx="1107.55" cy="1351.19" r="6.15"/><circle cx="1119.93" cy="1330.46" r="6.15"/><circle cx="1151.96" cy="1256.17" r="6.15"/><circle cx="1099.29" cy="1313.18" r="6.15"/><circle cx="1124.06" cy="1308" r="6.15"/><circle cx="1128.18" cy="1285.54" r="6.15"/><circle cx="1148.82" cy="1249.26" r="6.15"/><circle cx="1148.82" cy="1264.81" r="6.15"/><circle cx="1086.91" cy="1387.47" r="6.15"/><circle cx="1091.04" cy="1321.82" r="6.15"/><circle cx="1118.2" cy="1313.18" r="6.15"/><circle cx="1143.12" cy="1308" r="6.15"/><circle cx="1103.42" cy="1352.92" r="6.15"/><circle cx="1140.56" cy="1339.1" r="6.15"/><circle cx="1177.71" cy="1271.72" r="6.15"/><circle cx="1134.57" cy="1276.9" r="6.15"/><circle cx="1095.17" cy="1356.38" r="6.15"/><circle cx="1177.71" cy="1256.17" r="6.15"/><circle cx="1143.93" cy="1275.17" r="6.15"/><circle cx="1160.51" cy="1290.72" r="6.15"/><circle cx="1136.44" cy="1288.99" r="6.15"/><circle cx="1119.93" cy="1280.36" r="6.15"/><circle cx="1107.55" cy="1361.56" r="6.15"/><circle cx="1177.71" cy="1242.35" r="6.15"/><circle cx="1124.06" cy="1276.9" r="6.15"/><circle cx="1078.66" cy="1330.46" r="6.15"/><circle cx="1103.42" cy="1278.63" r="6.15"/><circle cx="1152.95" cy="1297.63" r="6.15"/><circle cx="1115.8" cy="1346.01" r="6.15"/><circle cx="1111.67" cy="1370.2" r="6.15"/><circle cx="1115.8" cy="1323.91" r="6.15"/><circle cx="1124.06" cy="1283.81" r="6.15"/><circle cx="1095.17" cy="1318.37" r="6.15"/><circle cx="1095.17" cy="1299.36" r="6.15"/><circle cx="1140.56" cy="1278.63" r="6.15"/><circle cx="1177.71" cy="1264.81" r="6.15"/><circle cx="1111.67" cy="1354.65" r="6.15"/><circle cx="1132.31" cy="1306.27" r="6.15"/><circle cx="1173.58" cy="1295.91" r="6.15"/><circle cx="1066.28" cy="1340.83" r="6.15"/><circle cx="1132.31" cy="1328.73" r="6.15"/><circle cx="1173.58" cy="1269.99" r="6.15"/><circle cx="1111.67" cy="1339.1" r="6.15"/><circle cx="1111.67" cy="1309.73" r="6.15"/><circle cx="1091.04" cy="1349.47" r="6.15"/><circle cx="1115.8" cy="1289.76" r="6.15"/><circle cx="1181.84" cy="1240.62" r="6.15"/><circle cx="1099.29" cy="1352.92" r="6.15"/><circle cx="1173.58" cy="1257.9" r="6.15"/><circle cx="1119.93" cy="1365.01" r="6.15"/><circle cx="1169.45" cy="1273.45" r="6.15"/><circle cx="1148.82" cy="1302.82" r="6.15"/><circle cx="1110.23" cy="1363.29" r="6.15"/><circle cx="1095.17" cy="1373.65" r="6.15"/><circle cx="1124.06" cy="1347.74" r="6.15"/><circle cx="1091.04" cy="1341.28" r="6.15"/><circle cx="1099.29" cy="1357.84" r="6.15"/><circle cx="1132.31" cy="1316.64" r="6.15"/><circle cx="1107.55" cy="1287.27" r="6.15"/><circle cx="1181.84" cy="1261.35" r="6.15"/></g><g fill="#19B02D"><circle cx="1066.28" cy="1406.48" r="6.15"/><circle cx="1095.17" cy="1368.47" r="6.15"/><circle cx="1025" cy="1434.12" r="6.15"/><circle cx="1012.62" cy="1371.93" r="6.15"/><circle cx="1107.55" cy="1325.28" r="6.15"/><circle cx="1037.39" cy="1411.66" r="6.15"/><circle cx="1066.28" cy="1404.75" r="6.15"/><circle cx="991.99" cy="1397.84" r="6.15"/><circle cx="1082.78" cy="1384.02" r="6.15"/><circle cx="1033.26" cy="1417.88" r="6.15"/><circle cx="1053.89" cy="1406.48" r="6.15"/><circle cx="1058.02" cy="1442.76" r="6.15"/><circle cx="1041.51" cy="1352.92" r="6.15"/><circle cx="1000.24" cy="1385.75" r="6.15"/><circle cx="1020.88" cy="1418.57" r="6.15"/><circle cx="1070.4" cy="1427.21" r="6.15"/><circle cx="1020.88" cy="1473.86" r="6.15"/><circle cx="996.11" cy="1394.39" r="6.15"/><circle cx="963.1" cy="1435.85" r="6.15"/><circle cx="1012.62" cy="1409.94" r="6.15"/><circle cx="1062.15" cy="1390.93" r="6.15"/><circle cx="1035.21" cy="1401.3" r="6.15"/><circle cx="1062.15" cy="1380.56" r="6.15"/><circle cx="1025" cy="1385.75" r="6.15"/><circle cx="1074.53" cy="1349.47" r="6.15"/><circle cx="1016.75" cy="1387.47" r="6.15"/><circle cx="1016.75" cy="1420.3" r="6.15"/><circle cx="1037.39" cy="1408.21" r="6.15"/><circle cx="1049.77" cy="1397.84" r="6.15"/><circle cx="1029.13" cy="1422.03" r="6.15"/><circle cx="1058.02" cy="1363.29" r="6.15"/><circle cx="1053.89" cy="1406.48" r="6.15"/><circle cx="1045.64" cy="1389.2" r="6.15"/><circle cx="1012.62" cy="1378.84" r="6.15"/><circle cx="1041.51" cy="1354.65" r="6.15"/><circle cx="1025" cy="1415.12" r="6.15"/><circle cx="1099.29" cy="1371.93" r="6.15"/><circle cx="1029.13" cy="1408.21" r="6.15"/><circle cx="1037.39" cy="1415.12" r="6.15"/><circle cx="1041.51" cy="1399.57" r="6.15"/><circle cx="1020.88" cy="1430.67" r="6.15"/><circle cx="1053.89" cy="1401.3" r="6.15"/><circle cx="1029.13" cy="1389.2" r="6.15"/><circle cx="1041.51" cy="1375.38" r="6.15"/><circle cx="1058.02" cy="1394.39" r="6.15"/><circle cx="1004.37" cy="1425.48" r="6.15"/><circle cx="1045.64" cy="1423.76" r="6.15"/><circle cx="1033.26" cy="1357.63" r="6.15"/><circle cx="1058.02" cy="1383.41" r="6.15"/><circle cx="1078.66" cy="1342.55" r="6.15"/><circle cx="1074.53" cy="1346.01" r="6.15"/><circle cx="1099.29" cy="1339.1" r="6.15"/><circle cx="1012.62" cy="1423.76" r="6.15"/><circle cx="1037.39" cy="1422.03" r="6.15"/><circle cx="1041.51" cy="1366.74" r="6.15"/><circle cx="1037.39" cy="1413.39" r="6.15"/><circle cx="1033.26" cy="1425.48" r="6.15"/><circle cx="1095.17" cy="1328.73" r="6.15"/><circle cx="1029.13" cy="1370.2" r="6.15"/><circle cx="1029.13" cy="1382.29" r="6.15"/><circle cx="1041.51" cy="1387.47" r="6.15"/><circle cx="1012.62" cy="1439.31" r="6.15"/><circle cx="975.48" cy="1404.75" r="6.15"/><circle cx="1053.89" cy="1399.57" r="6.15"/><circle cx="1045.64" cy="1380.56" r="6.15"/></g>
</g>
<rect x="645.13" y="348.61" width="265.85" height="271.67" fill="#FFFFFF" stroke="#EAEAEA" stroke-width="2"/>
<text x="778.05" y="396.31" text-anchor="middle" font-size="29.44" fill="#555555">Corr: -0.229***</text>
<text x="765.78" y="454.04" text-anchor="middle" font-size="29.44" fill="#F25F5C">Cluster_1: 0.143</text>
<text x="765.78" y="511.77" text-anchor="middle" font-size="29.44" fill="#19B02D">Cluster_2: 0.087</text>
<text x="778.05" y="569.5" text-anchor="middle" font-size="29.44" fill="#5087FF">Cluster_3: 0.654***</text>
<rect x="927.16" y="348.61" width="265.85" height="271.67" fill="#FFFFFF" stroke="#EAEAEA" stroke-width="2"/>
<text x="1060.08" y="396.31" text-anchor="middle" font-size="29.44" fill="#555555">Corr: 0.653***</text>
<text x="1047.81" y="454.04" text-anchor="middle" font-size="29.44" fill="#F25F5C">Cluster_1: 0.026</text>
<text x="1047.81" y="511.77" text-anchor="middle" font-size="29.44" fill="#19B02D">Cluster_2: 0.105</text>
<text x="1060.08" y="569.5" text-anchor="middle" font-size="29.44" fill="#5087FF">Cluster_3: 0.664***</text>
<rect x="1209.19" y="348.61" width="265.85" height="271.67" fill="#FFFFFF" stroke="#EAEAEA" stroke-width="2"/>
<text x="1342.11" y="396.31" text-anchor="middle" font-size="29.44" fill="#555555">Corr: 0.589***</text>
<text x="1338.02" y="454.04" text-anchor="middle" font-size="29.44" fill="#F25F5C">Cluster_1: 0.271**</text>
<text x="1333.93" y="511.77" text-anchor="middle" font-size="29.44" fill="#19B02D">Cluster_2: -0.188.</text>
<text x="1342.11" y="569.5" text-anchor="middle" font-size="29.44" fill="#5087FF">Cluster_3: 0.667***</text>
<rect x="927.16" y="636.95" width="265.85" height="271.67" fill="#FFFFFF" stroke="#EAEAEA" stroke-width="2"/>
<text x="1060.08" y="684.65" text-anchor="middle" font-size="29.44" fill="#555555">Corr: -0.578***</text>
<text x="1055.99" y="742.38" text-anchor="middle" font-size="29.44" fill="#F25F5C">Cluster_1: 0.265**</text>
<text x="1055.99" y="800.11" text-anchor="middle" font-size="29.44" fill="#19B02D">Cluster_2: 0.331**</text>
<text x="1060.08" y="857.84" text-anchor="middle" font-size="29.44" fill="#5087FF">Cluster_3: 0.711***</text>
<rect x="1209.19" y="636.95" width="265.85" height="271.67" fill="#FFFFFF" stroke="#EAEAEA" stroke-width="2"/>
<text x="1342.11" y="684.65" text-anchor="middle" font-size="29.44" fill="#555555">Corr: -0.472***</text>
<text x="1342.11" y="742.38" text-anchor="middle" font-size="29.44" fill="#F25F5C">Cluster_1: 0.557***</text>
<text x="1342.11" y="800.11" text-anchor="middle" font-size="29.44" fill="#19B02D">Cluster_2: 0.536***</text>
<text x="1342.11" y="857.84" text-anchor="middle" font-size="29.44" fill="#5087FF">Cluster_3: 0.723***</text>
<rect x="1209.19" y="925.29" width="265.85" height="271.67" fill="#FFFFFF" stroke="#EAEAEA" stroke-width="2"/>
<text x="1342.11" y="972.99" text-anchor="middle" font-size="29.44" fill="#555555">Corr: 0.873***</text>
<text x="1342.11" y="1030.72" text-anchor="middle" font-size="29.44" fill="#F25F5C">Cluster_1: 0.317***</text>
<text x="1342.11" y="1088.45" text-anchor="middle" font-size="29.44" fill="#19B02D">Cluster_2: 0.465***</text>
<text x="1342.11" y="1146.18" text-anchor="middle" font-size="29.44" fill="#5087FF">Cluster_3: 0.711***</text>
</svg>
</body></html>
